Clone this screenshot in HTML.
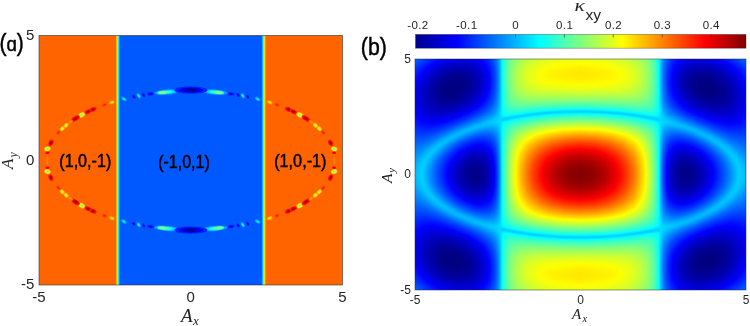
<!DOCTYPE html>
<html><head><meta charset="utf-8"><style>
html,body{margin:0;padding:0;background:#fff;}
body{width:750px;height:326px;overflow:hidden;position:relative;}
svg{position:absolute;left:0;top:0;display:block;}
text{font-family:"Liberation Sans",sans-serif;fill:#262626;}
.ser{font-family:"Liberation Serif",serif;font-style:italic;fill:#222;}
.lab{font-family:"Liberation Sans",sans-serif;fill:#000;}
</style></head><body>
<svg width="750" height="326" viewBox="0 0 750 326">
<defs>
<filter id="bl" x="-50%" y="-50%" width="200%" height="200%"><feGaussianBlur stdDeviation="0.7"/></filter>
<linearGradient id="ga" gradientUnits="userSpaceOnUse" x1="39.0" x2="342.5">
<stop offset="0" stop-color="#ff6400"/>
<stop offset="0.2524" stop-color="#ff6400"/>
<stop offset="0.2567" stop-color="#ffdd00"/>
<stop offset="0.2596" stop-color="#80ff80"/>
<stop offset="0.2626" stop-color="#00e0ff"/>
<stop offset="0.2669" stop-color="#0058ff"/>
<stop offset="0.7331" stop-color="#0058ff"/>
<stop offset="0.7374" stop-color="#00e0ff"/>
<stop offset="0.7404" stop-color="#80ff80"/>
<stop offset="0.7433" stop-color="#ffdd00"/>
<stop offset="0.7476" stop-color="#ff6400"/>
<stop offset="1" stop-color="#ff6400"/>
</linearGradient>
<linearGradient id="gcb" x1="0" x2="1" y1="0" y2="0"><stop offset="0" stop-color="#000090"/><stop offset="0.125" stop-color="#0000ff"/><stop offset="0.375" stop-color="#00ffff"/><stop offset="0.625" stop-color="#ffff00"/><stop offset="0.875" stop-color="#ff0000"/><stop offset="1" stop-color="#800000"/></linearGradient>
<clipPath id="ca"><rect x="39.0" y="35.5" width="303.5" height="249.5"/></clipPath>
<linearGradient id="r0" gradientUnits="userSpaceOnUse" x1="580.5" x2="745.5" spreadMethod="reflect"><stop offset="0" stop-color="#efff10"/><stop offset="0.1697" stop-color="#e4ff1b"/><stop offset="0.2909" stop-color="#c8ff37"/><stop offset="0.3636" stop-color="#a7ff58"/><stop offset="0.4121" stop-color="#7eff81"/><stop offset="0.4424" stop-color="#54ffab"/><stop offset="0.4606" stop-color="#2effd1"/><stop offset="0.4727" stop-color="#08fff7"/><stop offset="0.4788" stop-color="#00ebff"/><stop offset="0.4909" stop-color="#00afff"/><stop offset="0.503" stop-color="#0084ff"/><stop offset="0.5212" stop-color="#0059ff"/><stop offset="0.5515" stop-color="#002dff"/><stop offset="0.5939" stop-color="#0006ff"/><stop offset="0.6182" stop-color="#0000f6"/><stop offset="0.6788" stop-color="#0000e1"/><stop offset="0.7515" stop-color="#0000e1"/><stop offset="0.8303" stop-color="#0000f8"/><stop offset="0.8545" stop-color="#0004ff"/><stop offset="0.9515" stop-color="#003fff"/><stop offset="1" stop-color="#0061ff"/></linearGradient>
<linearGradient id="r1" gradientUnits="userSpaceOnUse" x1="580.5" x2="745.5" spreadMethod="reflect"><stop offset="0" stop-color="#f3ff0c"/><stop offset="0.1697" stop-color="#e7ff18"/><stop offset="0.2848" stop-color="#ceff31"/><stop offset="0.3576" stop-color="#adff52"/><stop offset="0.4061" stop-color="#86ff79"/><stop offset="0.4364" stop-color="#5fffa0"/><stop offset="0.4606" stop-color="#2effd1"/><stop offset="0.4727" stop-color="#08fff7"/><stop offset="0.4788" stop-color="#00ebff"/><stop offset="0.4909" stop-color="#00aeff"/><stop offset="0.503" stop-color="#0083ff"/><stop offset="0.5212" stop-color="#0057ff"/><stop offset="0.5515" stop-color="#002aff"/><stop offset="0.5939" stop-color="#0003ff"/><stop offset="0.6606" stop-color="#0000e1"/><stop offset="0.7273" stop-color="#0000da"/><stop offset="0.8061" stop-color="#0000ea"/><stop offset="0.8606" stop-color="#0002ff"/><stop offset="0.9576" stop-color="#003fff"/><stop offset="1" stop-color="#005dff"/></linearGradient>
<linearGradient id="r2" gradientUnits="userSpaceOnUse" x1="580.5" x2="745.5" spreadMethod="reflect"><stop offset="0" stop-color="#f7ff08"/><stop offset="0.1697" stop-color="#ecff13"/><stop offset="0.2848" stop-color="#d2ff2d"/><stop offset="0.3576" stop-color="#b0ff4f"/><stop offset="0.4061" stop-color="#89ff76"/><stop offset="0.4364" stop-color="#61ff9e"/><stop offset="0.4606" stop-color="#2fffd0"/><stop offset="0.4727" stop-color="#08fff7"/><stop offset="0.4788" stop-color="#00eaff"/><stop offset="0.4909" stop-color="#00aeff"/><stop offset="0.503" stop-color="#0082ff"/><stop offset="0.5212" stop-color="#0055ff"/><stop offset="0.5515" stop-color="#0027ff"/><stop offset="0.5939" stop-color="#0000fe"/><stop offset="0.6485" stop-color="#0000e1"/><stop offset="0.7152" stop-color="#0000d5"/><stop offset="0.7879" stop-color="#0000df"/><stop offset="0.8727" stop-color="#0003ff"/><stop offset="0.9697" stop-color="#0043ff"/><stop offset="1" stop-color="#0058ff"/></linearGradient>
<linearGradient id="r3" gradientUnits="userSpaceOnUse" x1="580.5" x2="745.5" spreadMethod="reflect"><stop offset="0" stop-color="#fcff03"/><stop offset="0.1636" stop-color="#f1ff0e"/><stop offset="0.2788" stop-color="#d8ff27"/><stop offset="0.3576" stop-color="#b4ff4b"/><stop offset="0.4061" stop-color="#8bff74"/><stop offset="0.4364" stop-color="#62ff9d"/><stop offset="0.4606" stop-color="#30ffcf"/><stop offset="0.4727" stop-color="#08fff7"/><stop offset="0.4788" stop-color="#00eaff"/><stop offset="0.4909" stop-color="#00acff"/><stop offset="0.503" stop-color="#0080ff"/><stop offset="0.5212" stop-color="#0053ff"/><stop offset="0.5515" stop-color="#0024ff"/><stop offset="0.5879" stop-color="#0000ff"/><stop offset="0.6424" stop-color="#0000de"/><stop offset="0.7091" stop-color="#0000cf"/><stop offset="0.7818" stop-color="#0000d7"/><stop offset="0.8667" stop-color="#0000f8"/><stop offset="0.8848" stop-color="#0003ff"/><stop offset="1" stop-color="#0053ff"/></linearGradient>
<linearGradient id="r4" gradientUnits="userSpaceOnUse" x1="580.5" x2="745.5" spreadMethod="reflect"><stop offset="0" stop-color="#fffe00"/><stop offset="0.1515" stop-color="#f7ff08"/><stop offset="0.2727" stop-color="#ddff22"/><stop offset="0.3515" stop-color="#baff45"/><stop offset="0.4" stop-color="#94ff6b"/><stop offset="0.4364" stop-color="#64ff9b"/><stop offset="0.4606" stop-color="#30ffcf"/><stop offset="0.4727" stop-color="#08fff7"/><stop offset="0.4788" stop-color="#00eaff"/><stop offset="0.4909" stop-color="#00abff"/><stop offset="0.503" stop-color="#007eff"/><stop offset="0.5212" stop-color="#0050ff"/><stop offset="0.5515" stop-color="#0021ff"/><stop offset="0.5818" stop-color="#0001ff"/><stop offset="0.6364" stop-color="#0000dc"/><stop offset="0.697" stop-color="#0000ca"/><stop offset="0.7697" stop-color="#0000ce"/><stop offset="0.8485" stop-color="#0000e9"/><stop offset="0.8909" stop-color="#0000ff"/><stop offset="1" stop-color="#004eff"/></linearGradient>
<linearGradient id="r5" gradientUnits="userSpaceOnUse" x1="580.5" x2="745.5" spreadMethod="reflect"><stop offset="0" stop-color="#fffa00"/><stop offset="0.1455" stop-color="#fbff04"/><stop offset="0.2667" stop-color="#e3ff1c"/><stop offset="0.3455" stop-color="#c1ff3e"/><stop offset="0.3939" stop-color="#9cff63"/><stop offset="0.4303" stop-color="#6fff90"/><stop offset="0.4545" stop-color="#40ffbf"/><stop offset="0.4667" stop-color="#1fffe0"/><stop offset="0.4727" stop-color="#08fff7"/><stop offset="0.4788" stop-color="#00eaff"/><stop offset="0.4909" stop-color="#00aaff"/><stop offset="0.503" stop-color="#007dff"/><stop offset="0.5212" stop-color="#004eff"/><stop offset="0.5515" stop-color="#001eff"/><stop offset="0.5758" stop-color="#0002ff"/><stop offset="0.6364" stop-color="#0000d7"/><stop offset="0.697" stop-color="#0000c5"/><stop offset="0.7697" stop-color="#0000c7"/><stop offset="0.8485" stop-color="#0000e2"/><stop offset="0.903" stop-color="#0002ff"/><stop offset="1" stop-color="#0048ff"/></linearGradient>
<linearGradient id="r6" gradientUnits="userSpaceOnUse" x1="580.5" x2="745.5" spreadMethod="reflect"><stop offset="0" stop-color="#fff700"/><stop offset="0.1697" stop-color="#fcff03"/><stop offset="0.2848" stop-color="#e0ff1f"/><stop offset="0.3576" stop-color="#bcff43"/><stop offset="0.4061" stop-color="#91ff6e"/><stop offset="0.4364" stop-color="#66ff99"/><stop offset="0.4606" stop-color="#31ffce"/><stop offset="0.4727" stop-color="#08fff7"/><stop offset="0.4788" stop-color="#00eaff"/><stop offset="0.4909" stop-color="#00aaff"/><stop offset="0.503" stop-color="#007bff"/><stop offset="0.5212" stop-color="#004cff"/><stop offset="0.5515" stop-color="#001bff"/><stop offset="0.5758" stop-color="#0000fe"/><stop offset="0.6242" stop-color="#0000d8"/><stop offset="0.6848" stop-color="#0000c1"/><stop offset="0.7515" stop-color="#0000be"/><stop offset="0.8303" stop-color="#0000d3"/><stop offset="0.9091" stop-color="#0000fe"/><stop offset="1" stop-color="#0043ff"/></linearGradient>
<linearGradient id="r7" gradientUnits="userSpaceOnUse" x1="580.5" x2="745.5" spreadMethod="reflect"><stop offset="0" stop-color="#fff400"/><stop offset="0.1879" stop-color="#fcff03"/><stop offset="0.2909" stop-color="#e1ff1e"/><stop offset="0.3576" stop-color="#beff41"/><stop offset="0.4061" stop-color="#93ff6c"/><stop offset="0.4364" stop-color="#67ff98"/><stop offset="0.4606" stop-color="#32ffcd"/><stop offset="0.4727" stop-color="#09fff6"/><stop offset="0.4788" stop-color="#00eaff"/><stop offset="0.4909" stop-color="#00a9ff"/><stop offset="0.503" stop-color="#007aff"/><stop offset="0.5212" stop-color="#004aff"/><stop offset="0.5515" stop-color="#0018ff"/><stop offset="0.5697" stop-color="#0002ff"/><stop offset="0.6242" stop-color="#0000d4"/><stop offset="0.6848" stop-color="#0000bc"/><stop offset="0.7515" stop-color="#0000b8"/><stop offset="0.8242" stop-color="#0000cb"/><stop offset="0.9091" stop-color="#0000f8"/><stop offset="0.9273" stop-color="#0006ff"/><stop offset="1" stop-color="#003eff"/></linearGradient>
<linearGradient id="r8" gradientUnits="userSpaceOnUse" x1="580.5" x2="745.5" spreadMethod="reflect"><stop offset="0" stop-color="#fff100"/><stop offset="0.1636" stop-color="#fffc00"/><stop offset="0.2303" stop-color="#f6ff09"/><stop offset="0.3212" stop-color="#d6ff29"/><stop offset="0.3818" stop-color="#adff52"/><stop offset="0.4182" stop-color="#85ff7a"/><stop offset="0.4485" stop-color="#50ffaf"/><stop offset="0.4667" stop-color="#20ffdf"/><stop offset="0.4727" stop-color="#09fff6"/><stop offset="0.4788" stop-color="#00e9ff"/><stop offset="0.4909" stop-color="#00a8ff"/><stop offset="0.503" stop-color="#0078ff"/><stop offset="0.5212" stop-color="#0048ff"/><stop offset="0.5515" stop-color="#0015ff"/><stop offset="0.5697" stop-color="#0000fe"/><stop offset="0.6182" stop-color="#0000d4"/><stop offset="0.6788" stop-color="#0000b9"/><stop offset="0.7455" stop-color="#0000b2"/><stop offset="0.8182" stop-color="#0000c2"/><stop offset="0.897" stop-color="#0000ea"/><stop offset="0.9273" stop-color="#0000ff"/><stop offset="1" stop-color="#0039ff"/></linearGradient>
<linearGradient id="r9" gradientUnits="userSpaceOnUse" x1="580.5" x2="745.5" spreadMethod="reflect"><stop offset="0" stop-color="#ffee00"/><stop offset="0.1636" stop-color="#fff900"/><stop offset="0.2242" stop-color="#faff05"/><stop offset="0.3152" stop-color="#dbff24"/><stop offset="0.3758" stop-color="#b5ff4a"/><stop offset="0.4182" stop-color="#86ff79"/><stop offset="0.4485" stop-color="#51ffae"/><stop offset="0.4667" stop-color="#20ffdf"/><stop offset="0.4727" stop-color="#09fff6"/><stop offset="0.4788" stop-color="#00e9ff"/><stop offset="0.4909" stop-color="#00a7ff"/><stop offset="0.503" stop-color="#0077ff"/><stop offset="0.5212" stop-color="#0046ff"/><stop offset="0.5515" stop-color="#0012ff"/><stop offset="0.5636" stop-color="#0003ff"/><stop offset="0.6242" stop-color="#0000cc"/><stop offset="0.6848" stop-color="#0000b2"/><stop offset="0.7515" stop-color="#0000ae"/><stop offset="0.8242" stop-color="#0000bf"/><stop offset="0.903" stop-color="#0000e9"/><stop offset="0.9333" stop-color="#0000fe"/><stop offset="1" stop-color="#0034ff"/></linearGradient>
<linearGradient id="r10" gradientUnits="userSpaceOnUse" x1="580.5" x2="745.5" spreadMethod="reflect"><stop offset="0" stop-color="#ffec00"/><stop offset="0.1636" stop-color="#fff700"/><stop offset="0.2303" stop-color="#faff05"/><stop offset="0.3212" stop-color="#daff25"/><stop offset="0.3758" stop-color="#b6ff49"/><stop offset="0.4182" stop-color="#87ff78"/><stop offset="0.4485" stop-color="#51ffae"/><stop offset="0.4667" stop-color="#20ffdf"/><stop offset="0.4727" stop-color="#09fff6"/><stop offset="0.4788" stop-color="#00e9ff"/><stop offset="0.4909" stop-color="#00a6ff"/><stop offset="0.503" stop-color="#0076ff"/><stop offset="0.5212" stop-color="#0044ff"/><stop offset="0.5515" stop-color="#0010ff"/><stop offset="0.5636" stop-color="#0000ff"/><stop offset="0.6121" stop-color="#0000d1"/><stop offset="0.6667" stop-color="#0000b4"/><stop offset="0.7333" stop-color="#0000a8"/><stop offset="0.8061" stop-color="#0000b3"/><stop offset="0.8848" stop-color="#0000d8"/><stop offset="0.9394" stop-color="#0000fe"/><stop offset="1" stop-color="#002fff"/></linearGradient>
<linearGradient id="r11" gradientUnits="userSpaceOnUse" x1="580.5" x2="745.5" spreadMethod="reflect"><stop offset="0" stop-color="#ffeb00"/><stop offset="0.1636" stop-color="#fff500"/><stop offset="0.2303" stop-color="#fcff03"/><stop offset="0.3212" stop-color="#dcff23"/><stop offset="0.3758" stop-color="#b8ff47"/><stop offset="0.4182" stop-color="#88ff77"/><stop offset="0.4424" stop-color="#5fffa0"/><stop offset="0.4606" stop-color="#33ffcc"/><stop offset="0.4727" stop-color="#09fff6"/><stop offset="0.4788" stop-color="#00e9ff"/><stop offset="0.4909" stop-color="#00a6ff"/><stop offset="0.503" stop-color="#0075ff"/><stop offset="0.5212" stop-color="#0042ff"/><stop offset="0.5515" stop-color="#000eff"/><stop offset="0.5636" stop-color="#0000fd"/><stop offset="0.6121" stop-color="#0000ce"/><stop offset="0.6667" stop-color="#0000b0"/><stop offset="0.7333" stop-color="#0000a3"/><stop offset="0.8061" stop-color="#0000ae"/><stop offset="0.8848" stop-color="#0000d2"/><stop offset="0.9455" stop-color="#0000fd"/><stop offset="1" stop-color="#002bff"/></linearGradient>
<linearGradient id="r12" gradientUnits="userSpaceOnUse" x1="580.5" x2="745.5" spreadMethod="reflect"><stop offset="0" stop-color="#ffe900"/><stop offset="0.1636" stop-color="#fff400"/><stop offset="0.2364" stop-color="#fcff03"/><stop offset="0.3212" stop-color="#ddff22"/><stop offset="0.3758" stop-color="#b9ff46"/><stop offset="0.4182" stop-color="#89ff76"/><stop offset="0.4424" stop-color="#5fffa0"/><stop offset="0.4606" stop-color="#34ffcb"/><stop offset="0.4727" stop-color="#09fff6"/><stop offset="0.4788" stop-color="#00e9ff"/><stop offset="0.4909" stop-color="#00a5ff"/><stop offset="0.503" stop-color="#0074ff"/><stop offset="0.5212" stop-color="#0041ff"/><stop offset="0.5515" stop-color="#000cff"/><stop offset="0.5636" stop-color="#0000fa"/><stop offset="0.6121" stop-color="#0000cb"/><stop offset="0.6667" stop-color="#0000ac"/><stop offset="0.7333" stop-color="#00009f"/><stop offset="0.8061" stop-color="#0000a9"/><stop offset="0.8848" stop-color="#0000cd"/><stop offset="0.9515" stop-color="#0000fe"/><stop offset="1" stop-color="#0027ff"/></linearGradient>
<linearGradient id="r13" gradientUnits="userSpaceOnUse" x1="580.5" x2="745.5" spreadMethod="reflect"><stop offset="0" stop-color="#ffe900"/><stop offset="0.1636" stop-color="#fff300"/><stop offset="0.2424" stop-color="#fcff03"/><stop offset="0.3273" stop-color="#dbff24"/><stop offset="0.3818" stop-color="#b4ff4b"/><stop offset="0.4182" stop-color="#8aff75"/><stop offset="0.4424" stop-color="#60ff9f"/><stop offset="0.4606" stop-color="#34ffcb"/><stop offset="0.4727" stop-color="#09fff6"/><stop offset="0.4788" stop-color="#00e9ff"/><stop offset="0.4909" stop-color="#00a5ff"/><stop offset="0.503" stop-color="#0073ff"/><stop offset="0.5212" stop-color="#0040ff"/><stop offset="0.5515" stop-color="#000aff"/><stop offset="0.5576" stop-color="#0001ff"/><stop offset="0.6061" stop-color="#0000cd"/><stop offset="0.6606" stop-color="#0000ab"/><stop offset="0.7212" stop-color="#00009c"/><stop offset="0.7879" stop-color="#0000a0"/><stop offset="0.8606" stop-color="#0000bb"/><stop offset="0.9394" stop-color="#0000ef"/><stop offset="0.9576" stop-color="#0000fe"/><stop offset="1" stop-color="#0023ff"/></linearGradient>
<linearGradient id="r14" gradientUnits="userSpaceOnUse" x1="580.5" x2="745.5" spreadMethod="reflect"><stop offset="0" stop-color="#ffe800"/><stop offset="0.1697" stop-color="#fff300"/><stop offset="0.2424" stop-color="#fdff02"/><stop offset="0.3273" stop-color="#dcff23"/><stop offset="0.3818" stop-color="#b5ff4a"/><stop offset="0.4182" stop-color="#8bff74"/><stop offset="0.4424" stop-color="#60ff9f"/><stop offset="0.4606" stop-color="#34ffcb"/><stop offset="0.4727" stop-color="#09fff6"/><stop offset="0.4788" stop-color="#00e9ff"/><stop offset="0.4909" stop-color="#00a4ff"/><stop offset="0.503" stop-color="#0072ff"/><stop offset="0.5212" stop-color="#003fff"/><stop offset="0.5515" stop-color="#0008ff"/><stop offset="0.5576" stop-color="#0000ff"/><stop offset="0.6" stop-color="#0000d0"/><stop offset="0.6545" stop-color="#0000ab"/><stop offset="0.7152" stop-color="#000099"/><stop offset="0.7818" stop-color="#00009b"/><stop offset="0.8545" stop-color="#0000b4"/><stop offset="0.9333" stop-color="#0000e6"/><stop offset="0.9636" stop-color="#0000ff"/><stop offset="1" stop-color="#001fff"/></linearGradient>
<linearGradient id="r15" gradientUnits="userSpaceOnUse" x1="580.5" x2="745.5" spreadMethod="reflect"><stop offset="0" stop-color="#ffe800"/><stop offset="0.1697" stop-color="#fff300"/><stop offset="0.2485" stop-color="#fbff04"/><stop offset="0.3273" stop-color="#ddff22"/><stop offset="0.3818" stop-color="#b6ff49"/><stop offset="0.4182" stop-color="#8bff74"/><stop offset="0.4424" stop-color="#61ff9e"/><stop offset="0.4606" stop-color="#34ffcb"/><stop offset="0.4727" stop-color="#09fff6"/><stop offset="0.4788" stop-color="#00e9ff"/><stop offset="0.4909" stop-color="#00a4ff"/><stop offset="0.503" stop-color="#0071ff"/><stop offset="0.5212" stop-color="#003eff"/><stop offset="0.5515" stop-color="#0007ff"/><stop offset="0.5576" stop-color="#0000fd"/><stop offset="0.6" stop-color="#0000ce"/><stop offset="0.6545" stop-color="#0000a8"/><stop offset="0.7152" stop-color="#000095"/><stop offset="0.7818" stop-color="#000097"/><stop offset="0.8545" stop-color="#0000af"/><stop offset="0.9333" stop-color="#0000e2"/><stop offset="0.9697" stop-color="#0002ff"/><stop offset="1" stop-color="#001bff"/></linearGradient>
<linearGradient id="r16" gradientUnits="userSpaceOnUse" x1="580.5" x2="745.5" spreadMethod="reflect"><stop offset="0" stop-color="#ffe800"/><stop offset="0.1697" stop-color="#fff300"/><stop offset="0.2485" stop-color="#fcff03"/><stop offset="0.3273" stop-color="#ddff22"/><stop offset="0.3818" stop-color="#b6ff49"/><stop offset="0.4182" stop-color="#8bff74"/><stop offset="0.4424" stop-color="#61ff9e"/><stop offset="0.4606" stop-color="#34ffcb"/><stop offset="0.4727" stop-color="#09fff6"/><stop offset="0.4788" stop-color="#00e9ff"/><stop offset="0.4909" stop-color="#00a3ff"/><stop offset="0.503" stop-color="#0071ff"/><stop offset="0.5212" stop-color="#003dff"/><stop offset="0.5515" stop-color="#0006ff"/><stop offset="0.5636" stop-color="#0000f4"/><stop offset="0.6121" stop-color="#0000c2"/><stop offset="0.6667" stop-color="#0000a0"/><stop offset="0.7273" stop-color="#000091"/><stop offset="0.7939" stop-color="#000096"/><stop offset="0.8667" stop-color="#0000b1"/><stop offset="0.9455" stop-color="#0000e7"/><stop offset="0.9758" stop-color="#0004ff"/><stop offset="1" stop-color="#0017ff"/></linearGradient>
<linearGradient id="r17" gradientUnits="userSpaceOnUse" x1="580.5" x2="745.5" spreadMethod="reflect"><stop offset="0" stop-color="#ffe900"/><stop offset="0.1697" stop-color="#fff300"/><stop offset="0.2485" stop-color="#fbff04"/><stop offset="0.3273" stop-color="#ddff22"/><stop offset="0.3818" stop-color="#b7ff48"/><stop offset="0.4182" stop-color="#8cff73"/><stop offset="0.4424" stop-color="#61ff9e"/><stop offset="0.4606" stop-color="#34ffcb"/><stop offset="0.4727" stop-color="#09fff6"/><stop offset="0.4788" stop-color="#00e9ff"/><stop offset="0.4909" stop-color="#00a3ff"/><stop offset="0.503" stop-color="#0070ff"/><stop offset="0.5212" stop-color="#003cff"/><stop offset="0.5515" stop-color="#0005ff"/><stop offset="0.5636" stop-color="#0000f3"/><stop offset="0.6121" stop-color="#0000c0"/><stop offset="0.6667" stop-color="#00009e"/><stop offset="0.7273" stop-color="#00008e"/><stop offset="0.7939" stop-color="#000092"/><stop offset="0.8667" stop-color="#0000ae"/><stop offset="0.9394" stop-color="#0000df"/><stop offset="0.9758" stop-color="#0000ff"/><stop offset="1" stop-color="#0014ff"/></linearGradient>
<linearGradient id="r18" gradientUnits="userSpaceOnUse" x1="580.5" x2="745.5" spreadMethod="reflect"><stop offset="0" stop-color="#ffea00"/><stop offset="0.1758" stop-color="#fff500"/><stop offset="0.2424" stop-color="#fdff02"/><stop offset="0.3273" stop-color="#ddff22"/><stop offset="0.3818" stop-color="#b7ff48"/><stop offset="0.4182" stop-color="#8cff73"/><stop offset="0.4424" stop-color="#61ff9e"/><stop offset="0.4606" stop-color="#35ffca"/><stop offset="0.4727" stop-color="#09fff6"/><stop offset="0.4788" stop-color="#00e9ff"/><stop offset="0.4909" stop-color="#00a3ff"/><stop offset="0.503" stop-color="#0070ff"/><stop offset="0.5212" stop-color="#003cff"/><stop offset="0.5515" stop-color="#0004ff"/><stop offset="0.5758" stop-color="#0000e3"/><stop offset="0.6242" stop-color="#0000b5"/><stop offset="0.6848" stop-color="#000095"/><stop offset="0.7515" stop-color="#00008a"/><stop offset="0.8182" stop-color="#000095"/><stop offset="0.8909" stop-color="#0000b8"/><stop offset="0.9636" stop-color="#0000f0"/><stop offset="0.9818" stop-color="#0002ff"/><stop offset="1" stop-color="#0010ff"/></linearGradient>
<linearGradient id="r19" gradientUnits="userSpaceOnUse" x1="580.5" x2="745.5" spreadMethod="reflect"><stop offset="0" stop-color="#ffec00"/><stop offset="0.1758" stop-color="#fff600"/><stop offset="0.2424" stop-color="#fcff03"/><stop offset="0.3273" stop-color="#ddff22"/><stop offset="0.3818" stop-color="#b6ff49"/><stop offset="0.4182" stop-color="#8cff73"/><stop offset="0.4424" stop-color="#61ff9e"/><stop offset="0.4606" stop-color="#35ffca"/><stop offset="0.4727" stop-color="#09fff6"/><stop offset="0.4788" stop-color="#00e9ff"/><stop offset="0.4909" stop-color="#00a3ff"/><stop offset="0.503" stop-color="#0070ff"/><stop offset="0.5212" stop-color="#003bff"/><stop offset="0.5515" stop-color="#0003ff"/><stop offset="0.6061" stop-color="#0000c2"/><stop offset="0.6606" stop-color="#00009d"/><stop offset="0.7212" stop-color="#00008a"/><stop offset="0.7879" stop-color="#00008b"/><stop offset="0.8606" stop-color="#0000a4"/><stop offset="0.9333" stop-color="#0000d3"/><stop offset="0.9818" stop-color="#0000fe"/><stop offset="1" stop-color="#000dff"/></linearGradient>
<linearGradient id="r20" gradientUnits="userSpaceOnUse" x1="580.5" x2="745.5" spreadMethod="reflect"><stop offset="0" stop-color="#ffed00"/><stop offset="0.1758" stop-color="#fff700"/><stop offset="0.2424" stop-color="#fbff04"/><stop offset="0.3273" stop-color="#dcff23"/><stop offset="0.3818" stop-color="#b6ff49"/><stop offset="0.4182" stop-color="#8cff73"/><stop offset="0.4424" stop-color="#61ff9e"/><stop offset="0.4606" stop-color="#35ffca"/><stop offset="0.4727" stop-color="#09fff6"/><stop offset="0.4788" stop-color="#00e9ff"/><stop offset="0.4909" stop-color="#00a3ff"/><stop offset="0.503" stop-color="#0070ff"/><stop offset="0.5212" stop-color="#003bff"/><stop offset="0.5515" stop-color="#0003ff"/><stop offset="0.6061" stop-color="#0000c2"/><stop offset="0.6606" stop-color="#00009c"/><stop offset="0.7212" stop-color="#000088"/><stop offset="0.7879" stop-color="#000088"/><stop offset="0.8606" stop-color="#0000a1"/><stop offset="0.9333" stop-color="#0000cf"/><stop offset="0.9879" stop-color="#0001ff"/><stop offset="1" stop-color="#000aff"/></linearGradient>
<linearGradient id="r21" gradientUnits="userSpaceOnUse" x1="580.5" x2="745.5" spreadMethod="reflect"><stop offset="0" stop-color="#fff000"/><stop offset="0.1818" stop-color="#fffa00"/><stop offset="0.2424" stop-color="#f9ff06"/><stop offset="0.3273" stop-color="#dbff24"/><stop offset="0.3818" stop-color="#b6ff49"/><stop offset="0.4182" stop-color="#8bff74"/><stop offset="0.4424" stop-color="#61ff9e"/><stop offset="0.4606" stop-color="#34ffcb"/><stop offset="0.4727" stop-color="#09fff6"/><stop offset="0.4788" stop-color="#00e9ff"/><stop offset="0.4909" stop-color="#00a3ff"/><stop offset="0.503" stop-color="#0070ff"/><stop offset="0.5212" stop-color="#003bff"/><stop offset="0.5515" stop-color="#0003ff"/><stop offset="0.6061" stop-color="#0000c1"/><stop offset="0.6606" stop-color="#00009b"/><stop offset="0.7212" stop-color="#000086"/><stop offset="0.7879" stop-color="#000086"/><stop offset="0.8606" stop-color="#00009e"/><stop offset="0.9333" stop-color="#0000cc"/><stop offset="0.9879" stop-color="#0000fd"/><stop offset="1" stop-color="#0007ff"/></linearGradient>
<linearGradient id="r22" gradientUnits="userSpaceOnUse" x1="580.5" x2="745.5" spreadMethod="reflect"><stop offset="0" stop-color="#fff300"/><stop offset="0.1818" stop-color="#fffc00"/><stop offset="0.2606" stop-color="#f3ff0c"/><stop offset="0.3394" stop-color="#d4ff2b"/><stop offset="0.3879" stop-color="#afff50"/><stop offset="0.4242" stop-color="#82ff7d"/><stop offset="0.4485" stop-color="#54ffab"/><stop offset="0.4667" stop-color="#21ffde"/><stop offset="0.4727" stop-color="#09fff6"/><stop offset="0.4788" stop-color="#00e9ff"/><stop offset="0.4909" stop-color="#00a3ff"/><stop offset="0.503" stop-color="#0070ff"/><stop offset="0.5212" stop-color="#003bff"/><stop offset="0.5515" stop-color="#0003ff"/><stop offset="0.6061" stop-color="#0000c1"/><stop offset="0.6606" stop-color="#00009a"/><stop offset="0.7212" stop-color="#000085"/><stop offset="0.7879" stop-color="#000084"/><stop offset="0.8606" stop-color="#00009b"/><stop offset="0.9333" stop-color="#0000ca"/><stop offset="0.9939" stop-color="#0001ff"/><stop offset="1" stop-color="#0005ff"/></linearGradient>
<linearGradient id="r23" gradientUnits="userSpaceOnUse" x1="580.5" x2="745.5" spreadMethod="reflect"><stop offset="0" stop-color="#fff600"/><stop offset="0.2061" stop-color="#fcff03"/><stop offset="0.303" stop-color="#e3ff1c"/><stop offset="0.3636" stop-color="#c3ff3c"/><stop offset="0.4061" stop-color="#9bff64"/><stop offset="0.4364" stop-color="#6dff92"/><stop offset="0.4545" stop-color="#45ffba"/><stop offset="0.4667" stop-color="#21ffde"/><stop offset="0.4727" stop-color="#09fff6"/><stop offset="0.4788" stop-color="#00e9ff"/><stop offset="0.4909" stop-color="#00a3ff"/><stop offset="0.503" stop-color="#0070ff"/><stop offset="0.5212" stop-color="#003bff"/><stop offset="0.5515" stop-color="#0003ff"/><stop offset="0.6061" stop-color="#0000c1"/><stop offset="0.6606" stop-color="#000099"/><stop offset="0.7212" stop-color="#000084"/><stop offset="0.7879" stop-color="#000082"/><stop offset="0.8545" stop-color="#000096"/><stop offset="0.9273" stop-color="#0000c2"/><stop offset="0.9939" stop-color="#0000fd"/><stop offset="1" stop-color="#0002ff"/></linearGradient>
<linearGradient id="r24" gradientUnits="userSpaceOnUse" x1="580.5" x2="745.5" spreadMethod="reflect"><stop offset="0" stop-color="#fff900"/><stop offset="0.1818" stop-color="#fcff03"/><stop offset="0.2909" stop-color="#e6ff19"/><stop offset="0.3576" stop-color="#c6ff39"/><stop offset="0.4" stop-color="#a1ff5e"/><stop offset="0.4303" stop-color="#77ff88"/><stop offset="0.4545" stop-color="#45ffba"/><stop offset="0.4667" stop-color="#21ffde"/><stop offset="0.4727" stop-color="#09fff6"/><stop offset="0.4788" stop-color="#00e9ff"/><stop offset="0.4909" stop-color="#00a3ff"/><stop offset="0.503" stop-color="#0071ff"/><stop offset="0.5212" stop-color="#003cff"/><stop offset="0.5515" stop-color="#0003ff"/><stop offset="0.6061" stop-color="#0000c1"/><stop offset="0.6606" stop-color="#000099"/><stop offset="0.7212" stop-color="#000083"/><stop offset="0.7939" stop-color="#000082"/><stop offset="0.8606" stop-color="#000097"/><stop offset="0.9333" stop-color="#0000c5"/><stop offset="1" stop-color="#0000ff"/></linearGradient>
<linearGradient id="r25" gradientUnits="userSpaceOnUse" x1="580.5" x2="745.5" spreadMethod="reflect"><stop offset="0" stop-color="#fffd00"/><stop offset="0.1758" stop-color="#f9ff06"/><stop offset="0.2848" stop-color="#e5ff1a"/><stop offset="0.3515" stop-color="#c8ff37"/><stop offset="0.4" stop-color="#a0ff5f"/><stop offset="0.4303" stop-color="#76ff89"/><stop offset="0.4545" stop-color="#44ffbb"/><stop offset="0.4667" stop-color="#21ffde"/><stop offset="0.4727" stop-color="#09fff6"/><stop offset="0.4788" stop-color="#00e9ff"/><stop offset="0.4909" stop-color="#00a4ff"/><stop offset="0.503" stop-color="#0071ff"/><stop offset="0.5212" stop-color="#003dff"/><stop offset="0.5515" stop-color="#0004ff"/><stop offset="0.5758" stop-color="#0000e2"/><stop offset="0.6242" stop-color="#0000b1"/><stop offset="0.6848" stop-color="#00008d"/><stop offset="0.7455" stop-color="#000080"/><stop offset="0.8121" stop-color="#000084"/><stop offset="0.8788" stop-color="#00009e"/><stop offset="0.9515" stop-color="#0000d2"/><stop offset="1" stop-color="#0000fd"/></linearGradient>
<linearGradient id="r26" gradientUnits="userSpaceOnUse" x1="580.5" x2="745.5" spreadMethod="reflect"><stop offset="0" stop-color="#fcff03"/><stop offset="0.2" stop-color="#f3ff0c"/><stop offset="0.303" stop-color="#dcff23"/><stop offset="0.3636" stop-color="#beff41"/><stop offset="0.4061" stop-color="#98ff67"/><stop offset="0.4364" stop-color="#6bff94"/><stop offset="0.4545" stop-color="#44ffbb"/><stop offset="0.4667" stop-color="#21ffde"/><stop offset="0.4727" stop-color="#09fff6"/><stop offset="0.4788" stop-color="#00e9ff"/><stop offset="0.4909" stop-color="#00a4ff"/><stop offset="0.503" stop-color="#0072ff"/><stop offset="0.5212" stop-color="#003dff"/><stop offset="0.5515" stop-color="#0005ff"/><stop offset="0.5636" stop-color="#0000f2"/><stop offset="0.6121" stop-color="#0000bc"/><stop offset="0.6667" stop-color="#000096"/><stop offset="0.7273" stop-color="#000081"/><stop offset="0.8121" stop-color="#000083"/><stop offset="0.8788" stop-color="#00009c"/><stop offset="0.9455" stop-color="#0000ca"/><stop offset="1" stop-color="#0000fb"/></linearGradient>
<linearGradient id="r27" gradientUnits="userSpaceOnUse" x1="580.5" x2="745.5" spreadMethod="reflect"><stop offset="0" stop-color="#f7ff08"/><stop offset="0.2061" stop-color="#eeff11"/><stop offset="0.303" stop-color="#d9ff26"/><stop offset="0.3636" stop-color="#bcff43"/><stop offset="0.4061" stop-color="#97ff68"/><stop offset="0.4364" stop-color="#6aff95"/><stop offset="0.4545" stop-color="#44ffbb"/><stop offset="0.4667" stop-color="#21ffde"/><stop offset="0.4727" stop-color="#09fff6"/><stop offset="0.4788" stop-color="#00e9ff"/><stop offset="0.4909" stop-color="#00a4ff"/><stop offset="0.503" stop-color="#0072ff"/><stop offset="0.5212" stop-color="#003eff"/><stop offset="0.5515" stop-color="#0006ff"/><stop offset="0.5636" stop-color="#0000f3"/><stop offset="0.6121" stop-color="#0000bd"/><stop offset="0.6667" stop-color="#000096"/><stop offset="0.7273" stop-color="#000081"/><stop offset="0.8121" stop-color="#000082"/><stop offset="0.8788" stop-color="#00009b"/><stop offset="0.9455" stop-color="#0000c9"/><stop offset="1" stop-color="#0000f9"/></linearGradient>
<linearGradient id="r28" gradientUnits="userSpaceOnUse" x1="580.5" x2="745.5" spreadMethod="reflect"><stop offset="0" stop-color="#f2ff0d"/><stop offset="0.2121" stop-color="#e9ff16"/><stop offset="0.3091" stop-color="#d4ff2b"/><stop offset="0.3697" stop-color="#b6ff49"/><stop offset="0.4121" stop-color="#8eff71"/><stop offset="0.4424" stop-color="#5effa1"/><stop offset="0.4606" stop-color="#33ffcc"/><stop offset="0.4727" stop-color="#09fff6"/><stop offset="0.4788" stop-color="#00e9ff"/><stop offset="0.4909" stop-color="#00a5ff"/><stop offset="0.503" stop-color="#0073ff"/><stop offset="0.5212" stop-color="#003fff"/><stop offset="0.5515" stop-color="#0007ff"/><stop offset="0.5576" stop-color="#0000fd"/><stop offset="0.6061" stop-color="#0000c4"/><stop offset="0.6606" stop-color="#00009b"/><stop offset="0.7212" stop-color="#000082"/><stop offset="0.8121" stop-color="#000081"/><stop offset="0.8788" stop-color="#00009a"/><stop offset="0.9455" stop-color="#0000c7"/><stop offset="1" stop-color="#0000f7"/></linearGradient>
<linearGradient id="r29" gradientUnits="userSpaceOnUse" x1="580.5" x2="745.5" spreadMethod="reflect"><stop offset="0" stop-color="#ecff13"/><stop offset="0.2182" stop-color="#e3ff1c"/><stop offset="0.3152" stop-color="#cfff30"/><stop offset="0.3758" stop-color="#afff50"/><stop offset="0.4121" stop-color="#8cff73"/><stop offset="0.4424" stop-color="#5dffa2"/><stop offset="0.4606" stop-color="#33ffcc"/><stop offset="0.4727" stop-color="#09fff6"/><stop offset="0.4788" stop-color="#00e9ff"/><stop offset="0.4909" stop-color="#00a6ff"/><stop offset="0.503" stop-color="#0074ff"/><stop offset="0.5212" stop-color="#0041ff"/><stop offset="0.5515" stop-color="#0008ff"/><stop offset="0.5576" stop-color="#0000fe"/><stop offset="0.6061" stop-color="#0000c5"/><stop offset="0.6606" stop-color="#00009c"/><stop offset="0.7212" stop-color="#000083"/><stop offset="0.8121" stop-color="#000081"/><stop offset="0.8788" stop-color="#000099"/><stop offset="0.9455" stop-color="#0000c6"/><stop offset="1" stop-color="#0000f5"/></linearGradient>
<linearGradient id="r30" gradientUnits="userSpaceOnUse" x1="580.5" x2="745.5" spreadMethod="reflect"><stop offset="0" stop-color="#e6ff19"/><stop offset="0.2242" stop-color="#deff21"/><stop offset="0.3212" stop-color="#c9ff36"/><stop offset="0.3758" stop-color="#adff52"/><stop offset="0.4121" stop-color="#8bff74"/><stop offset="0.4424" stop-color="#5dffa2"/><stop offset="0.4606" stop-color="#32ffcd"/><stop offset="0.4727" stop-color="#09fff6"/><stop offset="0.4788" stop-color="#00e9ff"/><stop offset="0.4909" stop-color="#00a6ff"/><stop offset="0.503" stop-color="#0075ff"/><stop offset="0.5212" stop-color="#0042ff"/><stop offset="0.5515" stop-color="#000aff"/><stop offset="0.5576" stop-color="#0001ff"/><stop offset="0.6121" stop-color="#0000c1"/><stop offset="0.6727" stop-color="#000096"/><stop offset="0.7394" stop-color="#000080"/><stop offset="0.8242" stop-color="#000083"/><stop offset="0.8909" stop-color="#00009e"/><stop offset="0.9576" stop-color="#0000cf"/><stop offset="1" stop-color="#0000f4"/></linearGradient>
<linearGradient id="r31" gradientUnits="userSpaceOnUse" x1="580.5" x2="745.5" spreadMethod="reflect"><stop offset="0" stop-color="#dfff20"/><stop offset="0.2303" stop-color="#d8ff27"/><stop offset="0.3212" stop-color="#c5ff3a"/><stop offset="0.3758" stop-color="#aaff55"/><stop offset="0.4121" stop-color="#89ff76"/><stop offset="0.4424" stop-color="#5cffa3"/><stop offset="0.4606" stop-color="#32ffcd"/><stop offset="0.4727" stop-color="#09fff6"/><stop offset="0.4788" stop-color="#00e9ff"/><stop offset="0.4909" stop-color="#00a7ff"/><stop offset="0.503" stop-color="#0076ff"/><stop offset="0.5212" stop-color="#0044ff"/><stop offset="0.5515" stop-color="#000cff"/><stop offset="0.5636" stop-color="#0000fa"/><stop offset="0.6121" stop-color="#0000c3"/><stop offset="0.6727" stop-color="#000098"/><stop offset="0.7394" stop-color="#000081"/><stop offset="0.8182" stop-color="#000082"/><stop offset="0.8848" stop-color="#00009b"/><stop offset="0.9515" stop-color="#0000c8"/><stop offset="1" stop-color="#0000f3"/></linearGradient>
<linearGradient id="r32" gradientUnits="userSpaceOnUse" x1="580.5" x2="745.5" spreadMethod="reflect"><stop offset="0" stop-color="#d8ff27"/><stop offset="0.2364" stop-color="#d1ff2e"/><stop offset="0.3273" stop-color="#bfff40"/><stop offset="0.3818" stop-color="#a3ff5c"/><stop offset="0.4182" stop-color="#80ff7f"/><stop offset="0.4424" stop-color="#5bffa4"/><stop offset="0.4606" stop-color="#31ffce"/><stop offset="0.4727" stop-color="#08fff7"/><stop offset="0.4788" stop-color="#00e9ff"/><stop offset="0.4909" stop-color="#00a8ff"/><stop offset="0.503" stop-color="#0078ff"/><stop offset="0.5212" stop-color="#0045ff"/><stop offset="0.5515" stop-color="#000eff"/><stop offset="0.5636" stop-color="#0000fc"/><stop offset="0.6121" stop-color="#0000c6"/><stop offset="0.6727" stop-color="#00009a"/><stop offset="0.7394" stop-color="#000082"/><stop offset="0.8182" stop-color="#000082"/><stop offset="0.8848" stop-color="#00009a"/><stop offset="0.9515" stop-color="#0000c7"/><stop offset="1" stop-color="#0000f2"/></linearGradient>
<linearGradient id="r33" gradientUnits="userSpaceOnUse" x1="580.5" x2="745.5" spreadMethod="reflect"><stop offset="0" stop-color="#d1ff2e"/><stop offset="0.2424" stop-color="#cbff34"/><stop offset="0.3333" stop-color="#b8ff47"/><stop offset="0.3879" stop-color="#9bff64"/><stop offset="0.4242" stop-color="#76ff89"/><stop offset="0.4485" stop-color="#4effb1"/><stop offset="0.4667" stop-color="#1fffe0"/><stop offset="0.4727" stop-color="#08fff7"/><stop offset="0.4788" stop-color="#00eaff"/><stop offset="0.4909" stop-color="#00a9ff"/><stop offset="0.503" stop-color="#0079ff"/><stop offset="0.5212" stop-color="#0047ff"/><stop offset="0.5515" stop-color="#0011ff"/><stop offset="0.5636" stop-color="#0000fe"/><stop offset="0.6121" stop-color="#0000c8"/><stop offset="0.6727" stop-color="#00009c"/><stop offset="0.7394" stop-color="#000083"/><stop offset="0.8061" stop-color="#000081"/><stop offset="0.8727" stop-color="#000094"/><stop offset="0.9394" stop-color="#0000bd"/><stop offset="1" stop-color="#0000f1"/></linearGradient>
<linearGradient id="r34" gradientUnits="userSpaceOnUse" x1="580.5" x2="745.5" spreadMethod="reflect"><stop offset="0" stop-color="#c9ff36"/><stop offset="0.2545" stop-color="#c3ff3c"/><stop offset="0.3394" stop-color="#b2ff4d"/><stop offset="0.3939" stop-color="#93ff6c"/><stop offset="0.4303" stop-color="#6cff93"/><stop offset="0.4545" stop-color="#3fffc0"/><stop offset="0.4667" stop-color="#1fffe0"/><stop offset="0.4727" stop-color="#08fff7"/><stop offset="0.4788" stop-color="#00eaff"/><stop offset="0.4909" stop-color="#00aaff"/><stop offset="0.503" stop-color="#007aff"/><stop offset="0.5212" stop-color="#0049ff"/><stop offset="0.5515" stop-color="#0013ff"/><stop offset="0.5636" stop-color="#0002ff"/><stop offset="0.6242" stop-color="#0000c0"/><stop offset="0.6848" stop-color="#000098"/><stop offset="0.7515" stop-color="#000083"/><stop offset="0.8182" stop-color="#000084"/><stop offset="0.8848" stop-color="#00009a"/><stop offset="0.9515" stop-color="#0000c6"/><stop offset="1" stop-color="#0000f0"/></linearGradient>
<linearGradient id="r35" gradientUnits="userSpaceOnUse" x1="580.5" x2="745.5" spreadMethod="reflect"><stop offset="0" stop-color="#c0ff3f"/><stop offset="0.2606" stop-color="#bcff43"/><stop offset="0.3455" stop-color="#abff54"/><stop offset="0.3939" stop-color="#90ff6f"/><stop offset="0.4303" stop-color="#6aff95"/><stop offset="0.4545" stop-color="#3fffc0"/><stop offset="0.4667" stop-color="#1effe1"/><stop offset="0.4727" stop-color="#08fff7"/><stop offset="0.4788" stop-color="#00eaff"/><stop offset="0.4909" stop-color="#00abff"/><stop offset="0.503" stop-color="#007cff"/><stop offset="0.5212" stop-color="#004cff"/><stop offset="0.5515" stop-color="#0016ff"/><stop offset="0.5697" stop-color="#0000fc"/><stop offset="0.6242" stop-color="#0000c3"/><stop offset="0.6848" stop-color="#00009b"/><stop offset="0.7515" stop-color="#000085"/><stop offset="0.8182" stop-color="#000085"/><stop offset="0.8848" stop-color="#00009a"/><stop offset="0.9515" stop-color="#0000c6"/><stop offset="1" stop-color="#0000ef"/></linearGradient>
<linearGradient id="r36" gradientUnits="userSpaceOnUse" x1="580.5" x2="745.5" spreadMethod="reflect"><stop offset="0" stop-color="#b7ff48"/><stop offset="0.2727" stop-color="#b4ff4b"/><stop offset="0.3515" stop-color="#a4ff5b"/><stop offset="0.4" stop-color="#88ff77"/><stop offset="0.4303" stop-color="#68ff97"/><stop offset="0.4545" stop-color="#3effc1"/><stop offset="0.4667" stop-color="#1effe1"/><stop offset="0.4727" stop-color="#08fff7"/><stop offset="0.4788" stop-color="#00eaff"/><stop offset="0.4909" stop-color="#00acff"/><stop offset="0.503" stop-color="#007eff"/><stop offset="0.5212" stop-color="#004eff"/><stop offset="0.5515" stop-color="#0019ff"/><stop offset="0.5697" stop-color="#0000ff"/><stop offset="0.6242" stop-color="#0000c6"/><stop offset="0.6848" stop-color="#00009e"/><stop offset="0.7515" stop-color="#000087"/><stop offset="0.8182" stop-color="#000086"/><stop offset="0.8848" stop-color="#00009b"/><stop offset="0.9515" stop-color="#0000c6"/><stop offset="1" stop-color="#0000ef"/></linearGradient>
<linearGradient id="r37" gradientUnits="userSpaceOnUse" x1="580.5" x2="745.5" spreadMethod="reflect"><stop offset="0" stop-color="#aeff51"/><stop offset="0.2788" stop-color="#adff52"/><stop offset="0.3576" stop-color="#9cff63"/><stop offset="0.4061" stop-color="#80ff7f"/><stop offset="0.4364" stop-color="#5dffa2"/><stop offset="0.4545" stop-color="#3dffc2"/><stop offset="0.4667" stop-color="#1dffe2"/><stop offset="0.4727" stop-color="#08fff7"/><stop offset="0.4788" stop-color="#00eaff"/><stop offset="0.4909" stop-color="#00adff"/><stop offset="0.503" stop-color="#0080ff"/><stop offset="0.5212" stop-color="#0051ff"/><stop offset="0.5515" stop-color="#001cff"/><stop offset="0.5697" stop-color="#0003ff"/><stop offset="0.6121" stop-color="#0000d5"/><stop offset="0.6727" stop-color="#0000a8"/><stop offset="0.7394" stop-color="#00008c"/><stop offset="0.8061" stop-color="#000087"/><stop offset="0.8727" stop-color="#000097"/><stop offset="0.9394" stop-color="#0000bc"/><stop offset="1" stop-color="#0000ef"/></linearGradient>
<linearGradient id="r38" gradientUnits="userSpaceOnUse" x1="580.5" x2="745.5" spreadMethod="reflect"><stop offset="0" stop-color="#a4ff5b"/><stop offset="0.2848" stop-color="#a5ff5a"/><stop offset="0.3636" stop-color="#95ff6a"/><stop offset="0.4061" stop-color="#7cff83"/><stop offset="0.4364" stop-color="#5bffa4"/><stop offset="0.4545" stop-color="#3bffc4"/><stop offset="0.4667" stop-color="#1dffe2"/><stop offset="0.4727" stop-color="#07fff8"/><stop offset="0.4788" stop-color="#00eaff"/><stop offset="0.4909" stop-color="#00aeff"/><stop offset="0.503" stop-color="#0082ff"/><stop offset="0.5212" stop-color="#0053ff"/><stop offset="0.5515" stop-color="#0020ff"/><stop offset="0.5758" stop-color="#0000ff"/><stop offset="0.6303" stop-color="#0000c9"/><stop offset="0.697" stop-color="#00009f"/><stop offset="0.7636" stop-color="#00008b"/><stop offset="0.8303" stop-color="#00008c"/><stop offset="0.897" stop-color="#0000a3"/><stop offset="0.9636" stop-color="#0000d0"/><stop offset="1" stop-color="#0000ee"/></linearGradient>
<linearGradient id="r39" gradientUnits="userSpaceOnUse" x1="580.5" x2="745.5" spreadMethod="reflect"><stop offset="0" stop-color="#9aff65"/><stop offset="0.297" stop-color="#9dff62"/><stop offset="0.3697" stop-color="#8dff72"/><stop offset="0.4121" stop-color="#74ff8b"/><stop offset="0.4424" stop-color="#50ffaf"/><stop offset="0.4606" stop-color="#2cffd3"/><stop offset="0.4727" stop-color="#07fff8"/><stop offset="0.4788" stop-color="#00ebff"/><stop offset="0.4909" stop-color="#00afff"/><stop offset="0.503" stop-color="#0084ff"/><stop offset="0.5212" stop-color="#0056ff"/><stop offset="0.5576" stop-color="#001bff"/><stop offset="0.5818" stop-color="#0000fc"/><stop offset="0.6424" stop-color="#0000c3"/><stop offset="0.7091" stop-color="#00009d"/><stop offset="0.7758" stop-color="#00008c"/><stop offset="0.8424" stop-color="#000090"/><stop offset="0.9091" stop-color="#0000aa"/><stop offset="0.9758" stop-color="#0000db"/><stop offset="1" stop-color="#0000ee"/></linearGradient>
<linearGradient id="r40" gradientUnits="userSpaceOnUse" x1="580.5" x2="745.5" spreadMethod="reflect"><stop offset="0" stop-color="#8fff70"/><stop offset="0.303" stop-color="#95ff6a"/><stop offset="0.3758" stop-color="#85ff7a"/><stop offset="0.4182" stop-color="#6bff94"/><stop offset="0.4424" stop-color="#4effb1"/><stop offset="0.4606" stop-color="#2bffd4"/><stop offset="0.4727" stop-color="#07fff8"/><stop offset="0.4788" stop-color="#00ebff"/><stop offset="0.4909" stop-color="#00b1ff"/><stop offset="0.503" stop-color="#0086ff"/><stop offset="0.5212" stop-color="#0059ff"/><stop offset="0.5576" stop-color="#001fff"/><stop offset="0.5818" stop-color="#0001ff"/><stop offset="0.6485" stop-color="#0000c3"/><stop offset="0.7152" stop-color="#00009e"/><stop offset="0.7818" stop-color="#00008e"/><stop offset="0.8485" stop-color="#000094"/><stop offset="0.9152" stop-color="#0000af"/><stop offset="0.9818" stop-color="#0000e1"/><stop offset="1" stop-color="#0000ee"/></linearGradient>
<linearGradient id="r41" gradientUnits="userSpaceOnUse" x1="580.5" x2="745.5" spreadMethod="reflect"><stop offset="0" stop-color="#84ff7b"/><stop offset="0.3152" stop-color="#8cff73"/><stop offset="0.3818" stop-color="#7eff81"/><stop offset="0.4242" stop-color="#62ff9d"/><stop offset="0.4485" stop-color="#42ffbd"/><stop offset="0.4667" stop-color="#1bffe4"/><stop offset="0.4727" stop-color="#06fff9"/><stop offset="0.4788" stop-color="#00ebff"/><stop offset="0.4909" stop-color="#00b2ff"/><stop offset="0.5091" stop-color="#0078ff"/><stop offset="0.5333" stop-color="#0047ff"/><stop offset="0.5758" stop-color="#000cff"/><stop offset="0.5879" stop-color="#0000fe"/><stop offset="0.6485" stop-color="#0000c8"/><stop offset="0.7152" stop-color="#0000a2"/><stop offset="0.7818" stop-color="#000092"/><stop offset="0.8485" stop-color="#000096"/><stop offset="0.9152" stop-color="#0000b0"/><stop offset="0.9818" stop-color="#0000e1"/><stop offset="1" stop-color="#0000ef"/></linearGradient>
<linearGradient id="r42" gradientUnits="userSpaceOnUse" x1="580.5" x2="745.5" spreadMethod="reflect"><stop offset="0" stop-color="#78ff87"/><stop offset="0.3212" stop-color="#84ff7b"/><stop offset="0.3879" stop-color="#76ff89"/><stop offset="0.4242" stop-color="#5effa1"/><stop offset="0.4485" stop-color="#40ffbf"/><stop offset="0.4667" stop-color="#1affe5"/><stop offset="0.4727" stop-color="#06fff9"/><stop offset="0.4788" stop-color="#00ebff"/><stop offset="0.4909" stop-color="#00b4ff"/><stop offset="0.5091" stop-color="#007bff"/><stop offset="0.5333" stop-color="#004bff"/><stop offset="0.5758" stop-color="#0011ff"/><stop offset="0.5939" stop-color="#0000fc"/><stop offset="0.6606" stop-color="#0000c4"/><stop offset="0.7273" stop-color="#0000a2"/><stop offset="0.7939" stop-color="#000094"/><stop offset="0.8606" stop-color="#00009b"/><stop offset="0.9273" stop-color="#0000b8"/><stop offset="1" stop-color="#0000ef"/></linearGradient>
<linearGradient id="r43" gradientUnits="userSpaceOnUse" x1="580.5" x2="745.5" spreadMethod="reflect"><stop offset="0" stop-color="#6cff93"/><stop offset="0.3333" stop-color="#7bff84"/><stop offset="0.3939" stop-color="#6eff91"/><stop offset="0.4303" stop-color="#55ffaa"/><stop offset="0.4545" stop-color="#34ffcb"/><stop offset="0.4667" stop-color="#19ffe6"/><stop offset="0.4727" stop-color="#06fff9"/><stop offset="0.4788" stop-color="#00ebff"/><stop offset="0.4909" stop-color="#00b5ff"/><stop offset="0.5091" stop-color="#007eff"/><stop offset="0.5333" stop-color="#004fff"/><stop offset="0.5818" stop-color="#000fff"/><stop offset="0.6" stop-color="#0000fb"/><stop offset="0.6667" stop-color="#0000c6"/><stop offset="0.7394" stop-color="#0000a2"/><stop offset="0.8061" stop-color="#000097"/><stop offset="0.8727" stop-color="#0000a1"/><stop offset="0.9394" stop-color="#0000c1"/><stop offset="1" stop-color="#0000f0"/></linearGradient>
<linearGradient id="r44" gradientUnits="userSpaceOnUse" x1="580.5" x2="745.5" spreadMethod="reflect"><stop offset="0" stop-color="#60ff9f"/><stop offset="0.2303" stop-color="#6eff91"/><stop offset="0.3515" stop-color="#71ff8e"/><stop offset="0.4061" stop-color="#62ff9d"/><stop offset="0.4364" stop-color="#4bffb4"/><stop offset="0.4545" stop-color="#32ffcd"/><stop offset="0.4667" stop-color="#18ffe7"/><stop offset="0.4727" stop-color="#05fffa"/><stop offset="0.4788" stop-color="#00ecff"/><stop offset="0.4909" stop-color="#00b7ff"/><stop offset="0.5091" stop-color="#0081ff"/><stop offset="0.5333" stop-color="#0053ff"/><stop offset="0.5818" stop-color="#0015ff"/><stop offset="0.6" stop-color="#0002ff"/><stop offset="0.6788" stop-color="#0000c3"/><stop offset="0.7515" stop-color="#0000a3"/><stop offset="0.8182" stop-color="#00009b"/><stop offset="0.8848" stop-color="#0000a8"/><stop offset="0.9455" stop-color="#0000c7"/><stop offset="1" stop-color="#0000f0"/></linearGradient>
<linearGradient id="r45" gradientUnits="userSpaceOnUse" x1="580.5" x2="745.5" spreadMethod="reflect"><stop offset="0" stop-color="#53ffac"/><stop offset="0.2061" stop-color="#60ff9f"/><stop offset="0.3515" stop-color="#69ff96"/><stop offset="0.4061" stop-color="#5dffa2"/><stop offset="0.4364" stop-color="#48ffb7"/><stop offset="0.4545" stop-color="#30ffcf"/><stop offset="0.4667" stop-color="#17ffe8"/><stop offset="0.4727" stop-color="#05fffa"/><stop offset="0.4788" stop-color="#00ecff"/><stop offset="0.4909" stop-color="#00b9ff"/><stop offset="0.5091" stop-color="#0085ff"/><stop offset="0.5333" stop-color="#0058ff"/><stop offset="0.5818" stop-color="#001aff"/><stop offset="0.6061" stop-color="#0002ff"/><stop offset="0.6848" stop-color="#0000c5"/><stop offset="0.7576" stop-color="#0000a6"/><stop offset="0.8242" stop-color="#00009f"/><stop offset="0.8909" stop-color="#0000ac"/><stop offset="0.9515" stop-color="#0000cd"/><stop offset="1" stop-color="#0000f1"/></linearGradient>
<linearGradient id="r46" gradientUnits="userSpaceOnUse" x1="580.5" x2="745.5" spreadMethod="reflect"><stop offset="0" stop-color="#45ffba"/><stop offset="0.1879" stop-color="#52ffad"/><stop offset="0.3515" stop-color="#61ff9e"/><stop offset="0.4061" stop-color="#57ffa8"/><stop offset="0.4364" stop-color="#44ffbb"/><stop offset="0.4545" stop-color="#2effd1"/><stop offset="0.4667" stop-color="#16ffe9"/><stop offset="0.4727" stop-color="#04fffb"/><stop offset="0.4788" stop-color="#00ecff"/><stop offset="0.4909" stop-color="#00bbff"/><stop offset="0.5091" stop-color="#0088ff"/><stop offset="0.5394" stop-color="#0054ff"/><stop offset="0.5939" stop-color="#0014ff"/><stop offset="0.6182" stop-color="#0000fc"/><stop offset="0.6909" stop-color="#0000c8"/><stop offset="0.7636" stop-color="#0000aa"/><stop offset="0.8303" stop-color="#0000a3"/><stop offset="0.897" stop-color="#0000b1"/><stop offset="0.9576" stop-color="#0000d3"/><stop offset="1" stop-color="#0000f2"/></linearGradient>
<linearGradient id="r47" gradientUnits="userSpaceOnUse" x1="580.5" x2="745.5" spreadMethod="reflect"><stop offset="0" stop-color="#37ffc8"/><stop offset="0.1818" stop-color="#44ffbb"/><stop offset="0.3576" stop-color="#58ffa7"/><stop offset="0.4121" stop-color="#4fffb0"/><stop offset="0.4424" stop-color="#3bffc4"/><stop offset="0.4606" stop-color="#22ffdd"/><stop offset="0.4727" stop-color="#04fffb"/><stop offset="0.4788" stop-color="#00ecff"/><stop offset="0.4909" stop-color="#00bdff"/><stop offset="0.5091" stop-color="#008cff"/><stop offset="0.5394" stop-color="#0059ff"/><stop offset="0.5939" stop-color="#001aff"/><stop offset="0.6242" stop-color="#0000fd"/><stop offset="0.697" stop-color="#0000ca"/><stop offset="0.7697" stop-color="#0000ad"/><stop offset="0.8364" stop-color="#0000a7"/><stop offset="0.903" stop-color="#0000b6"/><stop offset="0.9636" stop-color="#0000d9"/><stop offset="1" stop-color="#0000f3"/></linearGradient>
<linearGradient id="r48" gradientUnits="userSpaceOnUse" x1="580.5" x2="745.5" spreadMethod="reflect"><stop offset="0" stop-color="#28ffd7"/><stop offset="0.1697" stop-color="#35ffca"/><stop offset="0.3636" stop-color="#4fffb0"/><stop offset="0.4182" stop-color="#46ffb9"/><stop offset="0.4485" stop-color="#31ffce"/><stop offset="0.4667" stop-color="#13ffec"/><stop offset="0.4727" stop-color="#03fffc"/><stop offset="0.497" stop-color="#00adff"/><stop offset="0.5152" stop-color="#0084ff"/><stop offset="0.5515" stop-color="#004fff"/><stop offset="0.6182" stop-color="#000aff"/><stop offset="0.6303" stop-color="#0000ff"/><stop offset="0.703" stop-color="#0000cd"/><stop offset="0.7758" stop-color="#0000b1"/><stop offset="0.8424" stop-color="#0000ab"/><stop offset="0.9091" stop-color="#0000bb"/><stop offset="0.9697" stop-color="#0000df"/><stop offset="1" stop-color="#0000f5"/></linearGradient>
<linearGradient id="r49" gradientUnits="userSpaceOnUse" x1="580.5" x2="745.5" spreadMethod="reflect"><stop offset="0" stop-color="#16ffe9"/><stop offset="0.1455" stop-color="#22ffdd"/><stop offset="0.3697" stop-color="#46ffb9"/><stop offset="0.4182" stop-color="#40ffbf"/><stop offset="0.4485" stop-color="#2dffd2"/><stop offset="0.4667" stop-color="#12ffed"/><stop offset="0.4727" stop-color="#02fffd"/><stop offset="0.497" stop-color="#00b0ff"/><stop offset="0.5152" stop-color="#0088ff"/><stop offset="0.5576" stop-color="#004eff"/><stop offset="0.6303" stop-color="#0007ff"/><stop offset="0.6485" stop-color="#0000f8"/><stop offset="0.7273" stop-color="#0000c8"/><stop offset="0.8" stop-color="#0000b2"/><stop offset="0.8667" stop-color="#0000b2"/><stop offset="0.9333" stop-color="#0000c9"/><stop offset="1" stop-color="#0000f6"/></linearGradient>
<linearGradient id="r50" gradientUnits="userSpaceOnUse" x1="580.5" x2="745.5" spreadMethod="reflect"><stop offset="0" stop-color="#00fcff"/><stop offset="0.09091" stop-color="#05fffa"/><stop offset="0.3697" stop-color="#3cffc3"/><stop offset="0.4242" stop-color="#38ffc7"/><stop offset="0.4485" stop-color="#2affd5"/><stop offset="0.4667" stop-color="#10ffef"/><stop offset="0.4727" stop-color="#01fffe"/><stop offset="0.497" stop-color="#00b3ff"/><stop offset="0.5212" stop-color="#0084ff"/><stop offset="0.5697" stop-color="#0047ff"/><stop offset="0.6424" stop-color="#0005ff"/><stop offset="0.6545" stop-color="#0000fa"/><stop offset="0.7333" stop-color="#0000cb"/><stop offset="0.8061" stop-color="#0000b6"/><stop offset="0.8727" stop-color="#0000b7"/><stop offset="0.9333" stop-color="#0000cc"/><stop offset="1" stop-color="#0000f8"/></linearGradient>
<linearGradient id="r51" gradientUnits="userSpaceOnUse" x1="580.5" x2="745.5" spreadMethod="reflect"><stop offset="0" stop-color="#00e0ff"/><stop offset="0.1091" stop-color="#00ebff"/><stop offset="0.1939" stop-color="#03fffc"/><stop offset="0.3455" stop-color="#2effd1"/><stop offset="0.4121" stop-color="#34ffcb"/><stop offset="0.4424" stop-color="#2affd5"/><stop offset="0.4606" stop-color="#18ffe7"/><stop offset="0.4727" stop-color="#00ffff"/><stop offset="0.497" stop-color="#00b6ff"/><stop offset="0.5212" stop-color="#0089ff"/><stop offset="0.5758" stop-color="#0048ff"/><stop offset="0.6545" stop-color="#0003ff"/><stop offset="0.7515" stop-color="#0000ca"/><stop offset="0.8242" stop-color="#0000b9"/><stop offset="0.8909" stop-color="#0000bf"/><stop offset="0.9515" stop-color="#0000d9"/><stop offset="1" stop-color="#0000f9"/></linearGradient>
<linearGradient id="r52" gradientUnits="userSpaceOnUse" x1="580.5" x2="745.5" spreadMethod="reflect"><stop offset="0" stop-color="#00d1ff"/><stop offset="0.1333" stop-color="#00d7ff"/><stop offset="0.2182" stop-color="#00f0ff"/><stop offset="0.2606" stop-color="#03fffc"/><stop offset="0.3636" stop-color="#26ffd9"/><stop offset="0.4242" stop-color="#2affd5"/><stop offset="0.4545" stop-color="#1cffe3"/><stop offset="0.4727" stop-color="#00feff"/><stop offset="0.497" stop-color="#00b9ff"/><stop offset="0.5212" stop-color="#008fff"/><stop offset="0.5818" stop-color="#004aff"/><stop offset="0.6667" stop-color="#0002ff"/><stop offset="0.7576" stop-color="#0000cf"/><stop offset="0.8303" stop-color="#0000be"/><stop offset="0.897" stop-color="#0000c4"/><stop offset="0.9576" stop-color="#0000df"/><stop offset="1" stop-color="#0000fb"/></linearGradient>
<linearGradient id="r53" gradientUnits="userSpaceOnUse" x1="580.5" x2="745.5" spreadMethod="reflect"><stop offset="0" stop-color="#00dcff"/><stop offset="0.1879" stop-color="#00d1ff"/><stop offset="0.2485" stop-color="#00e2ff"/><stop offset="0.3091" stop-color="#01fffe"/><stop offset="0.3818" stop-color="#1effe1"/><stop offset="0.4303" stop-color="#22ffdd"/><stop offset="0.4545" stop-color="#18ffe7"/><stop offset="0.4727" stop-color="#00fdff"/><stop offset="0.497" stop-color="#00bdff"/><stop offset="0.5212" stop-color="#0095ff"/><stop offset="0.5879" stop-color="#004cff"/><stop offset="0.6788" stop-color="#0002ff"/><stop offset="0.7697" stop-color="#0000d1"/><stop offset="0.8424" stop-color="#0000c3"/><stop offset="0.9091" stop-color="#0000cc"/><stop offset="0.9697" stop-color="#0000e9"/><stop offset="1" stop-color="#0000fd"/></linearGradient>
<linearGradient id="r54" gradientUnits="userSpaceOnUse" x1="580.5" x2="745.5" spreadMethod="reflect"><stop offset="0" stop-color="#00f8ff"/><stop offset="0.103" stop-color="#00edff"/><stop offset="0.2303" stop-color="#00d0ff"/><stop offset="0.2788" stop-color="#00d7ff"/><stop offset="0.3576" stop-color="#03fffc"/><stop offset="0.4121" stop-color="#18ffe7"/><stop offset="0.4485" stop-color="#16ffe9"/><stop offset="0.4667" stop-color="#07fff8"/><stop offset="0.4727" stop-color="#00fbff"/><stop offset="0.497" stop-color="#00c0ff"/><stop offset="0.5273" stop-color="#0094ff"/><stop offset="0.6061" stop-color="#0044ff"/><stop offset="0.6909" stop-color="#0002ff"/><stop offset="0.7818" stop-color="#0000d4"/><stop offset="0.8545" stop-color="#0000c8"/><stop offset="0.9212" stop-color="#0000d3"/><stop offset="0.9818" stop-color="#0000f4"/><stop offset="1" stop-color="#0000ff"/></linearGradient>
<linearGradient id="r55" gradientUnits="userSpaceOnUse" x1="580.5" x2="745.5" spreadMethod="reflect"><stop offset="0" stop-color="#14ffeb"/><stop offset="0.1091" stop-color="#0afff5"/><stop offset="0.1576" stop-color="#00fcff"/><stop offset="0.2727" stop-color="#00d1ff"/><stop offset="0.3152" stop-color="#00d3ff"/><stop offset="0.3758" stop-color="#00f4ff"/><stop offset="0.4" stop-color="#04fffb"/><stop offset="0.4424" stop-color="#10ffef"/><stop offset="0.4606" stop-color="#09fff6"/><stop offset="0.4667" stop-color="#03fffc"/><stop offset="0.4727" stop-color="#00f9ff"/><stop offset="0.497" stop-color="#00c4ff"/><stop offset="0.5333" stop-color="#0094ff"/><stop offset="0.6303" stop-color="#0038ff"/><stop offset="0.7091" stop-color="#0000fe"/><stop offset="0.7879" stop-color="#0000d9"/><stop offset="0.8545" stop-color="#0000cd"/><stop offset="0.9212" stop-color="#0000d7"/><stop offset="0.9818" stop-color="#0000f7"/><stop offset="1" stop-color="#0002ff"/></linearGradient>
<linearGradient id="r56" gradientUnits="userSpaceOnUse" x1="580.5" x2="745.5" spreadMethod="reflect"><stop offset="0" stop-color="#29ffd6"/><stop offset="0.1212" stop-color="#1fffe0"/><stop offset="0.2121" stop-color="#04fffb"/><stop offset="0.2364" stop-color="#00f8ff"/><stop offset="0.3152" stop-color="#00d2ff"/><stop offset="0.3515" stop-color="#00d0ff"/><stop offset="0.4" stop-color="#00ebff"/><stop offset="0.4364" stop-color="#01fffe"/><stop offset="0.4606" stop-color="#02fffd"/><stop offset="0.4727" stop-color="#00f5ff"/><stop offset="0.497" stop-color="#00c8ff"/><stop offset="0.5455" stop-color="#008fff"/><stop offset="0.6545" stop-color="#002eff"/><stop offset="0.7212" stop-color="#0000ff"/><stop offset="0.8" stop-color="#0000dc"/><stop offset="0.8667" stop-color="#0000d2"/><stop offset="0.9273" stop-color="#0000dd"/><stop offset="0.9939" stop-color="#0001ff"/><stop offset="1" stop-color="#0004ff"/></linearGradient>
<linearGradient id="r57" gradientUnits="userSpaceOnUse" x1="580.5" x2="745.5" spreadMethod="reflect"><stop offset="0" stop-color="#3bffc4"/><stop offset="0.1333" stop-color="#2fffd0"/><stop offset="0.2364" stop-color="#13ffec"/><stop offset="0.2788" stop-color="#00feff"/><stop offset="0.3576" stop-color="#00d1ff"/><stop offset="0.3879" stop-color="#00cfff"/><stop offset="0.4545" stop-color="#00f4ff"/><stop offset="0.4727" stop-color="#00eeff"/><stop offset="0.5152" stop-color="#00b7ff"/><stop offset="0.6364" stop-color="#0047ff"/><stop offset="0.7273" stop-color="#0005ff"/><stop offset="0.7515" stop-color="#0000f7"/><stop offset="0.8242" stop-color="#0000dc"/><stop offset="0.8909" stop-color="#0000d9"/><stop offset="0.9515" stop-color="#0000eb"/><stop offset="0.9939" stop-color="#0004ff"/><stop offset="1" stop-color="#0007ff"/></linearGradient>
<linearGradient id="r58" gradientUnits="userSpaceOnUse" x1="580.5" x2="745.5" spreadMethod="reflect"><stop offset="0" stop-color="#4bffb4"/><stop offset="0.1333" stop-color="#40ffbf"/><stop offset="0.2545" stop-color="#21ffde"/><stop offset="0.3212" stop-color="#00ffff"/><stop offset="0.3939" stop-color="#00d0ff"/><stop offset="0.4242" stop-color="#00cfff"/><stop offset="0.4667" stop-color="#00e3ff"/><stop offset="0.4848" stop-color="#00dcff"/><stop offset="0.6485" stop-color="#0047ff"/><stop offset="0.7394" stop-color="#0007ff"/><stop offset="0.7576" stop-color="#0000fc"/><stop offset="0.8303" stop-color="#0000e2"/><stop offset="0.897" stop-color="#0000df"/><stop offset="0.9576" stop-color="#0000f1"/><stop offset="0.9879" stop-color="#0003ff"/><stop offset="1" stop-color="#0009ff"/></linearGradient>
<linearGradient id="r59" gradientUnits="userSpaceOnUse" x1="580.5" x2="745.5" spreadMethod="reflect"><stop offset="0" stop-color="#5cffa3"/><stop offset="0.1333" stop-color="#50ffaf"/><stop offset="0.2727" stop-color="#2bffd4"/><stop offset="0.3455" stop-color="#09fff6"/><stop offset="0.3636" stop-color="#00fbff"/><stop offset="0.4242" stop-color="#00cfff"/><stop offset="0.4545" stop-color="#00ceff"/><stop offset="0.4848" stop-color="#00daff"/><stop offset="0.5576" stop-color="#00a1ff"/><stop offset="0.6909" stop-color="#0030ff"/><stop offset="0.7697" stop-color="#0000fe"/><stop offset="0.8424" stop-color="#0000e6"/><stop offset="0.9091" stop-color="#0000e5"/><stop offset="0.9697" stop-color="#0000fb"/><stop offset="1" stop-color="#000cff"/></linearGradient>
<linearGradient id="r60" gradientUnits="userSpaceOnUse" x1="580.5" x2="745.5" spreadMethod="reflect"><stop offset="0" stop-color="#6cff93"/><stop offset="0.1273" stop-color="#61ff9e"/><stop offset="0.2667" stop-color="#3cffc3"/><stop offset="0.3636" stop-color="#13ffec"/><stop offset="0.3939" stop-color="#00fdff"/><stop offset="0.4545" stop-color="#00ceff"/><stop offset="0.4727" stop-color="#00ceff"/><stop offset="0.4848" stop-color="#00daff"/><stop offset="0.5091" stop-color="#00cfff"/><stop offset="0.5939" stop-color="#008dff"/><stop offset="0.7091" stop-color="#002dff"/><stop offset="0.7818" stop-color="#0002ff"/><stop offset="0.8606" stop-color="#0000e9"/><stop offset="0.9212" stop-color="#0000ec"/><stop offset="0.9758" stop-color="#0002ff"/><stop offset="1" stop-color="#000eff"/></linearGradient>
<linearGradient id="r61" gradientUnits="userSpaceOnUse" x1="580.5" x2="745.5" spreadMethod="reflect"><stop offset="0" stop-color="#7dff82"/><stop offset="0.1273" stop-color="#71ff8e"/><stop offset="0.2667" stop-color="#4bffb4"/><stop offset="0.3879" stop-color="#16ffe9"/><stop offset="0.4242" stop-color="#00fcff"/><stop offset="0.4667" stop-color="#00d5ff"/><stop offset="0.4788" stop-color="#00d7ff"/><stop offset="0.4909" stop-color="#00dbff"/><stop offset="0.5636" stop-color="#00b2ff"/><stop offset="0.7152" stop-color="#0033ff"/><stop offset="0.7939" stop-color="#0005ff"/><stop offset="0.8242" stop-color="#0000f8"/><stop offset="0.8909" stop-color="#0000ee"/><stop offset="0.9515" stop-color="#0000f9"/><stop offset="0.9758" stop-color="#0005ff"/><stop offset="1" stop-color="#0011ff"/></linearGradient>
<linearGradient id="r62" gradientUnits="userSpaceOnUse" x1="580.5" x2="745.5" spreadMethod="reflect"><stop offset="0" stop-color="#8dff72"/><stop offset="0.1212" stop-color="#82ff7d"/><stop offset="0.2545" stop-color="#5dffa2"/><stop offset="0.3939" stop-color="#21ffde"/><stop offset="0.4424" stop-color="#01fffe"/><stop offset="0.4788" stop-color="#00dfff"/><stop offset="0.5636" stop-color="#00bbff"/><stop offset="0.6424" stop-color="#007bff"/><stop offset="0.7394" stop-color="#002dff"/><stop offset="0.8182" stop-color="#0003ff"/><stop offset="0.897" stop-color="#0000f3"/><stop offset="0.9636" stop-color="#0003ff"/><stop offset="1" stop-color="#0014ff"/></linearGradient>
<linearGradient id="r63" gradientUnits="userSpaceOnUse" x1="580.5" x2="745.5" spreadMethod="reflect"><stop offset="0" stop-color="#9dff62"/><stop offset="0.1212" stop-color="#92ff6d"/><stop offset="0.2485" stop-color="#6eff91"/><stop offset="0.3939" stop-color="#2dffd2"/><stop offset="0.4545" stop-color="#05fffa"/><stop offset="0.4667" stop-color="#00f6ff"/><stop offset="0.4909" stop-color="#00dbff"/><stop offset="0.5333" stop-color="#00cbff"/><stop offset="0.5818" stop-color="#00b9ff"/><stop offset="0.6545" stop-color="#007dff"/><stop offset="0.7455" stop-color="#0033ff"/><stop offset="0.8182" stop-color="#000bff"/><stop offset="0.8606" stop-color="#0000fd"/><stop offset="0.9212" stop-color="#0000fa"/><stop offset="0.9576" stop-color="#0004ff"/><stop offset="1" stop-color="#0017ff"/></linearGradient>
<linearGradient id="r64" gradientUnits="userSpaceOnUse" x1="580.5" x2="745.5" spreadMethod="reflect"><stop offset="0" stop-color="#adff52"/><stop offset="0.1212" stop-color="#a1ff5e"/><stop offset="0.2485" stop-color="#7cff83"/><stop offset="0.3818" stop-color="#3effc1"/><stop offset="0.4545" stop-color="#0efff1"/><stop offset="0.4667" stop-color="#00ffff"/><stop offset="0.4909" stop-color="#00d9ff"/><stop offset="0.5152" stop-color="#00caff"/><stop offset="0.5879" stop-color="#00bdff"/><stop offset="0.6364" stop-color="#009bff"/><stop offset="0.7455" stop-color="#003dff"/><stop offset="0.8182" stop-color="#0013ff"/><stop offset="0.8848" stop-color="#0001ff"/><stop offset="0.9455" stop-color="#0005ff"/><stop offset="1" stop-color="#001aff"/></linearGradient>
<linearGradient id="r65" gradientUnits="userSpaceOnUse" x1="580.5" x2="745.5" spreadMethod="reflect"><stop offset="0" stop-color="#bdff42"/><stop offset="0.1152" stop-color="#b2ff4d"/><stop offset="0.2364" stop-color="#8fff70"/><stop offset="0.3636" stop-color="#53ffac"/><stop offset="0.4424" stop-color="#20ffdf"/><stop offset="0.4667" stop-color="#06fff9"/><stop offset="0.4727" stop-color="#00faff"/><stop offset="0.4909" stop-color="#00d6ff"/><stop offset="0.5152" stop-color="#00c4ff"/><stop offset="0.6" stop-color="#00bdff"/><stop offset="0.6424" stop-color="#00a3ff"/><stop offset="0.7515" stop-color="#0044ff"/><stop offset="0.8242" stop-color="#0019ff"/><stop offset="0.8909" stop-color="#0006ff"/><stop offset="0.9515" stop-color="#000bff"/><stop offset="1" stop-color="#001dff"/></linearGradient>
<linearGradient id="r66" gradientUnits="userSpaceOnUse" x1="580.5" x2="745.5" spreadMethod="reflect"><stop offset="0" stop-color="#cdff32"/><stop offset="0.1152" stop-color="#c1ff3e"/><stop offset="0.2364" stop-color="#9dff62"/><stop offset="0.3576" stop-color="#62ff9d"/><stop offset="0.4364" stop-color="#2cffd3"/><stop offset="0.4667" stop-color="#09fff6"/><stop offset="0.4727" stop-color="#00fcff"/><stop offset="0.4909" stop-color="#00d3ff"/><stop offset="0.5091" stop-color="#00bfff"/><stop offset="0.5394" stop-color="#00b8ff"/><stop offset="0.6061" stop-color="#00beff"/><stop offset="0.6424" stop-color="#00afff"/><stop offset="0.7697" stop-color="#0042ff"/><stop offset="0.8424" stop-color="#0019ff"/><stop offset="0.9091" stop-color="#000bff"/><stop offset="0.9697" stop-color="#0015ff"/><stop offset="1" stop-color="#0020ff"/></linearGradient>
<linearGradient id="r67" gradientUnits="userSpaceOnUse" x1="580.5" x2="745.5" spreadMethod="reflect"><stop offset="0" stop-color="#ddff22"/><stop offset="0.1091" stop-color="#d2ff2d"/><stop offset="0.2242" stop-color="#b0ff4f"/><stop offset="0.3455" stop-color="#74ff8b"/><stop offset="0.4303" stop-color="#38ffc7"/><stop offset="0.4606" stop-color="#16ffe9"/><stop offset="0.4727" stop-color="#00feff"/><stop offset="0.4909" stop-color="#00d0ff"/><stop offset="0.5091" stop-color="#00b9ff"/><stop offset="0.5394" stop-color="#00aeff"/><stop offset="0.6242" stop-color="#00bcff"/><stop offset="0.6606" stop-color="#00adff"/><stop offset="0.7758" stop-color="#0048ff"/><stop offset="0.8424" stop-color="#0021ff"/><stop offset="0.903" stop-color="#0011ff"/><stop offset="0.9636" stop-color="#0017ff"/><stop offset="1" stop-color="#0024ff"/></linearGradient>
<linearGradient id="r68" gradientUnits="userSpaceOnUse" x1="580.5" x2="745.5" spreadMethod="reflect"><stop offset="0" stop-color="#ecff13"/><stop offset="0.1091" stop-color="#e1ff1e"/><stop offset="0.2242" stop-color="#bdff42"/><stop offset="0.3394" stop-color="#83ff7c"/><stop offset="0.4182" stop-color="#4affb5"/><stop offset="0.4545" stop-color="#23ffdc"/><stop offset="0.4727" stop-color="#01fffe"/><stop offset="0.4909" stop-color="#00cdff"/><stop offset="0.5091" stop-color="#00b2ff"/><stop offset="0.5333" stop-color="#00a5ff"/><stop offset="0.5758" stop-color="#00a9ff"/><stop offset="0.6364" stop-color="#00bbff"/><stop offset="0.6667" stop-color="#00b3ff"/><stop offset="0.7212" stop-color="#0083ff"/><stop offset="0.7939" stop-color="#0045ff"/><stop offset="0.8606" stop-color="#0022ff"/><stop offset="0.9212" stop-color="#0016ff"/><stop offset="0.9758" stop-color="#001fff"/><stop offset="1" stop-color="#0027ff"/></linearGradient>
<linearGradient id="r69" gradientUnits="userSpaceOnUse" x1="580.5" x2="745.5" spreadMethod="reflect"><stop offset="0" stop-color="#fcff03"/><stop offset="0.1091" stop-color="#f0ff0f"/><stop offset="0.2182" stop-color="#cdff32"/><stop offset="0.3273" stop-color="#95ff6a"/><stop offset="0.4121" stop-color="#57ffa8"/><stop offset="0.4485" stop-color="#2fffd0"/><stop offset="0.4667" stop-color="#11ffee"/><stop offset="0.4727" stop-color="#02fffd"/><stop offset="0.4909" stop-color="#00caff"/><stop offset="0.5091" stop-color="#00acff"/><stop offset="0.5333" stop-color="#009cff"/><stop offset="0.5697" stop-color="#009bff"/><stop offset="0.6485" stop-color="#00b9ff"/><stop offset="0.6788" stop-color="#00b4ff"/><stop offset="0.7212" stop-color="#0091ff"/><stop offset="0.7939" stop-color="#0050ff"/><stop offset="0.8606" stop-color="#002aff"/><stop offset="0.9212" stop-color="#001cff"/><stop offset="0.9758" stop-color="#0023ff"/><stop offset="1" stop-color="#002bff"/></linearGradient>
<linearGradient id="r70" gradientUnits="userSpaceOnUse" x1="580.5" x2="745.5" spreadMethod="reflect"><stop offset="0" stop-color="#fff300"/><stop offset="0.1212" stop-color="#fcff03"/><stop offset="0.2303" stop-color="#d5ff2a"/><stop offset="0.3394" stop-color="#98ff67"/><stop offset="0.4121" stop-color="#5effa1"/><stop offset="0.4485" stop-color="#34ffcb"/><stop offset="0.4667" stop-color="#13ffec"/><stop offset="0.4727" stop-color="#03fffc"/><stop offset="0.4909" stop-color="#00c7ff"/><stop offset="0.5091" stop-color="#00a6ff"/><stop offset="0.5333" stop-color="#0093ff"/><stop offset="0.5697" stop-color="#008fff"/><stop offset="0.6182" stop-color="#00a3ff"/><stop offset="0.6667" stop-color="#00b9ff"/><stop offset="0.697" stop-color="#00b2ff"/><stop offset="0.7515" stop-color="#0081ff"/><stop offset="0.8182" stop-color="#0049ff"/><stop offset="0.8848" stop-color="#0029ff"/><stop offset="0.9455" stop-color="#0021ff"/><stop offset="1" stop-color="#002eff"/></linearGradient>
<linearGradient id="r71" gradientUnits="userSpaceOnUse" x1="580.5" x2="745.5" spreadMethod="reflect"><stop offset="0" stop-color="#ffe400"/><stop offset="0.103" stop-color="#ffef00"/><stop offset="0.1697" stop-color="#fcff03"/><stop offset="0.2788" stop-color="#c9ff36"/><stop offset="0.3697" stop-color="#8bff74"/><stop offset="0.4303" stop-color="#50ffaf"/><stop offset="0.4606" stop-color="#22ffdd"/><stop offset="0.4727" stop-color="#04fffb"/><stop offset="0.4909" stop-color="#00c4ff"/><stop offset="0.5091" stop-color="#00a0ff"/><stop offset="0.5333" stop-color="#008bff"/><stop offset="0.5697" stop-color="#0084ff"/><stop offset="0.6121" stop-color="#0092ff"/><stop offset="0.6788" stop-color="#00b8ff"/><stop offset="0.7091" stop-color="#00b3ff"/><stop offset="0.7515" stop-color="#008fff"/><stop offset="0.8182" stop-color="#0053ff"/><stop offset="0.8788" stop-color="#0032ff"/><stop offset="0.9394" stop-color="#0026ff"/><stop offset="1" stop-color="#0032ff"/></linearGradient>
<linearGradient id="r72" gradientUnits="userSpaceOnUse" x1="580.5" x2="745.5" spreadMethod="reflect"><stop offset="0" stop-color="#ffd500"/><stop offset="0.103" stop-color="#ffe100"/><stop offset="0.2" stop-color="#fdff02"/><stop offset="0.303" stop-color="#c5ff3a"/><stop offset="0.3879" stop-color="#84ff7b"/><stop offset="0.4364" stop-color="#4dffb2"/><stop offset="0.4606" stop-color="#24ffdb"/><stop offset="0.4727" stop-color="#05fffa"/><stop offset="0.4788" stop-color="#00eeff"/><stop offset="0.4909" stop-color="#00c1ff"/><stop offset="0.5091" stop-color="#009aff"/><stop offset="0.5333" stop-color="#0083ff"/><stop offset="0.5697" stop-color="#0079ff"/><stop offset="0.6121" stop-color="#0085ff"/><stop offset="0.6909" stop-color="#00b6ff"/><stop offset="0.7152" stop-color="#00b7ff"/><stop offset="0.7455" stop-color="#00a2ff"/><stop offset="0.8182" stop-color="#005eff"/><stop offset="0.8788" stop-color="#003aff"/><stop offset="0.9394" stop-color="#002cff"/><stop offset="1" stop-color="#0035ff"/></linearGradient>
<linearGradient id="r73" gradientUnits="userSpaceOnUse" x1="580.5" x2="745.5" spreadMethod="reflect"><stop offset="0" stop-color="#ffc700"/><stop offset="0.103" stop-color="#ffd300"/><stop offset="0.2061" stop-color="#fff700"/><stop offset="0.2303" stop-color="#fcff03"/><stop offset="0.3273" stop-color="#bfff40"/><stop offset="0.4" stop-color="#7fff80"/><stop offset="0.4424" stop-color="#49ffb6"/><stop offset="0.4606" stop-color="#27ffd8"/><stop offset="0.4727" stop-color="#05fffa"/><stop offset="0.4788" stop-color="#00edff"/><stop offset="0.4909" stop-color="#00bfff"/><stop offset="0.503" stop-color="#00a0ff"/><stop offset="0.5212" stop-color="#0085ff"/><stop offset="0.5515" stop-color="#0072ff"/><stop offset="0.5939" stop-color="#0072ff"/><stop offset="0.6424" stop-color="#008aff"/><stop offset="0.703" stop-color="#00b5ff"/><stop offset="0.7273" stop-color="#00b7ff"/><stop offset="0.7576" stop-color="#00a3ff"/><stop offset="0.8303" stop-color="#005fff"/><stop offset="0.8909" stop-color="#003cff"/><stop offset="0.9455" stop-color="#0031ff"/><stop offset="1" stop-color="#0039ff"/></linearGradient>
<linearGradient id="r74" gradientUnits="userSpaceOnUse" x1="580.5" x2="745.5" spreadMethod="reflect"><stop offset="0" stop-color="#ffb900"/><stop offset="0.09697" stop-color="#ffc400"/><stop offset="0.1939" stop-color="#ffe400"/><stop offset="0.2485" stop-color="#feff01"/><stop offset="0.3394" stop-color="#bfff40"/><stop offset="0.4061" stop-color="#7eff81"/><stop offset="0.4424" stop-color="#4cffb3"/><stop offset="0.4606" stop-color="#29ffd6"/><stop offset="0.4727" stop-color="#06fff9"/><stop offset="0.4788" stop-color="#00edff"/><stop offset="0.4909" stop-color="#00bcff"/><stop offset="0.503" stop-color="#009bff"/><stop offset="0.5212" stop-color="#007fff"/><stop offset="0.5515" stop-color="#006aff"/><stop offset="0.5939" stop-color="#0067ff"/><stop offset="0.6424" stop-color="#007cff"/><stop offset="0.7152" stop-color="#00b4ff"/><stop offset="0.7394" stop-color="#00b8ff"/><stop offset="0.7697" stop-color="#00a4ff"/><stop offset="0.8364" stop-color="#0064ff"/><stop offset="0.897" stop-color="#0041ff"/><stop offset="0.9515" stop-color="#0036ff"/><stop offset="1" stop-color="#003dff"/></linearGradient>
<linearGradient id="r75" gradientUnits="userSpaceOnUse" x1="580.5" x2="745.5" spreadMethod="reflect"><stop offset="0" stop-color="#ffaa00"/><stop offset="0.09697" stop-color="#ffb600"/><stop offset="0.1939" stop-color="#ffd800"/><stop offset="0.2667" stop-color="#feff01"/><stop offset="0.3515" stop-color="#bdff42"/><stop offset="0.4121" stop-color="#7dff82"/><stop offset="0.4485" stop-color="#44ffbb"/><stop offset="0.4667" stop-color="#1affe5"/><stop offset="0.4727" stop-color="#07fff8"/><stop offset="0.4788" stop-color="#00edff"/><stop offset="0.4909" stop-color="#00b9ff"/><stop offset="0.503" stop-color="#0097ff"/><stop offset="0.5212" stop-color="#0078ff"/><stop offset="0.5515" stop-color="#0061ff"/><stop offset="0.5939" stop-color="#005cff"/><stop offset="0.6424" stop-color="#006fff"/><stop offset="0.7273" stop-color="#00b4ff"/><stop offset="0.7515" stop-color="#00b8ff"/><stop offset="0.7818" stop-color="#00a5ff"/><stop offset="0.8485" stop-color="#0065ff"/><stop offset="0.903" stop-color="#0046ff"/><stop offset="0.9576" stop-color="#003bff"/><stop offset="1" stop-color="#0041ff"/></linearGradient>
<linearGradient id="r76" gradientUnits="userSpaceOnUse" x1="580.5" x2="745.5" spreadMethod="reflect"><stop offset="0" stop-color="#ff9d00"/><stop offset="0.09697" stop-color="#ffa800"/><stop offset="0.1939" stop-color="#ffcb00"/><stop offset="0.2848" stop-color="#fcff03"/><stop offset="0.3636" stop-color="#baff45"/><stop offset="0.4182" stop-color="#7aff85"/><stop offset="0.4485" stop-color="#47ffb8"/><stop offset="0.4667" stop-color="#1cffe3"/><stop offset="0.4727" stop-color="#07fff8"/><stop offset="0.4788" stop-color="#00ecff"/><stop offset="0.4909" stop-color="#00b7ff"/><stop offset="0.503" stop-color="#0093ff"/><stop offset="0.5212" stop-color="#0072ff"/><stop offset="0.5515" stop-color="#0059ff"/><stop offset="0.5879" stop-color="#0051ff"/><stop offset="0.6364" stop-color="#005fff"/><stop offset="0.6848" stop-color="#0082ff"/><stop offset="0.7394" stop-color="#00b4ff"/><stop offset="0.7636" stop-color="#00b9ff"/><stop offset="0.7879" stop-color="#00aaff"/><stop offset="0.8545" stop-color="#006aff"/><stop offset="0.9091" stop-color="#004bff"/><stop offset="0.9636" stop-color="#0040ff"/><stop offset="1" stop-color="#0044ff"/></linearGradient>
<linearGradient id="r77" gradientUnits="userSpaceOnUse" x1="580.5" x2="745.5" spreadMethod="reflect"><stop offset="0" stop-color="#ff8f00"/><stop offset="0.09091" stop-color="#ff9a00"/><stop offset="0.1879" stop-color="#ffbc00"/><stop offset="0.2788" stop-color="#fff300"/><stop offset="0.297" stop-color="#fdff02"/><stop offset="0.3697" stop-color="#bbff44"/><stop offset="0.4182" stop-color="#7eff81"/><stop offset="0.4485" stop-color="#4affb5"/><stop offset="0.4667" stop-color="#1dffe2"/><stop offset="0.4727" stop-color="#08fff7"/><stop offset="0.4788" stop-color="#00ecff"/><stop offset="0.4909" stop-color="#00b4ff"/><stop offset="0.503" stop-color="#008fff"/><stop offset="0.5212" stop-color="#006cff"/><stop offset="0.5515" stop-color="#0051ff"/><stop offset="0.5879" stop-color="#0048ff"/><stop offset="0.6364" stop-color="#0053ff"/><stop offset="0.6848" stop-color="#0074ff"/><stop offset="0.7515" stop-color="#00b4ff"/><stop offset="0.7758" stop-color="#00b9ff"/><stop offset="0.8" stop-color="#00aaff"/><stop offset="0.8667" stop-color="#006aff"/><stop offset="0.9212" stop-color="#004dff"/><stop offset="0.9758" stop-color="#0046ff"/><stop offset="1" stop-color="#0048ff"/></linearGradient>
<linearGradient id="r78" gradientUnits="userSpaceOnUse" x1="580.5" x2="745.5" spreadMethod="reflect"><stop offset="0" stop-color="#ff8200"/><stop offset="0.09091" stop-color="#ff8d00"/><stop offset="0.1818" stop-color="#ffae00"/><stop offset="0.2727" stop-color="#ffe500"/><stop offset="0.3091" stop-color="#fdff02"/><stop offset="0.3758" stop-color="#bbff44"/><stop offset="0.4242" stop-color="#79ff86"/><stop offset="0.4545" stop-color="#3effc1"/><stop offset="0.4667" stop-color="#1effe1"/><stop offset="0.4727" stop-color="#08fff7"/><stop offset="0.4788" stop-color="#00ebff"/><stop offset="0.4909" stop-color="#00b2ff"/><stop offset="0.503" stop-color="#008bff"/><stop offset="0.5212" stop-color="#0067ff"/><stop offset="0.5455" stop-color="#004eff"/><stop offset="0.5818" stop-color="#003fff"/><stop offset="0.6242" stop-color="#0044ff"/><stop offset="0.6727" stop-color="#005eff"/><stop offset="0.7273" stop-color="#0091ff"/><stop offset="0.7636" stop-color="#00b5ff"/><stop offset="0.7879" stop-color="#00baff"/><stop offset="0.8182" stop-color="#00a3ff"/><stop offset="0.8727" stop-color="#006fff"/><stop offset="0.9273" stop-color="#0051ff"/><stop offset="0.9818" stop-color="#004aff"/><stop offset="1" stop-color="#004cff"/></linearGradient>
<linearGradient id="r79" gradientUnits="userSpaceOnUse" x1="580.5" x2="745.5" spreadMethod="reflect"><stop offset="0" stop-color="#ff7500"/><stop offset="0.09091" stop-color="#ff8000"/><stop offset="0.1818" stop-color="#ffa200"/><stop offset="0.2727" stop-color="#ffdb00"/><stop offset="0.3152" stop-color="#fffe00"/><stop offset="0.3758" stop-color="#c2ff3d"/><stop offset="0.4242" stop-color="#7dff82"/><stop offset="0.4545" stop-color="#40ffbf"/><stop offset="0.4667" stop-color="#1fffe0"/><stop offset="0.4727" stop-color="#08fff7"/><stop offset="0.4788" stop-color="#00ebff"/><stop offset="0.4909" stop-color="#00b0ff"/><stop offset="0.503" stop-color="#0087ff"/><stop offset="0.5212" stop-color="#0061ff"/><stop offset="0.5455" stop-color="#0047ff"/><stop offset="0.5818" stop-color="#0036ff"/><stop offset="0.6242" stop-color="#0039ff"/><stop offset="0.6727" stop-color="#0052ff"/><stop offset="0.7273" stop-color="#0084ff"/><stop offset="0.7758" stop-color="#00b6ff"/><stop offset="0.7939" stop-color="#00bbff"/><stop offset="0.8182" stop-color="#00aeff"/><stop offset="0.8788" stop-color="#0074ff"/><stop offset="0.9333" stop-color="#0056ff"/><stop offset="0.9879" stop-color="#004fff"/><stop offset="1" stop-color="#0050ff"/></linearGradient>
<linearGradient id="r80" gradientUnits="userSpaceOnUse" x1="580.5" x2="745.5" spreadMethod="reflect"><stop offset="0" stop-color="#ff6800"/><stop offset="0.09091" stop-color="#ff7400"/><stop offset="0.1818" stop-color="#ff9700"/><stop offset="0.2667" stop-color="#ffcc00"/><stop offset="0.3273" stop-color="#fdff02"/><stop offset="0.3879" stop-color="#b8ff47"/><stop offset="0.4303" stop-color="#76ff89"/><stop offset="0.4545" stop-color="#42ffbd"/><stop offset="0.4667" stop-color="#1fffe0"/><stop offset="0.4727" stop-color="#09fff6"/><stop offset="0.4788" stop-color="#00ebff"/><stop offset="0.4909" stop-color="#00adff"/><stop offset="0.503" stop-color="#0083ff"/><stop offset="0.5212" stop-color="#005cff"/><stop offset="0.5455" stop-color="#0040ff"/><stop offset="0.5818" stop-color="#002eff"/><stop offset="0.6242" stop-color="#0030ff"/><stop offset="0.6727" stop-color="#0047ff"/><stop offset="0.7273" stop-color="#0076ff"/><stop offset="0.7818" stop-color="#00b3ff"/><stop offset="0.8061" stop-color="#00bcff"/><stop offset="0.8303" stop-color="#00adff"/><stop offset="0.8909" stop-color="#0073ff"/><stop offset="0.9394" stop-color="#005aff"/><stop offset="0.9939" stop-color="#0054ff"/><stop offset="1" stop-color="#0054ff"/></linearGradient>
<linearGradient id="r81" gradientUnits="userSpaceOnUse" x1="580.5" x2="745.5" spreadMethod="reflect"><stop offset="0" stop-color="#ff5c00"/><stop offset="0.09091" stop-color="#ff6800"/><stop offset="0.1818" stop-color="#ff8b00"/><stop offset="0.2667" stop-color="#ffc300"/><stop offset="0.3333" stop-color="#ffff00"/><stop offset="0.3939" stop-color="#b5ff4a"/><stop offset="0.4303" stop-color="#79ff86"/><stop offset="0.4545" stop-color="#44ffbb"/><stop offset="0.4667" stop-color="#20ffdf"/><stop offset="0.4727" stop-color="#09fff6"/><stop offset="0.4788" stop-color="#00eaff"/><stop offset="0.4909" stop-color="#00abff"/><stop offset="0.503" stop-color="#007fff"/><stop offset="0.5212" stop-color="#0057ff"/><stop offset="0.5455" stop-color="#0039ff"/><stop offset="0.5818" stop-color="#0026ff"/><stop offset="0.6242" stop-color="#0026ff"/><stop offset="0.6727" stop-color="#003cff"/><stop offset="0.7273" stop-color="#006aff"/><stop offset="0.7939" stop-color="#00b5ff"/><stop offset="0.8121" stop-color="#00bdff"/><stop offset="0.8364" stop-color="#00b1ff"/><stop offset="0.897" stop-color="#0077ff"/><stop offset="0.9455" stop-color="#005eff"/><stop offset="1" stop-color="#0058ff"/></linearGradient>
<linearGradient id="r82" gradientUnits="userSpaceOnUse" x1="580.5" x2="745.5" spreadMethod="reflect"><stop offset="0" stop-color="#ff5000"/><stop offset="0.08485" stop-color="#ff5a00"/><stop offset="0.1697" stop-color="#ff7a00"/><stop offset="0.2545" stop-color="#ffb000"/><stop offset="0.3333" stop-color="#fff800"/><stop offset="0.3394" stop-color="#fffe00"/><stop offset="0.3939" stop-color="#baff45"/><stop offset="0.4303" stop-color="#7cff83"/><stop offset="0.4545" stop-color="#45ffba"/><stop offset="0.4667" stop-color="#21ffde"/><stop offset="0.4727" stop-color="#09fff6"/><stop offset="0.4788" stop-color="#00eaff"/><stop offset="0.4909" stop-color="#00a9ff"/><stop offset="0.503" stop-color="#007cff"/><stop offset="0.5212" stop-color="#0051ff"/><stop offset="0.5455" stop-color="#0033ff"/><stop offset="0.5818" stop-color="#001eff"/><stop offset="0.6242" stop-color="#001dff"/><stop offset="0.6727" stop-color="#0031ff"/><stop offset="0.7273" stop-color="#005eff"/><stop offset="0.8061" stop-color="#00b7ff"/><stop offset="0.8242" stop-color="#00beff"/><stop offset="0.8485" stop-color="#00b0ff"/><stop offset="0.903" stop-color="#007bff"/><stop offset="0.9515" stop-color="#0062ff"/><stop offset="1" stop-color="#005cff"/></linearGradient>
<linearGradient id="r83" gradientUnits="userSpaceOnUse" x1="580.5" x2="745.5" spreadMethod="reflect"><stop offset="0" stop-color="#ff4400"/><stop offset="0.08485" stop-color="#ff4f00"/><stop offset="0.1697" stop-color="#ff7000"/><stop offset="0.2545" stop-color="#ffa700"/><stop offset="0.3273" stop-color="#ffea00"/><stop offset="0.3455" stop-color="#ffff00"/><stop offset="0.3939" stop-color="#bfff40"/><stop offset="0.4303" stop-color="#7fff80"/><stop offset="0.4545" stop-color="#47ffb8"/><stop offset="0.4667" stop-color="#22ffdd"/><stop offset="0.4727" stop-color="#0afff5"/><stop offset="0.4788" stop-color="#00e9ff"/><stop offset="0.4909" stop-color="#00a7ff"/><stop offset="0.503" stop-color="#0078ff"/><stop offset="0.5212" stop-color="#004dff"/><stop offset="0.5455" stop-color="#002cff"/><stop offset="0.5818" stop-color="#0016ff"/><stop offset="0.6242" stop-color="#0014ff"/><stop offset="0.6727" stop-color="#0027ff"/><stop offset="0.7273" stop-color="#0053ff"/><stop offset="0.7879" stop-color="#0099ff"/><stop offset="0.8182" stop-color="#00baff"/><stop offset="0.8364" stop-color="#00beff"/><stop offset="0.8606" stop-color="#00adff"/><stop offset="0.9091" stop-color="#007eff"/><stop offset="0.9576" stop-color="#0065ff"/><stop offset="1" stop-color="#0060ff"/></linearGradient>
<linearGradient id="r84" gradientUnits="userSpaceOnUse" x1="580.5" x2="745.5" spreadMethod="reflect"><stop offset="0" stop-color="#ff3800"/><stop offset="0.08485" stop-color="#ff4400"/><stop offset="0.1697" stop-color="#ff6500"/><stop offset="0.2545" stop-color="#ff9e00"/><stop offset="0.3273" stop-color="#ffe300"/><stop offset="0.3515" stop-color="#ffff00"/><stop offset="0.4" stop-color="#baff45"/><stop offset="0.4364" stop-color="#75ff8a"/><stop offset="0.4606" stop-color="#36ffc9"/><stop offset="0.4727" stop-color="#0afff5"/><stop offset="0.4788" stop-color="#00e9ff"/><stop offset="0.4909" stop-color="#00a5ff"/><stop offset="0.503" stop-color="#0075ff"/><stop offset="0.5152" stop-color="#0054ff"/><stop offset="0.5333" stop-color="#0035ff"/><stop offset="0.5636" stop-color="#0018ff"/><stop offset="0.6" stop-color="#000bff"/><stop offset="0.6485" stop-color="#0012ff"/><stop offset="0.703" stop-color="#0033ff"/><stop offset="0.7636" stop-color="#006fff"/><stop offset="0.8242" stop-color="#00b8ff"/><stop offset="0.8424" stop-color="#00bfff"/><stop offset="0.8667" stop-color="#00b0ff"/><stop offset="0.9152" stop-color="#0081ff"/><stop offset="0.9636" stop-color="#0069ff"/><stop offset="1" stop-color="#0064ff"/></linearGradient>
<linearGradient id="r85" gradientUnits="userSpaceOnUse" x1="580.5" x2="745.5" spreadMethod="reflect"><stop offset="0" stop-color="#ff2d00"/><stop offset="0.08485" stop-color="#ff3900"/><stop offset="0.1697" stop-color="#ff5b00"/><stop offset="0.2485" stop-color="#ff9000"/><stop offset="0.3212" stop-color="#ffd500"/><stop offset="0.3576" stop-color="#fdff02"/><stop offset="0.4061" stop-color="#b3ff4c"/><stop offset="0.4424" stop-color="#69ff96"/><stop offset="0.4606" stop-color="#37ffc8"/><stop offset="0.4727" stop-color="#0afff5"/><stop offset="0.4788" stop-color="#00e9ff"/><stop offset="0.4909" stop-color="#00a3ff"/><stop offset="0.503" stop-color="#0072ff"/><stop offset="0.5152" stop-color="#0050ff"/><stop offset="0.5333" stop-color="#002fff"/><stop offset="0.5636" stop-color="#0011ff"/><stop offset="0.6" stop-color="#0003ff"/><stop offset="0.6424" stop-color="#0007ff"/><stop offset="0.697" stop-color="#0024ff"/><stop offset="0.7576" stop-color="#005dff"/><stop offset="0.8303" stop-color="#00b7ff"/><stop offset="0.8485" stop-color="#00c0ff"/><stop offset="0.8667" stop-color="#00b9ff"/><stop offset="0.9273" stop-color="#0080ff"/><stop offset="0.9758" stop-color="#006bff"/><stop offset="1" stop-color="#0068ff"/></linearGradient>
<linearGradient id="r86" gradientUnits="userSpaceOnUse" x1="580.5" x2="745.5" spreadMethod="reflect"><stop offset="0" stop-color="#ff2200"/><stop offset="0.08485" stop-color="#ff2e00"/><stop offset="0.1697" stop-color="#ff5100"/><stop offset="0.2485" stop-color="#ff8800"/><stop offset="0.3212" stop-color="#ffcf00"/><stop offset="0.3576" stop-color="#fffc00"/><stop offset="0.3818" stop-color="#dfff20"/><stop offset="0.4242" stop-color="#94ff6b"/><stop offset="0.4545" stop-color="#4affb5"/><stop offset="0.4667" stop-color="#24ffdb"/><stop offset="0.4727" stop-color="#0afff5"/><stop offset="0.4788" stop-color="#00e8ff"/><stop offset="0.4909" stop-color="#00a1ff"/><stop offset="0.503" stop-color="#006fff"/><stop offset="0.5152" stop-color="#004cff"/><stop offset="0.5333" stop-color="#002aff"/><stop offset="0.5636" stop-color="#000bff"/><stop offset="0.5879" stop-color="#0000fe"/><stop offset="0.6303" stop-color="#0000fb"/><stop offset="0.6606" stop-color="#0006ff"/><stop offset="0.7152" stop-color="#0029ff"/><stop offset="0.7758" stop-color="#0067ff"/><stop offset="0.8424" stop-color="#00bbff"/><stop offset="0.8606" stop-color="#00c1ff"/><stop offset="0.8848" stop-color="#00b0ff"/><stop offset="0.9333" stop-color="#0083ff"/><stop offset="0.9818" stop-color="#006eff"/><stop offset="1" stop-color="#006cff"/></linearGradient>
<linearGradient id="r87" gradientUnits="userSpaceOnUse" x1="580.5" x2="745.5" spreadMethod="reflect"><stop offset="0" stop-color="#ff1800"/><stop offset="0.08485" stop-color="#ff2400"/><stop offset="0.1636" stop-color="#ff4400"/><stop offset="0.2424" stop-color="#ff7a00"/><stop offset="0.3152" stop-color="#ffc100"/><stop offset="0.3636" stop-color="#ffff00"/><stop offset="0.4061" stop-color="#baff45"/><stop offset="0.4364" stop-color="#7bff84"/><stop offset="0.4606" stop-color="#39ffc6"/><stop offset="0.4727" stop-color="#0bfff4"/><stop offset="0.4788" stop-color="#00e8ff"/><stop offset="0.4909" stop-color="#009fff"/><stop offset="0.503" stop-color="#006cff"/><stop offset="0.5152" stop-color="#0048ff"/><stop offset="0.5333" stop-color="#0025ff"/><stop offset="0.5636" stop-color="#0005ff"/><stop offset="0.5879" stop-color="#0000f7"/><stop offset="0.6303" stop-color="#0000f3"/><stop offset="0.6727" stop-color="#0003ff"/><stop offset="0.7273" stop-color="#002bff"/><stop offset="0.7879" stop-color="#006cff"/><stop offset="0.8485" stop-color="#00baff"/><stop offset="0.8667" stop-color="#00c2ff"/><stop offset="0.8909" stop-color="#00b2ff"/><stop offset="0.9394" stop-color="#0085ff"/><stop offset="0.9818" stop-color="#0073ff"/><stop offset="1" stop-color="#0070ff"/></linearGradient>
<linearGradient id="r88" gradientUnits="userSpaceOnUse" x1="580.5" x2="745.5" spreadMethod="reflect"><stop offset="0" stop-color="#ff0e00"/><stop offset="0.07879" stop-color="#ff1800"/><stop offset="0.1576" stop-color="#ff3800"/><stop offset="0.2364" stop-color="#ff6d00"/><stop offset="0.3091" stop-color="#ffb400"/><stop offset="0.3636" stop-color="#fffa00"/><stop offset="0.3758" stop-color="#f2ff0d"/><stop offset="0.4182" stop-color="#a6ff59"/><stop offset="0.4485" stop-color="#5effa1"/><stop offset="0.4667" stop-color="#25ffda"/><stop offset="0.4727" stop-color="#0bfff4"/><stop offset="0.4788" stop-color="#00e8ff"/><stop offset="0.4909" stop-color="#009dff"/><stop offset="0.503" stop-color="#0069ff"/><stop offset="0.5152" stop-color="#0044ff"/><stop offset="0.5333" stop-color="#0021ff"/><stop offset="0.5576" stop-color="#0004ff"/><stop offset="0.5879" stop-color="#0000f0"/><stop offset="0.6303" stop-color="#0000ec"/><stop offset="0.6848" stop-color="#0002ff"/><stop offset="0.7455" stop-color="#0033ff"/><stop offset="0.8121" stop-color="#0081ff"/><stop offset="0.8545" stop-color="#00b9ff"/><stop offset="0.8727" stop-color="#00c3ff"/><stop offset="0.8909" stop-color="#00baff"/><stop offset="0.9394" stop-color="#008cff"/><stop offset="0.9818" stop-color="#0077ff"/><stop offset="1" stop-color="#0074ff"/></linearGradient>
<linearGradient id="r89" gradientUnits="userSpaceOnUse" x1="580.5" x2="745.5" spreadMethod="reflect"><stop offset="0" stop-color="#ff0400"/><stop offset="0.07879" stop-color="#ff0f00"/><stop offset="0.1576" stop-color="#ff2f00"/><stop offset="0.2364" stop-color="#ff6500"/><stop offset="0.3091" stop-color="#ffae00"/><stop offset="0.3697" stop-color="#ffff00"/><stop offset="0.4121" stop-color="#b5ff4a"/><stop offset="0.4424" stop-color="#70ff8f"/><stop offset="0.4606" stop-color="#3bffc4"/><stop offset="0.4727" stop-color="#0bfff4"/><stop offset="0.4788" stop-color="#00e7ff"/><stop offset="0.4909" stop-color="#009cff"/><stop offset="0.503" stop-color="#0066ff"/><stop offset="0.5152" stop-color="#0040ff"/><stop offset="0.5333" stop-color="#001cff"/><stop offset="0.5576" stop-color="#0000fd"/><stop offset="0.5939" stop-color="#0000e8"/><stop offset="0.6364" stop-color="#0000e5"/><stop offset="0.6848" stop-color="#0000f9"/><stop offset="0.703" stop-color="#0006ff"/><stop offset="0.7636" stop-color="#003dff"/><stop offset="0.8303" stop-color="#0090ff"/><stop offset="0.8667" stop-color="#00beff"/><stop offset="0.8848" stop-color="#00c3ff"/><stop offset="0.9091" stop-color="#00b0ff"/><stop offset="0.9515" stop-color="#008aff"/><stop offset="0.9939" stop-color="#0079ff"/><stop offset="1" stop-color="#0078ff"/></linearGradient>
<linearGradient id="r90" gradientUnits="userSpaceOnUse" x1="580.5" x2="745.5" spreadMethod="reflect"><stop offset="0" stop-color="#f90000"/><stop offset="0.07273" stop-color="#ff0400"/><stop offset="0.1515" stop-color="#ff2300"/><stop offset="0.2303" stop-color="#ff5900"/><stop offset="0.303" stop-color="#ffa000"/><stop offset="0.3636" stop-color="#fff100"/><stop offset="0.3758" stop-color="#faff05"/><stop offset="0.4182" stop-color="#abff54"/><stop offset="0.4485" stop-color="#60ff9f"/><stop offset="0.4667" stop-color="#26ffd9"/><stop offset="0.4727" stop-color="#0bfff4"/><stop offset="0.4788" stop-color="#00e7ff"/><stop offset="0.4909" stop-color="#009aff"/><stop offset="0.503" stop-color="#0063ff"/><stop offset="0.5152" stop-color="#003dff"/><stop offset="0.5333" stop-color="#0018ff"/><stop offset="0.5515" stop-color="#0000fe"/><stop offset="0.5818" stop-color="#0000e6"/><stop offset="0.6242" stop-color="#0000dd"/><stop offset="0.6727" stop-color="#0000ea"/><stop offset="0.7091" stop-color="#0002ff"/><stop offset="0.7697" stop-color="#003bff"/><stop offset="0.8364" stop-color="#008fff"/><stop offset="0.8727" stop-color="#00bfff"/><stop offset="0.8909" stop-color="#00c4ff"/><stop offset="0.9152" stop-color="#00b1ff"/><stop offset="0.9576" stop-color="#008cff"/><stop offset="1" stop-color="#007cff"/></linearGradient>
<linearGradient id="r91" gradientUnits="userSpaceOnUse" x1="580.5" x2="745.5" spreadMethod="reflect"><stop offset="0" stop-color="#f00000"/><stop offset="0.07879" stop-color="#fb0000"/><stop offset="0.1152" stop-color="#ff0900"/><stop offset="0.1939" stop-color="#ff3500"/><stop offset="0.2667" stop-color="#ff7300"/><stop offset="0.3333" stop-color="#ffc100"/><stop offset="0.3758" stop-color="#feff01"/><stop offset="0.4182" stop-color="#adff52"/><stop offset="0.4485" stop-color="#62ff9d"/><stop offset="0.4667" stop-color="#26ffd9"/><stop offset="0.4727" stop-color="#0bfff4"/><stop offset="0.4788" stop-color="#00e7ff"/><stop offset="0.4909" stop-color="#0098ff"/><stop offset="0.503" stop-color="#0061ff"/><stop offset="0.5152" stop-color="#0039ff"/><stop offset="0.5333" stop-color="#0013ff"/><stop offset="0.5455" stop-color="#0001ff"/><stop offset="0.5818" stop-color="#0000e1"/><stop offset="0.6242" stop-color="#0000d6"/><stop offset="0.6727" stop-color="#0000e3"/><stop offset="0.7152" stop-color="#0000fe"/><stop offset="0.7758" stop-color="#0039ff"/><stop offset="0.8424" stop-color="#008eff"/><stop offset="0.8788" stop-color="#00bfff"/><stop offset="0.897" stop-color="#00c5ff"/><stop offset="0.9212" stop-color="#00b2ff"/><stop offset="0.9636" stop-color="#008dff"/><stop offset="1" stop-color="#0080ff"/></linearGradient>
<linearGradient id="r92" gradientUnits="userSpaceOnUse" x1="580.5" x2="745.5" spreadMethod="reflect"><stop offset="0" stop-color="#e70000"/><stop offset="0.07879" stop-color="#f30000"/><stop offset="0.1212" stop-color="#ff0300"/><stop offset="0.2" stop-color="#ff3200"/><stop offset="0.2727" stop-color="#ff7300"/><stop offset="0.3394" stop-color="#ffc400"/><stop offset="0.3758" stop-color="#fffc00"/><stop offset="0.4061" stop-color="#c9ff36"/><stop offset="0.4364" stop-color="#84ff7b"/><stop offset="0.4606" stop-color="#3dffc2"/><stop offset="0.4727" stop-color="#0bfff4"/><stop offset="0.4788" stop-color="#00e6ff"/><stop offset="0.4909" stop-color="#0097ff"/><stop offset="0.503" stop-color="#005eff"/><stop offset="0.5152" stop-color="#0036ff"/><stop offset="0.5333" stop-color="#000fff"/><stop offset="0.5455" stop-color="#0000fc"/><stop offset="0.5758" stop-color="#0000df"/><stop offset="0.6121" stop-color="#0000d1"/><stop offset="0.6545" stop-color="#0000d5"/><stop offset="0.7091" stop-color="#0000f2"/><stop offset="0.7273" stop-color="#0002ff"/><stop offset="0.7939" stop-color="#0046ff"/><stop offset="0.8606" stop-color="#00a0ff"/><stop offset="0.8848" stop-color="#00bfff"/><stop offset="0.903" stop-color="#00c6ff"/><stop offset="0.9273" stop-color="#00b3ff"/><stop offset="0.9697" stop-color="#008fff"/><stop offset="1" stop-color="#0083ff"/></linearGradient>
<linearGradient id="r93" gradientUnits="userSpaceOnUse" x1="580.5" x2="745.5" spreadMethod="reflect"><stop offset="0" stop-color="#df0000"/><stop offset="0.07879" stop-color="#eb0000"/><stop offset="0.1333" stop-color="#ff0100"/><stop offset="0.2121" stop-color="#ff3400"/><stop offset="0.2848" stop-color="#ff7a00"/><stop offset="0.3455" stop-color="#ffc800"/><stop offset="0.3758" stop-color="#fff900"/><stop offset="0.3818" stop-color="#fbff04"/><stop offset="0.4182" stop-color="#b2ff4d"/><stop offset="0.4485" stop-color="#64ff9b"/><stop offset="0.4667" stop-color="#27ffd8"/><stop offset="0.4727" stop-color="#0bfff4"/><stop offset="0.4788" stop-color="#00e6ff"/><stop offset="0.4909" stop-color="#0095ff"/><stop offset="0.503" stop-color="#005cff"/><stop offset="0.5152" stop-color="#0033ff"/><stop offset="0.5333" stop-color="#000bff"/><stop offset="0.5394" stop-color="#0001ff"/><stop offset="0.5697" stop-color="#0000de"/><stop offset="0.6061" stop-color="#0000cc"/><stop offset="0.6485" stop-color="#0000cd"/><stop offset="0.697" stop-color="#0000e3"/><stop offset="0.7333" stop-color="#0000ff"/><stop offset="0.8" stop-color="#0046ff"/><stop offset="0.8727" stop-color="#00a9ff"/><stop offset="0.897" stop-color="#00c5ff"/><stop offset="0.9152" stop-color="#00c4ff"/><stop offset="0.9697" stop-color="#0093ff"/><stop offset="1" stop-color="#0087ff"/></linearGradient>
<linearGradient id="r94" gradientUnits="userSpaceOnUse" x1="580.5" x2="745.5" spreadMethod="reflect"><stop offset="0" stop-color="#d70000"/><stop offset="0.07879" stop-color="#e30000"/><stop offset="0.1455" stop-color="#ff0000"/><stop offset="0.2182" stop-color="#ff3300"/><stop offset="0.2848" stop-color="#ff7500"/><stop offset="0.3455" stop-color="#ffc400"/><stop offset="0.3818" stop-color="#feff01"/><stop offset="0.4182" stop-color="#b4ff4b"/><stop offset="0.4485" stop-color="#65ff9a"/><stop offset="0.4667" stop-color="#27ffd8"/><stop offset="0.4727" stop-color="#0cfff3"/><stop offset="0.4788" stop-color="#00e6ff"/><stop offset="0.4909" stop-color="#0094ff"/><stop offset="0.503" stop-color="#0059ff"/><stop offset="0.5152" stop-color="#0030ff"/><stop offset="0.5333" stop-color="#0007ff"/><stop offset="0.5394" stop-color="#0000fc"/><stop offset="0.5697" stop-color="#0000d9"/><stop offset="0.6061" stop-color="#0000c7"/><stop offset="0.6485" stop-color="#0000c7"/><stop offset="0.697" stop-color="#0000dc"/><stop offset="0.7394" stop-color="#0000fd"/><stop offset="0.7939" stop-color="#0038ff"/><stop offset="0.8667" stop-color="#0098ff"/><stop offset="0.897" stop-color="#00c1ff"/><stop offset="0.9152" stop-color="#00c7ff"/><stop offset="0.9455" stop-color="#00adff"/><stop offset="0.9818" stop-color="#0091ff"/><stop offset="1" stop-color="#008bff"/></linearGradient>
<linearGradient id="r95" gradientUnits="userSpaceOnUse" x1="580.5" x2="745.5" spreadMethod="reflect"><stop offset="0" stop-color="#cf0000"/><stop offset="0.07879" stop-color="#db0000"/><stop offset="0.1515" stop-color="#fb0000"/><stop offset="0.1758" stop-color="#ff0c00"/><stop offset="0.2485" stop-color="#ff4800"/><stop offset="0.3152" stop-color="#ff9500"/><stop offset="0.3697" stop-color="#ffe800"/><stop offset="0.3818" stop-color="#fffd00"/><stop offset="0.4121" stop-color="#c3ff3c"/><stop offset="0.4424" stop-color="#77ff88"/><stop offset="0.4606" stop-color="#3effc1"/><stop offset="0.4727" stop-color="#0cfff3"/><stop offset="0.4788" stop-color="#00e5ff"/><stop offset="0.4909" stop-color="#0093ff"/><stop offset="0.503" stop-color="#0057ff"/><stop offset="0.5152" stop-color="#002dff"/><stop offset="0.5333" stop-color="#0004ff"/><stop offset="0.5576" stop-color="#0000e0"/><stop offset="0.5939" stop-color="#0000c6"/><stop offset="0.6364" stop-color="#0000bf"/><stop offset="0.6848" stop-color="#0000cf"/><stop offset="0.7394" stop-color="#0000f7"/><stop offset="0.7515" stop-color="#0003ff"/><stop offset="0.8242" stop-color="#0056ff"/><stop offset="0.903" stop-color="#00c3ff"/><stop offset="0.9212" stop-color="#00c8ff"/><stop offset="0.9818" stop-color="#0095ff"/><stop offset="1" stop-color="#008eff"/></linearGradient>
<linearGradient id="r96" gradientUnits="userSpaceOnUse" x1="580.5" x2="745.5" spreadMethod="reflect"><stop offset="0" stop-color="#c80000"/><stop offset="0.07273" stop-color="#d20000"/><stop offset="0.1455" stop-color="#f10000"/><stop offset="0.1697" stop-color="#ff0100"/><stop offset="0.2424" stop-color="#ff3d00"/><stop offset="0.3091" stop-color="#ff8900"/><stop offset="0.3636" stop-color="#ffda00"/><stop offset="0.3818" stop-color="#fffa00"/><stop offset="0.3939" stop-color="#ecff13"/><stop offset="0.4303" stop-color="#9aff65"/><stop offset="0.4545" stop-color="#53ffac"/><stop offset="0.4667" stop-color="#28ffd7"/><stop offset="0.4727" stop-color="#0cfff3"/><stop offset="0.4788" stop-color="#00e5ff"/><stop offset="0.4909" stop-color="#0091ff"/><stop offset="0.503" stop-color="#0055ff"/><stop offset="0.5152" stop-color="#002aff"/><stop offset="0.5333" stop-color="#0000ff"/><stop offset="0.5636" stop-color="#0000d6"/><stop offset="0.6" stop-color="#0000be"/><stop offset="0.6424" stop-color="#0000ba"/><stop offset="0.6909" stop-color="#0000cd"/><stop offset="0.7576" stop-color="#0003ff"/><stop offset="0.8303" stop-color="#0057ff"/><stop offset="0.9091" stop-color="#00c4ff"/><stop offset="0.9273" stop-color="#00c8ff"/><stop offset="0.9818" stop-color="#009aff"/><stop offset="1" stop-color="#0092ff"/></linearGradient>
<linearGradient id="r97" gradientUnits="userSpaceOnUse" x1="580.5" x2="745.5" spreadMethod="reflect"><stop offset="0" stop-color="#c10000"/><stop offset="0.07273" stop-color="#cb0000"/><stop offset="0.1455" stop-color="#eb0000"/><stop offset="0.1818" stop-color="#ff0300"/><stop offset="0.2545" stop-color="#ff4400"/><stop offset="0.3212" stop-color="#ff9500"/><stop offset="0.3758" stop-color="#ffec00"/><stop offset="0.3879" stop-color="#fbff04"/><stop offset="0.4242" stop-color="#aaff55"/><stop offset="0.4545" stop-color="#54ffab"/><stop offset="0.4667" stop-color="#28ffd7"/><stop offset="0.4727" stop-color="#0cfff3"/><stop offset="0.4788" stop-color="#00e5ff"/><stop offset="0.4909" stop-color="#0090ff"/><stop offset="0.503" stop-color="#0053ff"/><stop offset="0.5152" stop-color="#0028ff"/><stop offset="0.5273" stop-color="#0009ff"/><stop offset="0.5333" stop-color="#0000fc"/><stop offset="0.5576" stop-color="#0000d8"/><stop offset="0.5879" stop-color="#0000bf"/><stop offset="0.6303" stop-color="#0000b4"/><stop offset="0.6788" stop-color="#0000c1"/><stop offset="0.7333" stop-color="#0000e6"/><stop offset="0.7636" stop-color="#0003ff"/><stop offset="0.8364" stop-color="#0059ff"/><stop offset="0.9091" stop-color="#00c0ff"/><stop offset="0.9273" stop-color="#00caff"/><stop offset="0.9515" stop-color="#00b8ff"/><stop offset="0.9879" stop-color="#009aff"/><stop offset="1" stop-color="#0095ff"/></linearGradient>
<linearGradient id="r98" gradientUnits="userSpaceOnUse" x1="580.5" x2="745.5" spreadMethod="reflect"><stop offset="0" stop-color="#ba0000"/><stop offset="0.07273" stop-color="#c50000"/><stop offset="0.1455" stop-color="#e50000"/><stop offset="0.1879" stop-color="#ff0200"/><stop offset="0.2606" stop-color="#ff4500"/><stop offset="0.3212" stop-color="#ff9100"/><stop offset="0.3758" stop-color="#ffea00"/><stop offset="0.3879" stop-color="#fdff02"/><stop offset="0.4242" stop-color="#acff53"/><stop offset="0.4545" stop-color="#55ffaa"/><stop offset="0.4667" stop-color="#28ffd7"/><stop offset="0.4727" stop-color="#0cfff3"/><stop offset="0.4788" stop-color="#00e5ff"/><stop offset="0.4909" stop-color="#008fff"/><stop offset="0.503" stop-color="#0051ff"/><stop offset="0.5152" stop-color="#0025ff"/><stop offset="0.5273" stop-color="#0006ff"/><stop offset="0.5333" stop-color="#0000f9"/><stop offset="0.5576" stop-color="#0000d5"/><stop offset="0.5879" stop-color="#0000bb"/><stop offset="0.6303" stop-color="#0000af"/><stop offset="0.6788" stop-color="#0000bb"/><stop offset="0.7333" stop-color="#0000e0"/><stop offset="0.7636" stop-color="#0000fd"/><stop offset="0.8182" stop-color="#003cff"/><stop offset="0.8909" stop-color="#00a0ff"/><stop offset="0.9152" stop-color="#00c2ff"/><stop offset="0.9333" stop-color="#00caff"/><stop offset="0.9636" stop-color="#00b1ff"/><stop offset="0.9939" stop-color="#009bff"/><stop offset="1" stop-color="#0099ff"/></linearGradient>
<linearGradient id="r99" gradientUnits="userSpaceOnUse" x1="580.5" x2="745.5" spreadMethod="reflect"><stop offset="0" stop-color="#b40000"/><stop offset="0.07273" stop-color="#bf0000"/><stop offset="0.1455" stop-color="#df0000"/><stop offset="0.1939" stop-color="#ff0100"/><stop offset="0.2606" stop-color="#ff4100"/><stop offset="0.3212" stop-color="#ff8d00"/><stop offset="0.3758" stop-color="#ffe700"/><stop offset="0.3879" stop-color="#ffff00"/><stop offset="0.4242" stop-color="#adff52"/><stop offset="0.4545" stop-color="#55ffaa"/><stop offset="0.4667" stop-color="#29ffd6"/><stop offset="0.4727" stop-color="#0cfff3"/><stop offset="0.4788" stop-color="#00e4ff"/><stop offset="0.4909" stop-color="#008eff"/><stop offset="0.503" stop-color="#004fff"/><stop offset="0.5152" stop-color="#0023ff"/><stop offset="0.5273" stop-color="#0004ff"/><stop offset="0.5576" stop-color="#0000d1"/><stop offset="0.5879" stop-color="#0000b7"/><stop offset="0.6242" stop-color="#0000ab"/><stop offset="0.6727" stop-color="#0000b4"/><stop offset="0.7273" stop-color="#0000d6"/><stop offset="0.7697" stop-color="#0000fe"/><stop offset="0.8364" stop-color="#004eff"/><stop offset="0.9212" stop-color="#00c5ff"/><stop offset="0.9394" stop-color="#00caff"/><stop offset="0.9939" stop-color="#009eff"/><stop offset="1" stop-color="#009cff"/></linearGradient>
<linearGradient id="r100" gradientUnits="userSpaceOnUse" x1="580.5" x2="745.5" spreadMethod="reflect"><stop offset="0" stop-color="#ae0000"/><stop offset="0.07273" stop-color="#b90000"/><stop offset="0.1455" stop-color="#d90000"/><stop offset="0.2" stop-color="#ff0100"/><stop offset="0.2667" stop-color="#ff4300"/><stop offset="0.3273" stop-color="#ff9300"/><stop offset="0.3758" stop-color="#ffe500"/><stop offset="0.3879" stop-color="#fffd00"/><stop offset="0.4182" stop-color="#beff41"/><stop offset="0.4485" stop-color="#69ff96"/><stop offset="0.4667" stop-color="#29ffd6"/><stop offset="0.4727" stop-color="#0cfff3"/><stop offset="0.4788" stop-color="#00e4ff"/><stop offset="0.4909" stop-color="#008dff"/><stop offset="0.503" stop-color="#004eff"/><stop offset="0.5152" stop-color="#0021ff"/><stop offset="0.5273" stop-color="#0001ff"/><stop offset="0.5515" stop-color="#0000d6"/><stop offset="0.5818" stop-color="#0000b7"/><stop offset="0.6182" stop-color="#0000a8"/><stop offset="0.6606" stop-color="#0000ab"/><stop offset="0.7152" stop-color="#0000c8"/><stop offset="0.7758" stop-color="#0000ff"/><stop offset="0.8545" stop-color="#0061ff"/><stop offset="0.9273" stop-color="#00c7ff"/><stop offset="0.9455" stop-color="#00caff"/><stop offset="0.9939" stop-color="#00a2ff"/><stop offset="1" stop-color="#009fff"/></linearGradient>
<linearGradient id="r101" gradientUnits="userSpaceOnUse" x1="580.5" x2="745.5" spreadMethod="reflect"><stop offset="0" stop-color="#a90000"/><stop offset="0.07273" stop-color="#b30000"/><stop offset="0.1455" stop-color="#d40000"/><stop offset="0.2061" stop-color="#ff0200"/><stop offset="0.2727" stop-color="#ff4600"/><stop offset="0.3333" stop-color="#ff9900"/><stop offset="0.3818" stop-color="#ffee00"/><stop offset="0.3879" stop-color="#fffb00"/><stop offset="0.4" stop-color="#eaff15"/><stop offset="0.4364" stop-color="#8fff70"/><stop offset="0.4606" stop-color="#41ffbe"/><stop offset="0.4727" stop-color="#0cfff3"/><stop offset="0.4788" stop-color="#00e4ff"/><stop offset="0.4909" stop-color="#008cff"/><stop offset="0.503" stop-color="#004cff"/><stop offset="0.5152" stop-color="#001fff"/><stop offset="0.5273" stop-color="#0000fe"/><stop offset="0.5515" stop-color="#0000d3"/><stop offset="0.5818" stop-color="#0000b4"/><stop offset="0.6182" stop-color="#0000a4"/><stop offset="0.6606" stop-color="#0000a7"/><stop offset="0.7152" stop-color="#0000c3"/><stop offset="0.7818" stop-color="#0002ff"/><stop offset="0.8606" stop-color="#0064ff"/><stop offset="0.9273" stop-color="#00c4ff"/><stop offset="0.9455" stop-color="#00ccff"/><stop offset="0.9939" stop-color="#00a5ff"/><stop offset="1" stop-color="#00a2ff"/></linearGradient>
<linearGradient id="r102" gradientUnits="userSpaceOnUse" x1="580.5" x2="745.5" spreadMethod="reflect"><stop offset="0" stop-color="#a30000"/><stop offset="0.07273" stop-color="#ae0000"/><stop offset="0.1455" stop-color="#d00000"/><stop offset="0.2121" stop-color="#ff0300"/><stop offset="0.2788" stop-color="#ff4a00"/><stop offset="0.3394" stop-color="#ffa000"/><stop offset="0.3879" stop-color="#fff900"/><stop offset="0.3939" stop-color="#f8ff07"/><stop offset="0.4303" stop-color="#a0ff5f"/><stop offset="0.4545" stop-color="#57ffa8"/><stop offset="0.4667" stop-color="#29ffd6"/><stop offset="0.4727" stop-color="#0cfff3"/><stop offset="0.4788" stop-color="#00e4ff"/><stop offset="0.4909" stop-color="#008bff"/><stop offset="0.503" stop-color="#004bff"/><stop offset="0.5152" stop-color="#001dff"/><stop offset="0.5212" stop-color="#000bff"/><stop offset="0.5273" stop-color="#0000fb"/><stop offset="0.5515" stop-color="#0000d0"/><stop offset="0.5818" stop-color="#0000b1"/><stop offset="0.6182" stop-color="#0000a0"/><stop offset="0.6606" stop-color="#0000a3"/><stop offset="0.7152" stop-color="#0000bf"/><stop offset="0.7758" stop-color="#0000f6"/><stop offset="0.7879" stop-color="#0004ff"/><stop offset="0.8727" stop-color="#0070ff"/><stop offset="0.9333" stop-color="#00c7ff"/><stop offset="0.9515" stop-color="#00cbff"/><stop offset="0.9939" stop-color="#00a8ff"/><stop offset="1" stop-color="#00a5ff"/></linearGradient>
<linearGradient id="r103" gradientUnits="userSpaceOnUse" x1="580.5" x2="745.5" spreadMethod="reflect"><stop offset="0" stop-color="#9f0000"/><stop offset="0.07273" stop-color="#aa0000"/><stop offset="0.1455" stop-color="#cb0000"/><stop offset="0.2121" stop-color="#fe0000"/><stop offset="0.2727" stop-color="#ff3f00"/><stop offset="0.3333" stop-color="#ff9400"/><stop offset="0.3818" stop-color="#ffeb00"/><stop offset="0.3939" stop-color="#faff05"/><stop offset="0.4303" stop-color="#a1ff5e"/><stop offset="0.4545" stop-color="#57ffa8"/><stop offset="0.4667" stop-color="#2affd5"/><stop offset="0.4727" stop-color="#0cfff3"/><stop offset="0.4788" stop-color="#00e4ff"/><stop offset="0.4909" stop-color="#008aff"/><stop offset="0.503" stop-color="#0049ff"/><stop offset="0.5152" stop-color="#001bff"/><stop offset="0.5212" stop-color="#0009ff"/><stop offset="0.5273" stop-color="#0000f9"/><stop offset="0.5515" stop-color="#0000cd"/><stop offset="0.5818" stop-color="#0000ae"/><stop offset="0.6182" stop-color="#00009d"/><stop offset="0.6606" stop-color="#00009f"/><stop offset="0.7091" stop-color="#0000b7"/><stop offset="0.7697" stop-color="#0000ec"/><stop offset="0.7879" stop-color="#0000ff"/><stop offset="0.8727" stop-color="#006cff"/><stop offset="0.9333" stop-color="#00c5ff"/><stop offset="0.9515" stop-color="#00cdff"/><stop offset="1" stop-color="#00a8ff"/></linearGradient>
<linearGradient id="r104" gradientUnits="userSpaceOnUse" x1="580.5" x2="745.5" spreadMethod="reflect"><stop offset="0" stop-color="#9a0000"/><stop offset="0.07273" stop-color="#a50000"/><stop offset="0.1455" stop-color="#c70000"/><stop offset="0.2182" stop-color="#ff0100"/><stop offset="0.2848" stop-color="#ff4c00"/><stop offset="0.3394" stop-color="#ff9b00"/><stop offset="0.3879" stop-color="#fff600"/><stop offset="0.3939" stop-color="#fbff04"/><stop offset="0.4303" stop-color="#a2ff5d"/><stop offset="0.4545" stop-color="#57ffa8"/><stop offset="0.4667" stop-color="#2affd5"/><stop offset="0.4727" stop-color="#0cfff3"/><stop offset="0.4788" stop-color="#00e3ff"/><stop offset="0.4909" stop-color="#0089ff"/><stop offset="0.503" stop-color="#0048ff"/><stop offset="0.5152" stop-color="#0019ff"/><stop offset="0.5212" stop-color="#0008ff"/><stop offset="0.5273" stop-color="#0000f7"/><stop offset="0.5515" stop-color="#0000cb"/><stop offset="0.5818" stop-color="#0000ab"/><stop offset="0.6182" stop-color="#00009a"/><stop offset="0.6606" stop-color="#00009c"/><stop offset="0.7091" stop-color="#0000b3"/><stop offset="0.7697" stop-color="#0000e8"/><stop offset="0.7939" stop-color="#0004ff"/><stop offset="0.8788" stop-color="#0071ff"/><stop offset="0.9394" stop-color="#00c8ff"/><stop offset="0.9515" stop-color="#00ceff"/><stop offset="0.9758" stop-color="#00bcff"/><stop offset="1" stop-color="#00aaff"/></linearGradient>
<linearGradient id="r105" gradientUnits="userSpaceOnUse" x1="580.5" x2="745.5" spreadMethod="reflect"><stop offset="0" stop-color="#960000"/><stop offset="0.07273" stop-color="#a20000"/><stop offset="0.1455" stop-color="#c40000"/><stop offset="0.2121" stop-color="#f70000"/><stop offset="0.2242" stop-color="#ff0400"/><stop offset="0.2909" stop-color="#ff5100"/><stop offset="0.3455" stop-color="#ffa300"/><stop offset="0.3939" stop-color="#fdff02"/><stop offset="0.4303" stop-color="#a3ff5c"/><stop offset="0.4545" stop-color="#58ffa7"/><stop offset="0.4667" stop-color="#2affd5"/><stop offset="0.4727" stop-color="#0cfff3"/><stop offset="0.4788" stop-color="#00e3ff"/><stop offset="0.4909" stop-color="#0089ff"/><stop offset="0.503" stop-color="#0047ff"/><stop offset="0.5152" stop-color="#0018ff"/><stop offset="0.5212" stop-color="#0006ff"/><stop offset="0.5273" stop-color="#0000f6"/><stop offset="0.5515" stop-color="#0000c9"/><stop offset="0.5818" stop-color="#0000a8"/><stop offset="0.6182" stop-color="#000097"/><stop offset="0.6606" stop-color="#000099"/><stop offset="0.7091" stop-color="#0000b0"/><stop offset="0.7697" stop-color="#0000e5"/><stop offset="0.7939" stop-color="#0000ff"/><stop offset="0.8788" stop-color="#006dff"/><stop offset="0.9394" stop-color="#00c6ff"/><stop offset="0.9515" stop-color="#00ceff"/><stop offset="0.9697" stop-color="#00c5ff"/><stop offset="1" stop-color="#00adff"/></linearGradient>
<linearGradient id="r106" gradientUnits="userSpaceOnUse" x1="580.5" x2="745.5" spreadMethod="reflect"><stop offset="0" stop-color="#930000"/><stop offset="0.07273" stop-color="#9e0000"/><stop offset="0.1455" stop-color="#c00000"/><stop offset="0.2121" stop-color="#f40000"/><stop offset="0.2242" stop-color="#ff0100"/><stop offset="0.2909" stop-color="#ff4f00"/><stop offset="0.3455" stop-color="#ffa200"/><stop offset="0.3939" stop-color="#feff01"/><stop offset="0.4303" stop-color="#a3ff5c"/><stop offset="0.4545" stop-color="#58ffa7"/><stop offset="0.4667" stop-color="#2affd5"/><stop offset="0.4727" stop-color="#0cfff3"/><stop offset="0.4788" stop-color="#00e3ff"/><stop offset="0.4909" stop-color="#0088ff"/><stop offset="0.503" stop-color="#0046ff"/><stop offset="0.5152" stop-color="#0017ff"/><stop offset="0.5212" stop-color="#0005ff"/><stop offset="0.5333" stop-color="#0000e7"/><stop offset="0.5576" stop-color="#0000bf"/><stop offset="0.5879" stop-color="#0000a2"/><stop offset="0.6242" stop-color="#000094"/><stop offset="0.6667" stop-color="#000098"/><stop offset="0.7212" stop-color="#0000b6"/><stop offset="0.7818" stop-color="#0000ef"/><stop offset="0.8" stop-color="#0004ff"/><stop offset="0.8909" stop-color="#007bff"/><stop offset="0.9455" stop-color="#00caff"/><stop offset="0.9576" stop-color="#00cfff"/><stop offset="1" stop-color="#00afff"/></linearGradient>
<linearGradient id="r107" gradientUnits="userSpaceOnUse" x1="580.5" x2="745.5" spreadMethod="reflect"><stop offset="0" stop-color="#8f0000"/><stop offset="0.07273" stop-color="#9b0000"/><stop offset="0.1455" stop-color="#bd0000"/><stop offset="0.2121" stop-color="#f20000"/><stop offset="0.2242" stop-color="#fd0000"/><stop offset="0.2788" stop-color="#ff3c00"/><stop offset="0.3333" stop-color="#ff8c00"/><stop offset="0.3818" stop-color="#ffe500"/><stop offset="0.3939" stop-color="#ffff00"/><stop offset="0.4303" stop-color="#a4ff5b"/><stop offset="0.4545" stop-color="#58ffa7"/><stop offset="0.4667" stop-color="#2affd5"/><stop offset="0.4727" stop-color="#0cfff3"/><stop offset="0.4788" stop-color="#00e3ff"/><stop offset="0.4909" stop-color="#0087ff"/><stop offset="0.503" stop-color="#0045ff"/><stop offset="0.5152" stop-color="#0015ff"/><stop offset="0.5212" stop-color="#0003ff"/><stop offset="0.5455" stop-color="#0000cf"/><stop offset="0.5758" stop-color="#0000a9"/><stop offset="0.6121" stop-color="#000094"/><stop offset="0.6545" stop-color="#000092"/><stop offset="0.703" stop-color="#0000a7"/><stop offset="0.7636" stop-color="#0000d9"/><stop offset="0.8" stop-color="#0002ff"/><stop offset="0.8909" stop-color="#0078ff"/><stop offset="0.9455" stop-color="#00c8ff"/><stop offset="0.9576" stop-color="#00cfff"/><stop offset="0.9758" stop-color="#00c4ff"/><stop offset="1" stop-color="#00b1ff"/></linearGradient>
<linearGradient id="r108" gradientUnits="userSpaceOnUse" x1="580.5" x2="745.5" spreadMethod="reflect"><stop offset="0" stop-color="#8c0000"/><stop offset="0.07273" stop-color="#980000"/><stop offset="0.1455" stop-color="#bb0000"/><stop offset="0.2121" stop-color="#ef0000"/><stop offset="0.2303" stop-color="#ff0200"/><stop offset="0.2909" stop-color="#ff4b00"/><stop offset="0.3455" stop-color="#ff9f00"/><stop offset="0.3939" stop-color="#fffe00"/><stop offset="0.4242" stop-color="#b5ff4a"/><stop offset="0.4545" stop-color="#59ffa6"/><stop offset="0.4667" stop-color="#2affd5"/><stop offset="0.4727" stop-color="#0cfff3"/><stop offset="0.4788" stop-color="#00e3ff"/><stop offset="0.4909" stop-color="#0087ff"/><stop offset="0.503" stop-color="#0044ff"/><stop offset="0.5152" stop-color="#0014ff"/><stop offset="0.5212" stop-color="#0002ff"/><stop offset="0.5455" stop-color="#0000cd"/><stop offset="0.5758" stop-color="#0000a7"/><stop offset="0.6121" stop-color="#000092"/><stop offset="0.6545" stop-color="#000090"/><stop offset="0.703" stop-color="#0000a4"/><stop offset="0.7636" stop-color="#0000d7"/><stop offset="0.8" stop-color="#0000fe"/><stop offset="0.8848" stop-color="#006dff"/><stop offset="0.9455" stop-color="#00c6ff"/><stop offset="0.9576" stop-color="#00cfff"/><stop offset="0.9758" stop-color="#00c6ff"/><stop offset="1" stop-color="#00b3ff"/></linearGradient>
<linearGradient id="r109" gradientUnits="userSpaceOnUse" x1="580.5" x2="745.5" spreadMethod="reflect"><stop offset="0" stop-color="#8a0000"/><stop offset="0.07273" stop-color="#960000"/><stop offset="0.1455" stop-color="#b80000"/><stop offset="0.2121" stop-color="#ed0000"/><stop offset="0.2303" stop-color="#ff0000"/><stop offset="0.2909" stop-color="#ff4900"/><stop offset="0.3455" stop-color="#ff9d00"/><stop offset="0.3939" stop-color="#fffd00"/><stop offset="0.4242" stop-color="#b6ff49"/><stop offset="0.4545" stop-color="#59ffa6"/><stop offset="0.4667" stop-color="#2affd5"/><stop offset="0.4727" stop-color="#0cfff3"/><stop offset="0.4788" stop-color="#00e3ff"/><stop offset="0.4909" stop-color="#0087ff"/><stop offset="0.503" stop-color="#0043ff"/><stop offset="0.5152" stop-color="#0013ff"/><stop offset="0.5212" stop-color="#0001ff"/><stop offset="0.5455" stop-color="#0000cc"/><stop offset="0.5758" stop-color="#0000a6"/><stop offset="0.6121" stop-color="#000090"/><stop offset="0.6545" stop-color="#00008e"/><stop offset="0.703" stop-color="#0000a2"/><stop offset="0.7636" stop-color="#0000d4"/><stop offset="0.8" stop-color="#0000fc"/><stop offset="0.8485" stop-color="#003aff"/><stop offset="0.9515" stop-color="#00cbff"/><stop offset="0.9636" stop-color="#00d0ff"/><stop offset="1" stop-color="#00b4ff"/></linearGradient>
<linearGradient id="r110" gradientUnits="userSpaceOnUse" x1="580.5" x2="745.5" spreadMethod="reflect"><stop offset="0" stop-color="#880000"/><stop offset="0.07273" stop-color="#930000"/><stop offset="0.1455" stop-color="#b60000"/><stop offset="0.2121" stop-color="#ec0000"/><stop offset="0.2303" stop-color="#fe0000"/><stop offset="0.2848" stop-color="#ff3f00"/><stop offset="0.3394" stop-color="#ff9200"/><stop offset="0.3879" stop-color="#ffef00"/><stop offset="0.3939" stop-color="#fffd00"/><stop offset="0.4182" stop-color="#c6ff39"/><stop offset="0.4485" stop-color="#6eff91"/><stop offset="0.4667" stop-color="#2affd5"/><stop offset="0.4727" stop-color="#0cfff3"/><stop offset="0.4788" stop-color="#00e3ff"/><stop offset="0.4909" stop-color="#0086ff"/><stop offset="0.503" stop-color="#0043ff"/><stop offset="0.5152" stop-color="#0013ff"/><stop offset="0.5212" stop-color="#0000ff"/><stop offset="0.5394" stop-color="#0000d6"/><stop offset="0.5636" stop-color="#0000b1"/><stop offset="0.5939" stop-color="#000097"/><stop offset="0.6303" stop-color="#00008b"/><stop offset="0.6727" stop-color="#000092"/><stop offset="0.7273" stop-color="#0000b2"/><stop offset="0.7939" stop-color="#0000f3"/><stop offset="0.8061" stop-color="#0002ff"/><stop offset="0.903" stop-color="#0083ff"/><stop offset="0.9515" stop-color="#00caff"/><stop offset="0.9636" stop-color="#00d0ff"/><stop offset="1" stop-color="#00b6ff"/></linearGradient>
<linearGradient id="r111" gradientUnits="userSpaceOnUse" x1="580.5" x2="745.5" spreadMethod="reflect"><stop offset="0" stop-color="#860000"/><stop offset="0.07273" stop-color="#920000"/><stop offset="0.1455" stop-color="#b50000"/><stop offset="0.2121" stop-color="#ea0000"/><stop offset="0.2364" stop-color="#ff0400"/><stop offset="0.297" stop-color="#ff4f00"/><stop offset="0.3515" stop-color="#ffa600"/><stop offset="0.3939" stop-color="#fffc00"/><stop offset="0.4182" stop-color="#c7ff38"/><stop offset="0.4485" stop-color="#6eff91"/><stop offset="0.4667" stop-color="#2bffd4"/><stop offset="0.4727" stop-color="#0cfff3"/><stop offset="0.4788" stop-color="#00e3ff"/><stop offset="0.4909" stop-color="#0086ff"/><stop offset="0.503" stop-color="#0042ff"/><stop offset="0.5152" stop-color="#0012ff"/><stop offset="0.5212" stop-color="#0000fe"/><stop offset="0.5394" stop-color="#0000d5"/><stop offset="0.5636" stop-color="#0000b0"/><stop offset="0.5939" stop-color="#000096"/><stop offset="0.6303" stop-color="#00008a"/><stop offset="0.6727" stop-color="#000090"/><stop offset="0.7273" stop-color="#0000b1"/><stop offset="0.7939" stop-color="#0000f2"/><stop offset="0.8061" stop-color="#0001ff"/><stop offset="0.903" stop-color="#0082ff"/><stop offset="0.9515" stop-color="#00c9ff"/><stop offset="0.9636" stop-color="#00d0ff"/><stop offset="0.9879" stop-color="#00c0ff"/><stop offset="1" stop-color="#00b7ff"/></linearGradient>
<linearGradient id="r112" gradientUnits="userSpaceOnUse" x1="580.5" x2="745.5" spreadMethod="reflect"><stop offset="0" stop-color="#850000"/><stop offset="0.07273" stop-color="#900000"/><stop offset="0.1455" stop-color="#b40000"/><stop offset="0.2121" stop-color="#e90000"/><stop offset="0.2364" stop-color="#ff0300"/><stop offset="0.297" stop-color="#ff4e00"/><stop offset="0.3515" stop-color="#ffa600"/><stop offset="0.3939" stop-color="#fffc00"/><stop offset="0.4121" stop-color="#d7ff28"/><stop offset="0.4424" stop-color="#81ff7e"/><stop offset="0.4606" stop-color="#43ffbc"/><stop offset="0.4727" stop-color="#0cfff3"/><stop offset="0.4788" stop-color="#00e3ff"/><stop offset="0.4909" stop-color="#0086ff"/><stop offset="0.503" stop-color="#0042ff"/><stop offset="0.5152" stop-color="#0011ff"/><stop offset="0.5212" stop-color="#0000fe"/><stop offset="0.5394" stop-color="#0000d4"/><stop offset="0.5636" stop-color="#0000af"/><stop offset="0.5939" stop-color="#000095"/><stop offset="0.6303" stop-color="#000089"/><stop offset="0.6727" stop-color="#00008f"/><stop offset="0.7273" stop-color="#0000af"/><stop offset="0.7939" stop-color="#0000f1"/><stop offset="0.8061" stop-color="#0000ff"/><stop offset="0.903" stop-color="#0081ff"/><stop offset="0.9515" stop-color="#00c9ff"/><stop offset="0.9636" stop-color="#00d0ff"/><stop offset="0.9818" stop-color="#00c6ff"/><stop offset="1" stop-color="#00b8ff"/></linearGradient>
<linearGradient id="r113" gradientUnits="userSpaceOnUse" x1="580.5" x2="745.5" spreadMethod="reflect"><stop offset="0" stop-color="#840000"/><stop offset="0.07273" stop-color="#900000"/><stop offset="0.1455" stop-color="#b30000"/><stop offset="0.2121" stop-color="#e80000"/><stop offset="0.2364" stop-color="#ff0200"/><stop offset="0.297" stop-color="#ff4e00"/><stop offset="0.3515" stop-color="#ffa500"/><stop offset="0.3939" stop-color="#fffb00"/><stop offset="0.4121" stop-color="#d7ff28"/><stop offset="0.4424" stop-color="#82ff7d"/><stop offset="0.4606" stop-color="#43ffbc"/><stop offset="0.4727" stop-color="#0cfff3"/><stop offset="0.4788" stop-color="#00e3ff"/><stop offset="0.4909" stop-color="#0085ff"/><stop offset="0.503" stop-color="#0042ff"/><stop offset="0.5152" stop-color="#0011ff"/><stop offset="0.5212" stop-color="#0000fe"/><stop offset="0.5394" stop-color="#0000d4"/><stop offset="0.5636" stop-color="#0000af"/><stop offset="0.5939" stop-color="#000094"/><stop offset="0.6303" stop-color="#000088"/><stop offset="0.6727" stop-color="#00008f"/><stop offset="0.7273" stop-color="#0000af"/><stop offset="0.7939" stop-color="#0000f0"/><stop offset="0.8061" stop-color="#0000fe"/><stop offset="0.8909" stop-color="#006fff"/><stop offset="0.9515" stop-color="#00c8ff"/><stop offset="0.9636" stop-color="#00d0ff"/><stop offset="0.9818" stop-color="#00c7ff"/><stop offset="1" stop-color="#00b8ff"/></linearGradient>
<linearGradient id="r114" gradientUnits="userSpaceOnUse" x1="580.5" x2="745.5" spreadMethod="reflect"><stop offset="0" stop-color="#830000"/><stop offset="0.07273" stop-color="#8f0000"/><stop offset="0.1455" stop-color="#b20000"/><stop offset="0.2121" stop-color="#e80000"/><stop offset="0.2364" stop-color="#ff0200"/><stop offset="0.297" stop-color="#ff4d00"/><stop offset="0.3515" stop-color="#ffa500"/><stop offset="0.3939" stop-color="#fffb00"/><stop offset="0.4061" stop-color="#e6ff19"/><stop offset="0.4364" stop-color="#94ff6b"/><stop offset="0.4606" stop-color="#43ffbc"/><stop offset="0.4727" stop-color="#0cfff3"/><stop offset="0.4788" stop-color="#00e3ff"/><stop offset="0.4909" stop-color="#0085ff"/><stop offset="0.503" stop-color="#0041ff"/><stop offset="0.5152" stop-color="#0011ff"/><stop offset="0.5212" stop-color="#0000fd"/><stop offset="0.5394" stop-color="#0000d3"/><stop offset="0.5636" stop-color="#0000af"/><stop offset="0.5939" stop-color="#000094"/><stop offset="0.6303" stop-color="#000088"/><stop offset="0.6727" stop-color="#00008e"/><stop offset="0.7273" stop-color="#0000ae"/><stop offset="0.7939" stop-color="#0000f0"/><stop offset="0.8061" stop-color="#0000fe"/><stop offset="0.8848" stop-color="#0066ff"/><stop offset="0.9515" stop-color="#00c8ff"/><stop offset="0.9636" stop-color="#00d0ff"/><stop offset="0.9818" stop-color="#00c7ff"/><stop offset="1" stop-color="#00b9ff"/></linearGradient>
<linearGradient id="r115" gradientUnits="userSpaceOnUse" x1="580.5" x2="745.5" spreadMethod="reflect"><stop offset="0" stop-color="#830000"/><stop offset="0.07273" stop-color="#8f0000"/><stop offset="0.1455" stop-color="#b20000"/><stop offset="0.2121" stop-color="#e80000"/><stop offset="0.2364" stop-color="#ff0100"/><stop offset="0.297" stop-color="#ff4d00"/><stop offset="0.3515" stop-color="#ffa500"/><stop offset="0.3939" stop-color="#fffb00"/><stop offset="0.4061" stop-color="#e6ff19"/><stop offset="0.4364" stop-color="#94ff6b"/><stop offset="0.4606" stop-color="#43ffbc"/><stop offset="0.4727" stop-color="#0cfff3"/><stop offset="0.4788" stop-color="#00e3ff"/><stop offset="0.4909" stop-color="#0085ff"/><stop offset="0.503" stop-color="#0041ff"/><stop offset="0.5152" stop-color="#0011ff"/><stop offset="0.5212" stop-color="#0000fd"/><stop offset="0.5394" stop-color="#0000d3"/><stop offset="0.5636" stop-color="#0000ae"/><stop offset="0.5939" stop-color="#000094"/><stop offset="0.6303" stop-color="#000088"/><stop offset="0.6727" stop-color="#00008e"/><stop offset="0.7273" stop-color="#0000ae"/><stop offset="0.7939" stop-color="#0000ef"/><stop offset="0.8061" stop-color="#0000fe"/><stop offset="0.8848" stop-color="#0065ff"/><stop offset="0.9515" stop-color="#00c7ff"/><stop offset="0.9636" stop-color="#00d0ff"/><stop offset="0.9818" stop-color="#00c7ff"/><stop offset="1" stop-color="#00b9ff"/></linearGradient>
</defs>
<!-- panel a -->
<rect x="39.0" y="35.5" width="303.5" height="249.5" fill="url(#ga)"/>
<g clip-path="url(#ca)" filter="url(#bl)">
<g transform="rotate(-17.3 111.9 102.3)"><ellipse cx="111.9" cy="102.3" rx="3.19" ry="1.89" fill="#ff9200"/><ellipse cx="111.9" cy="102.3" rx="2.37" ry="1.40" fill="#ffb200"/><ellipse cx="111.9" cy="102.3" rx="1.65" ry="0.98" fill="#ffdb00"/><ellipse cx="111.9" cy="102.3" rx="0.93" ry="0.55" fill="#faff05"/></g>
<g transform="rotate(-19.6 104.5 104.8)"><ellipse cx="104.5" cy="104.8" rx="2.65" ry="1.65" fill="#ff4b00"/><ellipse cx="104.5" cy="104.8" rx="1.98" ry="1.23" fill="#ff3d00"/><ellipse cx="104.5" cy="104.8" rx="1.38" ry="0.86" fill="#ff2b00"/><ellipse cx="104.5" cy="104.8" rx="0.78" ry="0.48" fill="#ff1900"/></g>
<g transform="rotate(-23.7 93.0 109.4)"><ellipse cx="93.0" cy="109.4" rx="3.83" ry="2.24" fill="#ff2400"/><ellipse cx="93.0" cy="109.4" rx="2.85" ry="1.67" fill="#fa0000"/><ellipse cx="93.0" cy="109.4" rx="1.99" ry="1.16" fill="#c70000"/><ellipse cx="93.0" cy="109.4" rx="1.12" ry="0.66" fill="#940000"/></g>
<g transform="rotate(-25.8 88.0 111.7)"><ellipse cx="88.0" cy="111.7" rx="3.83" ry="2.24" fill="#ff2400"/><ellipse cx="88.0" cy="111.7" rx="2.85" ry="1.67" fill="#fa0000"/><ellipse cx="88.0" cy="111.7" rx="1.99" ry="1.16" fill="#c70000"/><ellipse cx="88.0" cy="111.7" rx="1.12" ry="0.66" fill="#940000"/></g>
<g transform="rotate(-28.9 81.5 115.0)"><ellipse cx="81.5" cy="115.0" rx="3.83" ry="2.48" fill="#ffbd00"/><ellipse cx="81.5" cy="115.0" rx="2.85" ry="1.84" fill="#fffa00"/><ellipse cx="81.5" cy="115.0" rx="1.99" ry="1.29" fill="#b8ff47"/><ellipse cx="81.5" cy="115.0" rx="1.12" ry="0.73" fill="#6bff94"/></g>
<g transform="rotate(-32.3 75.5 118.6)"><ellipse cx="75.5" cy="118.6" rx="5.01" ry="2.36" fill="#ff2400"/><ellipse cx="75.5" cy="118.6" rx="3.73" ry="1.76" fill="#fa0000"/><ellipse cx="75.5" cy="118.6" rx="2.60" ry="1.22" fill="#c70000"/><ellipse cx="75.5" cy="118.6" rx="1.47" ry="0.69" fill="#940000"/></g>
<g transform="rotate(-35.7 70.5 121.9)"><ellipse cx="70.5" cy="121.9" rx="2.65" ry="1.65" fill="#ff7300"/><ellipse cx="70.5" cy="121.9" rx="1.98" ry="1.23" fill="#ff8000"/><ellipse cx="70.5" cy="121.9" rx="1.38" ry="0.86" fill="#ff8f00"/><ellipse cx="70.5" cy="121.9" rx="0.78" ry="0.48" fill="#ff9e00"/></g>
<g transform="rotate(-39.2 66.1 125.3)"><ellipse cx="66.1" cy="125.3" rx="2.95" ry="2.12" fill="#ffa400"/><ellipse cx="66.1" cy="125.3" rx="2.19" ry="1.58" fill="#ffd100"/><ellipse cx="66.1" cy="125.3" rx="1.53" ry="1.10" fill="#f5ff0a"/><ellipse cx="66.1" cy="125.3" rx="0.86" ry="0.62" fill="#bdff42"/></g>
<g transform="rotate(-43.0 62.2 128.7)"><ellipse cx="62.2" cy="128.7" rx="2.95" ry="2.12" fill="#ffa400"/><ellipse cx="62.2" cy="128.7" rx="2.19" ry="1.58" fill="#ffd100"/><ellipse cx="62.2" cy="128.7" rx="1.53" ry="1.10" fill="#f5ff0a"/><ellipse cx="62.2" cy="128.7" rx="0.86" ry="0.62" fill="#bdff42"/></g>
<g transform="rotate(-47.5 58.4 132.5)"><ellipse cx="58.4" cy="132.5" rx="2.65" ry="1.65" fill="#ff4800"/><ellipse cx="58.4" cy="132.5" rx="1.98" ry="1.23" fill="#ff3800"/><ellipse cx="58.4" cy="132.5" rx="1.38" ry="0.86" fill="#ff2400"/><ellipse cx="58.4" cy="132.5" rx="0.78" ry="0.48" fill="#ff0f00"/></g>
<g transform="rotate(-61.5 50.9 142.9)"><ellipse cx="50.9" cy="142.9" rx="3.54" ry="2.36" fill="#ff2400"/><ellipse cx="50.9" cy="142.9" rx="2.63" ry="1.76" fill="#fa0000"/><ellipse cx="50.9" cy="142.9" rx="1.84" ry="1.22" fill="#c70000"/><ellipse cx="50.9" cy="142.9" rx="1.04" ry="0.69" fill="#940000"/></g>
<g transform="rotate(-15.0 47.4 148.9)"><ellipse cx="47.4" cy="148.9" rx="3.30" ry="2.36" fill="#ffc300"/><ellipse cx="47.4" cy="148.9" rx="2.46" ry="1.76" fill="#faff05"/><ellipse cx="47.4" cy="148.9" rx="1.71" ry="1.22" fill="#a8ff57"/><ellipse cx="47.4" cy="148.9" rx="0.97" ry="0.69" fill="#57ffa8"/></g>
<g transform="rotate(0.0 47.4 152.8)"><ellipse cx="47.4" cy="152.8" rx="2.24" ry="1.42" fill="#ff2a00"/><ellipse cx="47.4" cy="152.8" rx="1.67" ry="1.05" fill="#ff0500"/><ellipse cx="47.4" cy="152.8" rx="1.16" ry="0.73" fill="#d60000"/><ellipse cx="47.4" cy="152.8" rx="0.66" ry="0.41" fill="#a80000"/></g>
<g transform="rotate(90.0 47.2 160.2)"><ellipse cx="47.2" cy="160.2" rx="5.90" ry="1.30" fill="#ff6d00"/><ellipse cx="47.2" cy="160.2" rx="4.39" ry="0.97" fill="#ff7500"/><ellipse cx="47.2" cy="160.2" rx="3.06" ry="0.67" fill="#ff8000"/><ellipse cx="47.2" cy="160.2" rx="1.73" ry="0.38" fill="#ff8a00"/></g>
<g transform="rotate(35.0 123.9 99.0)"><ellipse cx="123.9" cy="99.0" rx="3.24" ry="1.77" fill="#0092ff"/><ellipse cx="123.9" cy="99.0" rx="2.41" ry="1.32" fill="#00b2ff"/><ellipse cx="123.9" cy="99.0" rx="1.68" ry="0.92" fill="#00dbff"/><ellipse cx="123.9" cy="99.0" rx="0.95" ry="0.52" fill="#05fffa"/></g>
<g transform="rotate(50.0 133.8 96.7)"><ellipse cx="133.8" cy="96.7" rx="2.36" ry="1.53" fill="#003cff"/><ellipse cx="133.8" cy="96.7" rx="1.76" ry="1.14" fill="#0024ff"/><ellipse cx="133.8" cy="96.7" rx="1.22" ry="0.80" fill="#0005ff"/><ellipse cx="133.8" cy="96.7" rx="0.69" ry="0.45" fill="#0000e6"/></g>
<g transform="rotate(55.0 138.7 95.8)"><ellipse cx="138.7" cy="95.8" rx="2.95" ry="1.65" fill="#0098ff"/><ellipse cx="138.7" cy="95.8" rx="2.19" ry="1.23" fill="#00bdff"/><ellipse cx="138.7" cy="95.8" rx="1.53" ry="0.86" fill="#00ebff"/><ellipse cx="138.7" cy="95.8" rx="0.86" ry="0.48" fill="#1affe5"/></g>
<g transform="rotate(50.0 143.4 95.0)"><ellipse cx="143.4" cy="95.0" rx="2.48" ry="1.53" fill="#003cff"/><ellipse cx="143.4" cy="95.0" rx="1.84" ry="1.14" fill="#0024ff"/><ellipse cx="143.4" cy="95.0" rx="1.29" ry="0.80" fill="#0005ff"/><ellipse cx="143.4" cy="95.0" rx="0.73" ry="0.45" fill="#0000e6"/></g>
<g transform="rotate(-7.9 150.5 93.9)"><ellipse cx="150.5" cy="93.9" rx="3.83" ry="1.89" fill="#0039ff"/><ellipse cx="150.5" cy="93.9" rx="2.85" ry="1.40" fill="#001fff"/><ellipse cx="150.5" cy="93.9" rx="1.99" ry="0.98" fill="#0000fc"/><ellipse cx="150.5" cy="93.9" rx="1.12" ry="0.55" fill="#0000db"/></g>
<g transform="rotate(-4.7 166.5 92.1)"><ellipse cx="166.5" cy="92.1" rx="12.39" ry="2.71" fill="#00a4ff"/><ellipse cx="166.5" cy="92.1" rx="9.22" ry="2.02" fill="#00d1ff"/><ellipse cx="166.5" cy="92.1" rx="6.43" ry="1.41" fill="#0afff5"/><ellipse cx="166.5" cy="92.1" rx="3.63" ry="0.79" fill="#42ffbd"/></g>
<g transform="rotate(17.3 111.9 218.2)"><ellipse cx="111.9" cy="218.2" rx="3.19" ry="1.89" fill="#ff9200"/><ellipse cx="111.9" cy="218.2" rx="2.37" ry="1.40" fill="#ffb200"/><ellipse cx="111.9" cy="218.2" rx="1.65" ry="0.98" fill="#ffdb00"/><ellipse cx="111.9" cy="218.2" rx="0.93" ry="0.55" fill="#faff05"/></g>
<g transform="rotate(19.6 104.5 215.7)"><ellipse cx="104.5" cy="215.7" rx="2.65" ry="1.65" fill="#ff4b00"/><ellipse cx="104.5" cy="215.7" rx="1.98" ry="1.23" fill="#ff3d00"/><ellipse cx="104.5" cy="215.7" rx="1.38" ry="0.86" fill="#ff2b00"/><ellipse cx="104.5" cy="215.7" rx="0.78" ry="0.48" fill="#ff1900"/></g>
<g transform="rotate(23.7 93.0 211.1)"><ellipse cx="93.0" cy="211.1" rx="3.83" ry="2.24" fill="#ff2400"/><ellipse cx="93.0" cy="211.1" rx="2.85" ry="1.67" fill="#fa0000"/><ellipse cx="93.0" cy="211.1" rx="1.99" ry="1.16" fill="#c70000"/><ellipse cx="93.0" cy="211.1" rx="1.12" ry="0.66" fill="#940000"/></g>
<g transform="rotate(25.8 88.0 208.8)"><ellipse cx="88.0" cy="208.8" rx="3.83" ry="2.24" fill="#ff2400"/><ellipse cx="88.0" cy="208.8" rx="2.85" ry="1.67" fill="#fa0000"/><ellipse cx="88.0" cy="208.8" rx="1.99" ry="1.16" fill="#c70000"/><ellipse cx="88.0" cy="208.8" rx="1.12" ry="0.66" fill="#940000"/></g>
<g transform="rotate(28.9 81.5 205.5)"><ellipse cx="81.5" cy="205.5" rx="3.83" ry="2.48" fill="#ffbd00"/><ellipse cx="81.5" cy="205.5" rx="2.85" ry="1.84" fill="#fffa00"/><ellipse cx="81.5" cy="205.5" rx="1.99" ry="1.29" fill="#b8ff47"/><ellipse cx="81.5" cy="205.5" rx="1.12" ry="0.73" fill="#6bff94"/></g>
<g transform="rotate(32.3 75.5 201.9)"><ellipse cx="75.5" cy="201.9" rx="5.01" ry="2.36" fill="#ff2400"/><ellipse cx="75.5" cy="201.9" rx="3.73" ry="1.76" fill="#fa0000"/><ellipse cx="75.5" cy="201.9" rx="2.60" ry="1.22" fill="#c70000"/><ellipse cx="75.5" cy="201.9" rx="1.47" ry="0.69" fill="#940000"/></g>
<g transform="rotate(35.7 70.5 198.6)"><ellipse cx="70.5" cy="198.6" rx="2.65" ry="1.65" fill="#ff7300"/><ellipse cx="70.5" cy="198.6" rx="1.98" ry="1.23" fill="#ff8000"/><ellipse cx="70.5" cy="198.6" rx="1.38" ry="0.86" fill="#ff8f00"/><ellipse cx="70.5" cy="198.6" rx="0.78" ry="0.48" fill="#ff9e00"/></g>
<g transform="rotate(39.2 66.1 195.2)"><ellipse cx="66.1" cy="195.2" rx="2.95" ry="2.12" fill="#ffa400"/><ellipse cx="66.1" cy="195.2" rx="2.19" ry="1.58" fill="#ffd100"/><ellipse cx="66.1" cy="195.2" rx="1.53" ry="1.10" fill="#f5ff0a"/><ellipse cx="66.1" cy="195.2" rx="0.86" ry="0.62" fill="#bdff42"/></g>
<g transform="rotate(43.0 62.2 191.8)"><ellipse cx="62.2" cy="191.8" rx="2.95" ry="2.12" fill="#ffa400"/><ellipse cx="62.2" cy="191.8" rx="2.19" ry="1.58" fill="#ffd100"/><ellipse cx="62.2" cy="191.8" rx="1.53" ry="1.10" fill="#f5ff0a"/><ellipse cx="62.2" cy="191.8" rx="0.86" ry="0.62" fill="#bdff42"/></g>
<g transform="rotate(47.5 58.4 188.0)"><ellipse cx="58.4" cy="188.0" rx="2.65" ry="1.65" fill="#ff4800"/><ellipse cx="58.4" cy="188.0" rx="1.98" ry="1.23" fill="#ff3800"/><ellipse cx="58.4" cy="188.0" rx="1.38" ry="0.86" fill="#ff2400"/><ellipse cx="58.4" cy="188.0" rx="0.78" ry="0.48" fill="#ff0f00"/></g>
<g transform="rotate(61.5 50.9 177.6)"><ellipse cx="50.9" cy="177.6" rx="3.54" ry="2.36" fill="#ff2400"/><ellipse cx="50.9" cy="177.6" rx="2.63" ry="1.76" fill="#fa0000"/><ellipse cx="50.9" cy="177.6" rx="1.84" ry="1.22" fill="#c70000"/><ellipse cx="50.9" cy="177.6" rx="1.04" ry="0.69" fill="#940000"/></g>
<g transform="rotate(15.0 47.4 171.6)"><ellipse cx="47.4" cy="171.6" rx="3.30" ry="2.36" fill="#ffc300"/><ellipse cx="47.4" cy="171.6" rx="2.46" ry="1.76" fill="#faff05"/><ellipse cx="47.4" cy="171.6" rx="1.71" ry="1.22" fill="#a8ff57"/><ellipse cx="47.4" cy="171.6" rx="0.97" ry="0.69" fill="#57ffa8"/></g>
<g transform="rotate(0.0 47.4 167.7)"><ellipse cx="47.4" cy="167.7" rx="2.24" ry="1.42" fill="#ff2a00"/><ellipse cx="47.4" cy="167.7" rx="1.67" ry="1.05" fill="#ff0500"/><ellipse cx="47.4" cy="167.7" rx="1.16" ry="0.73" fill="#d60000"/><ellipse cx="47.4" cy="167.7" rx="0.66" ry="0.41" fill="#a80000"/></g>
<g transform="rotate(-90.0 47.2 160.2)"><ellipse cx="47.2" cy="160.2" rx="5.90" ry="1.30" fill="#ff6d00"/><ellipse cx="47.2" cy="160.2" rx="4.39" ry="0.97" fill="#ff7500"/><ellipse cx="47.2" cy="160.2" rx="3.06" ry="0.67" fill="#ff8000"/><ellipse cx="47.2" cy="160.2" rx="1.73" ry="0.38" fill="#ff8a00"/></g>
<g transform="rotate(35.0 123.9 221.5)"><ellipse cx="123.9" cy="221.5" rx="3.24" ry="1.77" fill="#0092ff"/><ellipse cx="123.9" cy="221.5" rx="2.41" ry="1.32" fill="#00b2ff"/><ellipse cx="123.9" cy="221.5" rx="1.68" ry="0.92" fill="#00dbff"/><ellipse cx="123.9" cy="221.5" rx="0.95" ry="0.52" fill="#05fffa"/></g>
<g transform="rotate(50.0 133.8 223.8)"><ellipse cx="133.8" cy="223.8" rx="2.36" ry="1.53" fill="#003cff"/><ellipse cx="133.8" cy="223.8" rx="1.76" ry="1.14" fill="#0024ff"/><ellipse cx="133.8" cy="223.8" rx="1.22" ry="0.80" fill="#0005ff"/><ellipse cx="133.8" cy="223.8" rx="0.69" ry="0.45" fill="#0000e6"/></g>
<g transform="rotate(55.0 138.7 224.7)"><ellipse cx="138.7" cy="224.7" rx="2.95" ry="1.65" fill="#0098ff"/><ellipse cx="138.7" cy="224.7" rx="2.19" ry="1.23" fill="#00bdff"/><ellipse cx="138.7" cy="224.7" rx="1.53" ry="0.86" fill="#00ebff"/><ellipse cx="138.7" cy="224.7" rx="0.86" ry="0.48" fill="#1affe5"/></g>
<g transform="rotate(50.0 143.4 225.5)"><ellipse cx="143.4" cy="225.5" rx="2.48" ry="1.53" fill="#003cff"/><ellipse cx="143.4" cy="225.5" rx="1.84" ry="1.14" fill="#0024ff"/><ellipse cx="143.4" cy="225.5" rx="1.29" ry="0.80" fill="#0005ff"/><ellipse cx="143.4" cy="225.5" rx="0.73" ry="0.45" fill="#0000e6"/></g>
<g transform="rotate(7.9 150.5 226.6)"><ellipse cx="150.5" cy="226.6" rx="3.83" ry="1.89" fill="#0039ff"/><ellipse cx="150.5" cy="226.6" rx="2.85" ry="1.40" fill="#001fff"/><ellipse cx="150.5" cy="226.6" rx="1.99" ry="0.98" fill="#0000fc"/><ellipse cx="150.5" cy="226.6" rx="1.12" ry="0.55" fill="#0000db"/></g>
<g transform="rotate(4.7 166.5 228.4)"><ellipse cx="166.5" cy="228.4" rx="12.39" ry="2.71" fill="#00a4ff"/><ellipse cx="166.5" cy="228.4" rx="9.22" ry="2.02" fill="#00d1ff"/><ellipse cx="166.5" cy="228.4" rx="6.43" ry="1.41" fill="#0afff5"/><ellipse cx="166.5" cy="228.4" rx="3.63" ry="0.79" fill="#42ffbd"/></g>
<g transform="rotate(17.3 269.6 102.3)"><ellipse cx="269.6" cy="102.3" rx="3.19" ry="1.89" fill="#ff9200"/><ellipse cx="269.6" cy="102.3" rx="2.37" ry="1.40" fill="#ffb200"/><ellipse cx="269.6" cy="102.3" rx="1.65" ry="0.98" fill="#ffdb00"/><ellipse cx="269.6" cy="102.3" rx="0.93" ry="0.55" fill="#faff05"/></g>
<g transform="rotate(19.6 277.0 104.8)"><ellipse cx="277.0" cy="104.8" rx="2.65" ry="1.65" fill="#ff4b00"/><ellipse cx="277.0" cy="104.8" rx="1.98" ry="1.23" fill="#ff3d00"/><ellipse cx="277.0" cy="104.8" rx="1.38" ry="0.86" fill="#ff2b00"/><ellipse cx="277.0" cy="104.8" rx="0.78" ry="0.48" fill="#ff1900"/></g>
<g transform="rotate(23.7 288.5 109.4)"><ellipse cx="288.5" cy="109.4" rx="3.83" ry="2.24" fill="#ff2400"/><ellipse cx="288.5" cy="109.4" rx="2.85" ry="1.67" fill="#fa0000"/><ellipse cx="288.5" cy="109.4" rx="1.99" ry="1.16" fill="#c70000"/><ellipse cx="288.5" cy="109.4" rx="1.12" ry="0.66" fill="#940000"/></g>
<g transform="rotate(25.8 293.5 111.7)"><ellipse cx="293.5" cy="111.7" rx="3.83" ry="2.24" fill="#ff2400"/><ellipse cx="293.5" cy="111.7" rx="2.85" ry="1.67" fill="#fa0000"/><ellipse cx="293.5" cy="111.7" rx="1.99" ry="1.16" fill="#c70000"/><ellipse cx="293.5" cy="111.7" rx="1.12" ry="0.66" fill="#940000"/></g>
<g transform="rotate(28.9 300.0 115.0)"><ellipse cx="300.0" cy="115.0" rx="3.83" ry="2.48" fill="#ffbd00"/><ellipse cx="300.0" cy="115.0" rx="2.85" ry="1.84" fill="#fffa00"/><ellipse cx="300.0" cy="115.0" rx="1.99" ry="1.29" fill="#b8ff47"/><ellipse cx="300.0" cy="115.0" rx="1.12" ry="0.73" fill="#6bff94"/></g>
<g transform="rotate(32.3 306.0 118.6)"><ellipse cx="306.0" cy="118.6" rx="5.01" ry="2.36" fill="#ff2400"/><ellipse cx="306.0" cy="118.6" rx="3.73" ry="1.76" fill="#fa0000"/><ellipse cx="306.0" cy="118.6" rx="2.60" ry="1.22" fill="#c70000"/><ellipse cx="306.0" cy="118.6" rx="1.47" ry="0.69" fill="#940000"/></g>
<g transform="rotate(35.7 311.0 121.9)"><ellipse cx="311.0" cy="121.9" rx="2.65" ry="1.65" fill="#ff7300"/><ellipse cx="311.0" cy="121.9" rx="1.98" ry="1.23" fill="#ff8000"/><ellipse cx="311.0" cy="121.9" rx="1.38" ry="0.86" fill="#ff8f00"/><ellipse cx="311.0" cy="121.9" rx="0.78" ry="0.48" fill="#ff9e00"/></g>
<g transform="rotate(39.2 315.4 125.3)"><ellipse cx="315.4" cy="125.3" rx="2.95" ry="2.12" fill="#ffa400"/><ellipse cx="315.4" cy="125.3" rx="2.19" ry="1.58" fill="#ffd100"/><ellipse cx="315.4" cy="125.3" rx="1.53" ry="1.10" fill="#f5ff0a"/><ellipse cx="315.4" cy="125.3" rx="0.86" ry="0.62" fill="#bdff42"/></g>
<g transform="rotate(43.0 319.3 128.7)"><ellipse cx="319.3" cy="128.7" rx="2.95" ry="2.12" fill="#ffa400"/><ellipse cx="319.3" cy="128.7" rx="2.19" ry="1.58" fill="#ffd100"/><ellipse cx="319.3" cy="128.7" rx="1.53" ry="1.10" fill="#f5ff0a"/><ellipse cx="319.3" cy="128.7" rx="0.86" ry="0.62" fill="#bdff42"/></g>
<g transform="rotate(47.5 323.1 132.5)"><ellipse cx="323.1" cy="132.5" rx="2.65" ry="1.65" fill="#ff4800"/><ellipse cx="323.1" cy="132.5" rx="1.98" ry="1.23" fill="#ff3800"/><ellipse cx="323.1" cy="132.5" rx="1.38" ry="0.86" fill="#ff2400"/><ellipse cx="323.1" cy="132.5" rx="0.78" ry="0.48" fill="#ff0f00"/></g>
<g transform="rotate(61.5 330.6 142.9)"><ellipse cx="330.6" cy="142.9" rx="3.54" ry="2.36" fill="#ff2400"/><ellipse cx="330.6" cy="142.9" rx="2.63" ry="1.76" fill="#fa0000"/><ellipse cx="330.6" cy="142.9" rx="1.84" ry="1.22" fill="#c70000"/><ellipse cx="330.6" cy="142.9" rx="1.04" ry="0.69" fill="#940000"/></g>
<g transform="rotate(15.0 334.1 148.9)"><ellipse cx="334.1" cy="148.9" rx="3.30" ry="2.36" fill="#ffc300"/><ellipse cx="334.1" cy="148.9" rx="2.46" ry="1.76" fill="#faff05"/><ellipse cx="334.1" cy="148.9" rx="1.71" ry="1.22" fill="#a8ff57"/><ellipse cx="334.1" cy="148.9" rx="0.97" ry="0.69" fill="#57ffa8"/></g>
<g transform="rotate(0.0 334.1 152.8)"><ellipse cx="334.1" cy="152.8" rx="2.24" ry="1.42" fill="#ff2a00"/><ellipse cx="334.1" cy="152.8" rx="1.67" ry="1.05" fill="#ff0500"/><ellipse cx="334.1" cy="152.8" rx="1.16" ry="0.73" fill="#d60000"/><ellipse cx="334.1" cy="152.8" rx="0.66" ry="0.41" fill="#a80000"/></g>
<g transform="rotate(-90.0 334.3 160.2)"><ellipse cx="334.3" cy="160.2" rx="5.90" ry="1.30" fill="#ff6d00"/><ellipse cx="334.3" cy="160.2" rx="4.39" ry="0.97" fill="#ff7500"/><ellipse cx="334.3" cy="160.2" rx="3.06" ry="0.67" fill="#ff8000"/><ellipse cx="334.3" cy="160.2" rx="1.73" ry="0.38" fill="#ff8a00"/></g>
<g transform="rotate(35.0 257.6 99.0)"><ellipse cx="257.6" cy="99.0" rx="3.24" ry="1.77" fill="#0092ff"/><ellipse cx="257.6" cy="99.0" rx="2.41" ry="1.32" fill="#00b2ff"/><ellipse cx="257.6" cy="99.0" rx="1.68" ry="0.92" fill="#00dbff"/><ellipse cx="257.6" cy="99.0" rx="0.95" ry="0.52" fill="#05fffa"/></g>
<g transform="rotate(50.0 247.7 96.7)"><ellipse cx="247.7" cy="96.7" rx="2.36" ry="1.53" fill="#003cff"/><ellipse cx="247.7" cy="96.7" rx="1.76" ry="1.14" fill="#0024ff"/><ellipse cx="247.7" cy="96.7" rx="1.22" ry="0.80" fill="#0005ff"/><ellipse cx="247.7" cy="96.7" rx="0.69" ry="0.45" fill="#0000e6"/></g>
<g transform="rotate(55.0 242.8 95.8)"><ellipse cx="242.8" cy="95.8" rx="2.95" ry="1.65" fill="#0098ff"/><ellipse cx="242.8" cy="95.8" rx="2.19" ry="1.23" fill="#00bdff"/><ellipse cx="242.8" cy="95.8" rx="1.53" ry="0.86" fill="#00ebff"/><ellipse cx="242.8" cy="95.8" rx="0.86" ry="0.48" fill="#1affe5"/></g>
<g transform="rotate(50.0 238.1 95.0)"><ellipse cx="238.1" cy="95.0" rx="2.48" ry="1.53" fill="#003cff"/><ellipse cx="238.1" cy="95.0" rx="1.84" ry="1.14" fill="#0024ff"/><ellipse cx="238.1" cy="95.0" rx="1.29" ry="0.80" fill="#0005ff"/><ellipse cx="238.1" cy="95.0" rx="0.73" ry="0.45" fill="#0000e6"/></g>
<g transform="rotate(7.9 231.0 93.9)"><ellipse cx="231.0" cy="93.9" rx="3.83" ry="1.89" fill="#0039ff"/><ellipse cx="231.0" cy="93.9" rx="2.85" ry="1.40" fill="#001fff"/><ellipse cx="231.0" cy="93.9" rx="1.99" ry="0.98" fill="#0000fc"/><ellipse cx="231.0" cy="93.9" rx="1.12" ry="0.55" fill="#0000db"/></g>
<g transform="rotate(4.7 215.0 92.1)"><ellipse cx="215.0" cy="92.1" rx="12.39" ry="2.71" fill="#00a4ff"/><ellipse cx="215.0" cy="92.1" rx="9.22" ry="2.02" fill="#00d1ff"/><ellipse cx="215.0" cy="92.1" rx="6.43" ry="1.41" fill="#0afff5"/><ellipse cx="215.0" cy="92.1" rx="3.63" ry="0.79" fill="#42ffbd"/></g>
<g transform="rotate(-17.3 269.6 218.2)"><ellipse cx="269.6" cy="218.2" rx="3.19" ry="1.89" fill="#ff9200"/><ellipse cx="269.6" cy="218.2" rx="2.37" ry="1.40" fill="#ffb200"/><ellipse cx="269.6" cy="218.2" rx="1.65" ry="0.98" fill="#ffdb00"/><ellipse cx="269.6" cy="218.2" rx="0.93" ry="0.55" fill="#faff05"/></g>
<g transform="rotate(-19.6 277.0 215.7)"><ellipse cx="277.0" cy="215.7" rx="2.65" ry="1.65" fill="#ff4b00"/><ellipse cx="277.0" cy="215.7" rx="1.98" ry="1.23" fill="#ff3d00"/><ellipse cx="277.0" cy="215.7" rx="1.38" ry="0.86" fill="#ff2b00"/><ellipse cx="277.0" cy="215.7" rx="0.78" ry="0.48" fill="#ff1900"/></g>
<g transform="rotate(-23.7 288.5 211.1)"><ellipse cx="288.5" cy="211.1" rx="3.83" ry="2.24" fill="#ff2400"/><ellipse cx="288.5" cy="211.1" rx="2.85" ry="1.67" fill="#fa0000"/><ellipse cx="288.5" cy="211.1" rx="1.99" ry="1.16" fill="#c70000"/><ellipse cx="288.5" cy="211.1" rx="1.12" ry="0.66" fill="#940000"/></g>
<g transform="rotate(-25.8 293.5 208.8)"><ellipse cx="293.5" cy="208.8" rx="3.83" ry="2.24" fill="#ff2400"/><ellipse cx="293.5" cy="208.8" rx="2.85" ry="1.67" fill="#fa0000"/><ellipse cx="293.5" cy="208.8" rx="1.99" ry="1.16" fill="#c70000"/><ellipse cx="293.5" cy="208.8" rx="1.12" ry="0.66" fill="#940000"/></g>
<g transform="rotate(-28.9 300.0 205.5)"><ellipse cx="300.0" cy="205.5" rx="3.83" ry="2.48" fill="#ffbd00"/><ellipse cx="300.0" cy="205.5" rx="2.85" ry="1.84" fill="#fffa00"/><ellipse cx="300.0" cy="205.5" rx="1.99" ry="1.29" fill="#b8ff47"/><ellipse cx="300.0" cy="205.5" rx="1.12" ry="0.73" fill="#6bff94"/></g>
<g transform="rotate(-32.3 306.0 201.9)"><ellipse cx="306.0" cy="201.9" rx="5.01" ry="2.36" fill="#ff2400"/><ellipse cx="306.0" cy="201.9" rx="3.73" ry="1.76" fill="#fa0000"/><ellipse cx="306.0" cy="201.9" rx="2.60" ry="1.22" fill="#c70000"/><ellipse cx="306.0" cy="201.9" rx="1.47" ry="0.69" fill="#940000"/></g>
<g transform="rotate(-35.7 311.0 198.6)"><ellipse cx="311.0" cy="198.6" rx="2.65" ry="1.65" fill="#ff7300"/><ellipse cx="311.0" cy="198.6" rx="1.98" ry="1.23" fill="#ff8000"/><ellipse cx="311.0" cy="198.6" rx="1.38" ry="0.86" fill="#ff8f00"/><ellipse cx="311.0" cy="198.6" rx="0.78" ry="0.48" fill="#ff9e00"/></g>
<g transform="rotate(-39.2 315.4 195.2)"><ellipse cx="315.4" cy="195.2" rx="2.95" ry="2.12" fill="#ffa400"/><ellipse cx="315.4" cy="195.2" rx="2.19" ry="1.58" fill="#ffd100"/><ellipse cx="315.4" cy="195.2" rx="1.53" ry="1.10" fill="#f5ff0a"/><ellipse cx="315.4" cy="195.2" rx="0.86" ry="0.62" fill="#bdff42"/></g>
<g transform="rotate(-43.0 319.3 191.8)"><ellipse cx="319.3" cy="191.8" rx="2.95" ry="2.12" fill="#ffa400"/><ellipse cx="319.3" cy="191.8" rx="2.19" ry="1.58" fill="#ffd100"/><ellipse cx="319.3" cy="191.8" rx="1.53" ry="1.10" fill="#f5ff0a"/><ellipse cx="319.3" cy="191.8" rx="0.86" ry="0.62" fill="#bdff42"/></g>
<g transform="rotate(-47.5 323.1 188.0)"><ellipse cx="323.1" cy="188.0" rx="2.65" ry="1.65" fill="#ff4800"/><ellipse cx="323.1" cy="188.0" rx="1.98" ry="1.23" fill="#ff3800"/><ellipse cx="323.1" cy="188.0" rx="1.38" ry="0.86" fill="#ff2400"/><ellipse cx="323.1" cy="188.0" rx="0.78" ry="0.48" fill="#ff0f00"/></g>
<g transform="rotate(-61.5 330.6 177.6)"><ellipse cx="330.6" cy="177.6" rx="3.54" ry="2.36" fill="#ff2400"/><ellipse cx="330.6" cy="177.6" rx="2.63" ry="1.76" fill="#fa0000"/><ellipse cx="330.6" cy="177.6" rx="1.84" ry="1.22" fill="#c70000"/><ellipse cx="330.6" cy="177.6" rx="1.04" ry="0.69" fill="#940000"/></g>
<g transform="rotate(-15.0 334.1 171.6)"><ellipse cx="334.1" cy="171.6" rx="3.30" ry="2.36" fill="#ffc300"/><ellipse cx="334.1" cy="171.6" rx="2.46" ry="1.76" fill="#faff05"/><ellipse cx="334.1" cy="171.6" rx="1.71" ry="1.22" fill="#a8ff57"/><ellipse cx="334.1" cy="171.6" rx="0.97" ry="0.69" fill="#57ffa8"/></g>
<g transform="rotate(0.0 334.1 167.7)"><ellipse cx="334.1" cy="167.7" rx="2.24" ry="1.42" fill="#ff2a00"/><ellipse cx="334.1" cy="167.7" rx="1.67" ry="1.05" fill="#ff0500"/><ellipse cx="334.1" cy="167.7" rx="1.16" ry="0.73" fill="#d60000"/><ellipse cx="334.1" cy="167.7" rx="0.66" ry="0.41" fill="#a80000"/></g>
<g transform="rotate(90.0 334.3 160.2)"><ellipse cx="334.3" cy="160.2" rx="5.90" ry="1.30" fill="#ff6d00"/><ellipse cx="334.3" cy="160.2" rx="4.39" ry="0.97" fill="#ff7500"/><ellipse cx="334.3" cy="160.2" rx="3.06" ry="0.67" fill="#ff8000"/><ellipse cx="334.3" cy="160.2" rx="1.73" ry="0.38" fill="#ff8a00"/></g>
<g transform="rotate(35.0 257.6 221.5)"><ellipse cx="257.6" cy="221.5" rx="3.24" ry="1.77" fill="#0092ff"/><ellipse cx="257.6" cy="221.5" rx="2.41" ry="1.32" fill="#00b2ff"/><ellipse cx="257.6" cy="221.5" rx="1.68" ry="0.92" fill="#00dbff"/><ellipse cx="257.6" cy="221.5" rx="0.95" ry="0.52" fill="#05fffa"/></g>
<g transform="rotate(50.0 247.7 223.8)"><ellipse cx="247.7" cy="223.8" rx="2.36" ry="1.53" fill="#003cff"/><ellipse cx="247.7" cy="223.8" rx="1.76" ry="1.14" fill="#0024ff"/><ellipse cx="247.7" cy="223.8" rx="1.22" ry="0.80" fill="#0005ff"/><ellipse cx="247.7" cy="223.8" rx="0.69" ry="0.45" fill="#0000e6"/></g>
<g transform="rotate(55.0 242.8 224.7)"><ellipse cx="242.8" cy="224.7" rx="2.95" ry="1.65" fill="#0098ff"/><ellipse cx="242.8" cy="224.7" rx="2.19" ry="1.23" fill="#00bdff"/><ellipse cx="242.8" cy="224.7" rx="1.53" ry="0.86" fill="#00ebff"/><ellipse cx="242.8" cy="224.7" rx="0.86" ry="0.48" fill="#1affe5"/></g>
<g transform="rotate(50.0 238.1 225.5)"><ellipse cx="238.1" cy="225.5" rx="2.48" ry="1.53" fill="#003cff"/><ellipse cx="238.1" cy="225.5" rx="1.84" ry="1.14" fill="#0024ff"/><ellipse cx="238.1" cy="225.5" rx="1.29" ry="0.80" fill="#0005ff"/><ellipse cx="238.1" cy="225.5" rx="0.73" ry="0.45" fill="#0000e6"/></g>
<g transform="rotate(-7.9 231.0 226.6)"><ellipse cx="231.0" cy="226.6" rx="3.83" ry="1.89" fill="#0039ff"/><ellipse cx="231.0" cy="226.6" rx="2.85" ry="1.40" fill="#001fff"/><ellipse cx="231.0" cy="226.6" rx="1.99" ry="0.98" fill="#0000fc"/><ellipse cx="231.0" cy="226.6" rx="1.12" ry="0.55" fill="#0000db"/></g>
<g transform="rotate(-4.7 215.0 228.4)"><ellipse cx="215.0" cy="228.4" rx="12.39" ry="2.71" fill="#00a4ff"/><ellipse cx="215.0" cy="228.4" rx="9.22" ry="2.02" fill="#00d1ff"/><ellipse cx="215.0" cy="228.4" rx="6.43" ry="1.41" fill="#0afff5"/><ellipse cx="215.0" cy="228.4" rx="3.63" ry="0.79" fill="#42ffbd"/></g>
<g transform="rotate(0.0 190.8 90.2)"><ellipse cx="190.8" cy="90.2" rx="16.52" ry="3.66" fill="#0021ff"/><ellipse cx="190.8" cy="90.2" rx="12.29" ry="2.72" fill="#0000f5"/><ellipse cx="190.8" cy="90.2" rx="8.57" ry="1.90" fill="#0000bf"/><ellipse cx="190.8" cy="90.2" rx="4.84" ry="1.07" fill="#00008a"/></g>
<g transform="rotate(-5.4 162.8 92.5)"><ellipse cx="162.8" cy="92.5" rx="5.31" ry="1.53" fill="#53ffac"/><ellipse cx="162.8" cy="92.5" rx="3.95" ry="1.14" fill="#6bff94"/><ellipse cx="162.8" cy="92.5" rx="2.76" ry="0.80" fill="#8aff75"/><ellipse cx="162.8" cy="92.5" rx="1.55" ry="0.45" fill="#a8ff57"/></g>
<g transform="rotate(5.4 218.7 92.5)"><ellipse cx="218.7" cy="92.5" rx="5.31" ry="1.53" fill="#53ffac"/><ellipse cx="218.7" cy="92.5" rx="3.95" ry="1.14" fill="#6bff94"/><ellipse cx="218.7" cy="92.5" rx="2.76" ry="0.80" fill="#8aff75"/><ellipse cx="218.7" cy="92.5" rx="1.55" ry="0.45" fill="#a8ff57"/></g>
<g transform="rotate(0.0 190.8 230.2)"><ellipse cx="190.8" cy="230.2" rx="16.52" ry="3.66" fill="#0021ff"/><ellipse cx="190.8" cy="230.2" rx="12.29" ry="2.72" fill="#0000f5"/><ellipse cx="190.8" cy="230.2" rx="8.57" ry="1.90" fill="#0000bf"/><ellipse cx="190.8" cy="230.2" rx="4.84" ry="1.07" fill="#00008a"/></g>
<g transform="rotate(5.4 162.8 228.0)"><ellipse cx="162.8" cy="228.0" rx="5.31" ry="1.53" fill="#53ffac"/><ellipse cx="162.8" cy="228.0" rx="3.95" ry="1.14" fill="#6bff94"/><ellipse cx="162.8" cy="228.0" rx="2.76" ry="0.80" fill="#8aff75"/><ellipse cx="162.8" cy="228.0" rx="1.55" ry="0.45" fill="#a8ff57"/></g>
<g transform="rotate(-5.4 218.7 228.0)"><ellipse cx="218.7" cy="228.0" rx="5.31" ry="1.53" fill="#53ffac"/><ellipse cx="218.7" cy="228.0" rx="3.95" ry="1.14" fill="#6bff94"/><ellipse cx="218.7" cy="228.0" rx="2.76" ry="0.80" fill="#8aff75"/><ellipse cx="218.7" cy="228.0" rx="1.55" ry="0.45" fill="#a8ff57"/></g>
</g>
<rect x="39.0" y="35.5" width="303.5" height="249.5" fill="none" stroke="#333" stroke-opacity="0.75" stroke-width="0.8"/>
<!-- panel b heatmap -->
<g shape-rendering="crispEdges">
<rect x="415" y="59" width="331" height="1" fill="url(#r0)"/>
<rect x="415" y="60" width="331" height="1" fill="url(#r1)"/>
<rect x="415" y="61" width="331" height="1" fill="url(#r2)"/>
<rect x="415" y="62" width="331" height="1" fill="url(#r3)"/>
<rect x="415" y="63" width="331" height="1" fill="url(#r4)"/>
<rect x="415" y="64" width="331" height="1" fill="url(#r5)"/>
<rect x="415" y="65" width="331" height="1" fill="url(#r6)"/>
<rect x="415" y="66" width="331" height="1" fill="url(#r7)"/>
<rect x="415" y="67" width="331" height="1" fill="url(#r8)"/>
<rect x="415" y="68" width="331" height="1" fill="url(#r9)"/>
<rect x="415" y="69" width="331" height="1" fill="url(#r10)"/>
<rect x="415" y="70" width="331" height="1" fill="url(#r11)"/>
<rect x="415" y="71" width="331" height="1" fill="url(#r12)"/>
<rect x="415" y="72" width="331" height="1" fill="url(#r13)"/>
<rect x="415" y="73" width="331" height="1" fill="url(#r14)"/>
<rect x="415" y="74" width="331" height="1" fill="url(#r15)"/>
<rect x="415" y="75" width="331" height="1" fill="url(#r16)"/>
<rect x="415" y="76" width="331" height="1" fill="url(#r17)"/>
<rect x="415" y="77" width="331" height="1" fill="url(#r18)"/>
<rect x="415" y="78" width="331" height="1" fill="url(#r19)"/>
<rect x="415" y="79" width="331" height="1" fill="url(#r20)"/>
<rect x="415" y="80" width="331" height="1" fill="url(#r21)"/>
<rect x="415" y="81" width="331" height="1" fill="url(#r22)"/>
<rect x="415" y="82" width="331" height="1" fill="url(#r23)"/>
<rect x="415" y="83" width="331" height="1" fill="url(#r24)"/>
<rect x="415" y="84" width="331" height="1" fill="url(#r25)"/>
<rect x="415" y="85" width="331" height="1" fill="url(#r26)"/>
<rect x="415" y="86" width="331" height="1" fill="url(#r27)"/>
<rect x="415" y="87" width="331" height="1" fill="url(#r28)"/>
<rect x="415" y="88" width="331" height="1" fill="url(#r29)"/>
<rect x="415" y="89" width="331" height="1" fill="url(#r30)"/>
<rect x="415" y="90" width="331" height="1" fill="url(#r31)"/>
<rect x="415" y="91" width="331" height="1" fill="url(#r32)"/>
<rect x="415" y="92" width="331" height="1" fill="url(#r33)"/>
<rect x="415" y="93" width="331" height="1" fill="url(#r34)"/>
<rect x="415" y="94" width="331" height="1" fill="url(#r35)"/>
<rect x="415" y="95" width="331" height="1" fill="url(#r36)"/>
<rect x="415" y="96" width="331" height="1" fill="url(#r37)"/>
<rect x="415" y="97" width="331" height="1" fill="url(#r38)"/>
<rect x="415" y="98" width="331" height="1" fill="url(#r39)"/>
<rect x="415" y="99" width="331" height="1" fill="url(#r40)"/>
<rect x="415" y="100" width="331" height="1" fill="url(#r41)"/>
<rect x="415" y="101" width="331" height="1" fill="url(#r42)"/>
<rect x="415" y="102" width="331" height="1" fill="url(#r43)"/>
<rect x="415" y="103" width="331" height="1" fill="url(#r44)"/>
<rect x="415" y="104" width="331" height="1" fill="url(#r45)"/>
<rect x="415" y="105" width="331" height="1" fill="url(#r46)"/>
<rect x="415" y="106" width="331" height="1" fill="url(#r47)"/>
<rect x="415" y="107" width="331" height="1" fill="url(#r48)"/>
<rect x="415" y="108" width="331" height="1" fill="url(#r49)"/>
<rect x="415" y="109" width="331" height="1" fill="url(#r50)"/>
<rect x="415" y="110" width="331" height="1" fill="url(#r51)"/>
<rect x="415" y="111" width="331" height="1" fill="url(#r52)"/>
<rect x="415" y="112" width="331" height="1" fill="url(#r53)"/>
<rect x="415" y="113" width="331" height="1" fill="url(#r54)"/>
<rect x="415" y="114" width="331" height="1" fill="url(#r55)"/>
<rect x="415" y="115" width="331" height="1" fill="url(#r56)"/>
<rect x="415" y="116" width="331" height="1" fill="url(#r57)"/>
<rect x="415" y="117" width="331" height="1" fill="url(#r58)"/>
<rect x="415" y="118" width="331" height="1" fill="url(#r59)"/>
<rect x="415" y="119" width="331" height="1" fill="url(#r60)"/>
<rect x="415" y="120" width="331" height="1" fill="url(#r61)"/>
<rect x="415" y="121" width="331" height="1" fill="url(#r62)"/>
<rect x="415" y="122" width="331" height="1" fill="url(#r63)"/>
<rect x="415" y="123" width="331" height="1" fill="url(#r64)"/>
<rect x="415" y="124" width="331" height="1" fill="url(#r65)"/>
<rect x="415" y="125" width="331" height="1" fill="url(#r66)"/>
<rect x="415" y="126" width="331" height="1" fill="url(#r67)"/>
<rect x="415" y="127" width="331" height="1" fill="url(#r68)"/>
<rect x="415" y="128" width="331" height="1" fill="url(#r69)"/>
<rect x="415" y="129" width="331" height="1" fill="url(#r70)"/>
<rect x="415" y="130" width="331" height="1" fill="url(#r71)"/>
<rect x="415" y="131" width="331" height="1" fill="url(#r72)"/>
<rect x="415" y="132" width="331" height="1" fill="url(#r73)"/>
<rect x="415" y="133" width="331" height="1" fill="url(#r74)"/>
<rect x="415" y="134" width="331" height="1" fill="url(#r75)"/>
<rect x="415" y="135" width="331" height="1" fill="url(#r76)"/>
<rect x="415" y="136" width="331" height="1" fill="url(#r77)"/>
<rect x="415" y="137" width="331" height="1" fill="url(#r78)"/>
<rect x="415" y="138" width="331" height="1" fill="url(#r79)"/>
<rect x="415" y="139" width="331" height="1" fill="url(#r80)"/>
<rect x="415" y="140" width="331" height="1" fill="url(#r81)"/>
<rect x="415" y="141" width="331" height="1" fill="url(#r82)"/>
<rect x="415" y="142" width="331" height="1" fill="url(#r83)"/>
<rect x="415" y="143" width="331" height="1" fill="url(#r84)"/>
<rect x="415" y="144" width="331" height="1" fill="url(#r85)"/>
<rect x="415" y="145" width="331" height="1" fill="url(#r86)"/>
<rect x="415" y="146" width="331" height="1" fill="url(#r87)"/>
<rect x="415" y="147" width="331" height="1" fill="url(#r88)"/>
<rect x="415" y="148" width="331" height="1" fill="url(#r89)"/>
<rect x="415" y="149" width="331" height="1" fill="url(#r90)"/>
<rect x="415" y="150" width="331" height="1" fill="url(#r91)"/>
<rect x="415" y="151" width="331" height="1" fill="url(#r92)"/>
<rect x="415" y="152" width="331" height="1" fill="url(#r93)"/>
<rect x="415" y="153" width="331" height="1" fill="url(#r94)"/>
<rect x="415" y="154" width="331" height="1" fill="url(#r95)"/>
<rect x="415" y="155" width="331" height="1" fill="url(#r96)"/>
<rect x="415" y="156" width="331" height="1" fill="url(#r97)"/>
<rect x="415" y="157" width="331" height="1" fill="url(#r98)"/>
<rect x="415" y="158" width="331" height="1" fill="url(#r99)"/>
<rect x="415" y="159" width="331" height="1" fill="url(#r100)"/>
<rect x="415" y="160" width="331" height="1" fill="url(#r101)"/>
<rect x="415" y="161" width="331" height="1" fill="url(#r102)"/>
<rect x="415" y="162" width="331" height="1" fill="url(#r103)"/>
<rect x="415" y="163" width="331" height="1" fill="url(#r104)"/>
<rect x="415" y="164" width="331" height="1" fill="url(#r105)"/>
<rect x="415" y="165" width="331" height="1" fill="url(#r106)"/>
<rect x="415" y="166" width="331" height="1" fill="url(#r107)"/>
<rect x="415" y="167" width="331" height="1" fill="url(#r108)"/>
<rect x="415" y="168" width="331" height="1" fill="url(#r109)"/>
<rect x="415" y="169" width="331" height="1" fill="url(#r110)"/>
<rect x="415" y="170" width="331" height="1" fill="url(#r111)"/>
<rect x="415" y="171" width="331" height="1" fill="url(#r112)"/>
<rect x="415" y="172" width="331" height="1" fill="url(#r113)"/>
<rect x="415" y="173" width="331" height="1" fill="url(#r114)"/>
<rect x="415" y="174" width="331" height="1" fill="url(#r115)"/>
<rect x="415" y="175" width="331" height="1" fill="url(#r114)"/>
<rect x="415" y="176" width="331" height="1" fill="url(#r113)"/>
<rect x="415" y="177" width="331" height="1" fill="url(#r112)"/>
<rect x="415" y="178" width="331" height="1" fill="url(#r111)"/>
<rect x="415" y="179" width="331" height="1" fill="url(#r110)"/>
<rect x="415" y="180" width="331" height="1" fill="url(#r109)"/>
<rect x="415" y="181" width="331" height="1" fill="url(#r108)"/>
<rect x="415" y="182" width="331" height="1" fill="url(#r107)"/>
<rect x="415" y="183" width="331" height="1" fill="url(#r106)"/>
<rect x="415" y="184" width="331" height="1" fill="url(#r105)"/>
<rect x="415" y="185" width="331" height="1" fill="url(#r104)"/>
<rect x="415" y="186" width="331" height="1" fill="url(#r103)"/>
<rect x="415" y="187" width="331" height="1" fill="url(#r102)"/>
<rect x="415" y="188" width="331" height="1" fill="url(#r101)"/>
<rect x="415" y="189" width="331" height="1" fill="url(#r100)"/>
<rect x="415" y="190" width="331" height="1" fill="url(#r99)"/>
<rect x="415" y="191" width="331" height="1" fill="url(#r98)"/>
<rect x="415" y="192" width="331" height="1" fill="url(#r97)"/>
<rect x="415" y="193" width="331" height="1" fill="url(#r96)"/>
<rect x="415" y="194" width="331" height="1" fill="url(#r95)"/>
<rect x="415" y="195" width="331" height="1" fill="url(#r94)"/>
<rect x="415" y="196" width="331" height="1" fill="url(#r93)"/>
<rect x="415" y="197" width="331" height="1" fill="url(#r92)"/>
<rect x="415" y="198" width="331" height="1" fill="url(#r91)"/>
<rect x="415" y="199" width="331" height="1" fill="url(#r90)"/>
<rect x="415" y="200" width="331" height="1" fill="url(#r89)"/>
<rect x="415" y="201" width="331" height="1" fill="url(#r88)"/>
<rect x="415" y="202" width="331" height="1" fill="url(#r87)"/>
<rect x="415" y="203" width="331" height="1" fill="url(#r86)"/>
<rect x="415" y="204" width="331" height="1" fill="url(#r85)"/>
<rect x="415" y="205" width="331" height="1" fill="url(#r84)"/>
<rect x="415" y="206" width="331" height="1" fill="url(#r83)"/>
<rect x="415" y="207" width="331" height="1" fill="url(#r82)"/>
<rect x="415" y="208" width="331" height="1" fill="url(#r81)"/>
<rect x="415" y="209" width="331" height="1" fill="url(#r80)"/>
<rect x="415" y="210" width="331" height="1" fill="url(#r79)"/>
<rect x="415" y="211" width="331" height="1" fill="url(#r78)"/>
<rect x="415" y="212" width="331" height="1" fill="url(#r77)"/>
<rect x="415" y="213" width="331" height="1" fill="url(#r76)"/>
<rect x="415" y="214" width="331" height="1" fill="url(#r75)"/>
<rect x="415" y="215" width="331" height="1" fill="url(#r74)"/>
<rect x="415" y="216" width="331" height="1" fill="url(#r73)"/>
<rect x="415" y="217" width="331" height="1" fill="url(#r72)"/>
<rect x="415" y="218" width="331" height="1" fill="url(#r71)"/>
<rect x="415" y="219" width="331" height="1" fill="url(#r70)"/>
<rect x="415" y="220" width="331" height="1" fill="url(#r69)"/>
<rect x="415" y="221" width="331" height="1" fill="url(#r68)"/>
<rect x="415" y="222" width="331" height="1" fill="url(#r67)"/>
<rect x="415" y="223" width="331" height="1" fill="url(#r66)"/>
<rect x="415" y="224" width="331" height="1" fill="url(#r65)"/>
<rect x="415" y="225" width="331" height="1" fill="url(#r64)"/>
<rect x="415" y="226" width="331" height="1" fill="url(#r63)"/>
<rect x="415" y="227" width="331" height="1" fill="url(#r62)"/>
<rect x="415" y="228" width="331" height="1" fill="url(#r61)"/>
<rect x="415" y="229" width="331" height="1" fill="url(#r60)"/>
<rect x="415" y="230" width="331" height="1" fill="url(#r59)"/>
<rect x="415" y="231" width="331" height="1" fill="url(#r58)"/>
<rect x="415" y="232" width="331" height="1" fill="url(#r57)"/>
<rect x="415" y="233" width="331" height="1" fill="url(#r56)"/>
<rect x="415" y="234" width="331" height="1" fill="url(#r55)"/>
<rect x="415" y="235" width="331" height="1" fill="url(#r54)"/>
<rect x="415" y="236" width="331" height="1" fill="url(#r53)"/>
<rect x="415" y="237" width="331" height="1" fill="url(#r52)"/>
<rect x="415" y="238" width="331" height="1" fill="url(#r51)"/>
<rect x="415" y="239" width="331" height="1" fill="url(#r50)"/>
<rect x="415" y="240" width="331" height="1" fill="url(#r49)"/>
<rect x="415" y="241" width="331" height="1" fill="url(#r48)"/>
<rect x="415" y="242" width="331" height="1" fill="url(#r47)"/>
<rect x="415" y="243" width="331" height="1" fill="url(#r46)"/>
<rect x="415" y="244" width="331" height="1" fill="url(#r45)"/>
<rect x="415" y="245" width="331" height="1" fill="url(#r44)"/>
<rect x="415" y="246" width="331" height="1" fill="url(#r43)"/>
<rect x="415" y="247" width="331" height="1" fill="url(#r42)"/>
<rect x="415" y="248" width="331" height="1" fill="url(#r41)"/>
<rect x="415" y="249" width="331" height="1" fill="url(#r40)"/>
<rect x="415" y="250" width="331" height="1" fill="url(#r39)"/>
<rect x="415" y="251" width="331" height="1" fill="url(#r38)"/>
<rect x="415" y="252" width="331" height="1" fill="url(#r37)"/>
<rect x="415" y="253" width="331" height="1" fill="url(#r36)"/>
<rect x="415" y="254" width="331" height="1" fill="url(#r35)"/>
<rect x="415" y="255" width="331" height="1" fill="url(#r34)"/>
<rect x="415" y="256" width="331" height="1" fill="url(#r33)"/>
<rect x="415" y="257" width="331" height="1" fill="url(#r32)"/>
<rect x="415" y="258" width="331" height="1" fill="url(#r31)"/>
<rect x="415" y="259" width="331" height="1" fill="url(#r30)"/>
<rect x="415" y="260" width="331" height="1" fill="url(#r29)"/>
<rect x="415" y="261" width="331" height="1" fill="url(#r28)"/>
<rect x="415" y="262" width="331" height="1" fill="url(#r27)"/>
<rect x="415" y="263" width="331" height="1" fill="url(#r26)"/>
<rect x="415" y="264" width="331" height="1" fill="url(#r25)"/>
<rect x="415" y="265" width="331" height="1" fill="url(#r24)"/>
<rect x="415" y="266" width="331" height="1" fill="url(#r23)"/>
<rect x="415" y="267" width="331" height="1" fill="url(#r22)"/>
<rect x="415" y="268" width="331" height="1" fill="url(#r21)"/>
<rect x="415" y="269" width="331" height="1" fill="url(#r20)"/>
<rect x="415" y="270" width="331" height="1" fill="url(#r19)"/>
<rect x="415" y="271" width="331" height="1" fill="url(#r18)"/>
<rect x="415" y="272" width="331" height="1" fill="url(#r17)"/>
<rect x="415" y="273" width="331" height="1" fill="url(#r16)"/>
<rect x="415" y="274" width="331" height="1" fill="url(#r15)"/>
<rect x="415" y="275" width="331" height="1" fill="url(#r14)"/>
<rect x="415" y="276" width="331" height="1" fill="url(#r13)"/>
<rect x="415" y="277" width="331" height="1" fill="url(#r12)"/>
<rect x="415" y="278" width="331" height="1" fill="url(#r11)"/>
<rect x="415" y="279" width="331" height="1" fill="url(#r10)"/>
<rect x="415" y="280" width="331" height="1" fill="url(#r9)"/>
<rect x="415" y="281" width="331" height="1" fill="url(#r8)"/>
<rect x="415" y="282" width="331" height="1" fill="url(#r7)"/>
<rect x="415" y="283" width="331" height="1" fill="url(#r6)"/>
<rect x="415" y="284" width="331" height="1" fill="url(#r5)"/>
<rect x="415" y="285" width="331" height="1" fill="url(#r4)"/>
<rect x="415" y="286" width="331" height="1" fill="url(#r3)"/>
<rect x="415" y="287" width="331" height="1" fill="url(#r2)"/>
<rect x="415" y="288" width="331" height="1" fill="url(#r1)"/>
<rect x="415" y="289" width="331" height="1" fill="url(#r0)"/>
</g>
<rect x="415" y="59" width="331" height="231" fill="none" stroke="#262626" stroke-opacity="0.6" stroke-width="0.8"/>
<!-- colorbar -->
<rect x="415.5" y="34.4" width="330.5" height="13.8" fill="url(#gcb)"/>
<rect x="415.5" y="34.4" width="330.5" height="13.8" fill="none" stroke="#262626" stroke-opacity="0.5" stroke-width="0.7"/>
<g stroke="#262626" stroke-width="0.7" stroke-opacity="0.8">
<line x1="417.7" y1="34.4" x2="417.7" y2="37.6"/><line x1="466.6" y1="34.4" x2="466.6" y2="37.6"/>
<line x1="515.5" y1="34.4" x2="515.5" y2="37.6"/><line x1="564.4" y1="34.4" x2="564.4" y2="37.6"/>
<line x1="613.3" y1="34.4" x2="613.3" y2="37.6"/><line x1="662.2" y1="34.4" x2="662.2" y2="37.6"/>
<line x1="711.1" y1="34.4" x2="711.1" y2="37.6"/>
</g>
<g font-size="11.5" text-anchor="middle" letter-spacing="0.4">
<text x="417.9" y="28.7">-0.2</text><text x="466.8" y="28.7">-0.1</text><text x="515.7" y="28.7">0</text>
<text x="564.6" y="28.7">0.1</text><text x="613.5" y="28.7">0.2</text><text x="662.4" y="28.7">0.3</text><text x="711.3" y="28.7">0.4</text>
</g>
<text class="ser" x="574.6" y="10.5" font-size="17.5" textLength="10.4" lengthAdjust="spacingAndGlyphs" style="fill:#262626">&#954;</text>
<text x="585.4" y="19.9" font-size="15.5" textLength="15.6" lengthAdjust="spacingAndGlyphs">xy</text>
<!-- panel b ticks -->
<g font-size="12" text-anchor="end">
<text x="411" y="63.3">5</text><text x="411" y="178.3">0</text><text x="411" y="293.5">-5</text>
</g>
<g font-size="12" text-anchor="middle">
<text x="415" y="303.6">-5</text><text x="580.5" y="303.6">0</text><text x="746" y="303.6">5</text>
</g>
<text class="ser" x="572" y="318.7" font-size="15">A</text><text class="ser" x="582.6" y="321.5" font-size="10.5">x</text>
<g transform="translate(392.3,183) rotate(-90)"><text class="ser" x="0" y="0" font-size="15.5">A</text><text class="ser" x="10.2" y="2.8" font-size="10.5">y</text></g>
<!-- panel a ticks -->
<g font-size="15" text-anchor="end">
<text x="34.4" y="40.3">5</text><text x="34.4" y="165">0</text><text x="34.4" y="289.2">-5</text>
</g>
<g font-size="15" text-anchor="middle">
<text x="39" y="302">-5</text><text x="190.75" y="302">0</text><text x="342.5" y="302">5</text>
</g>
<text class="ser" x="181" y="321.7" font-size="19">A</text><text class="ser" x="193" y="324.5" font-size="13">x</text>
<g transform="translate(13,169) rotate(-90)"><text class="ser" x="0" y="0" font-size="17">A</text><text class="ser" x="11.6" y="3.6" font-size="12">y</text></g>
<!-- labels -->
<g class="lab" stroke="#000" stroke-width="0.45">
<text class="lab" x="-0.6" y="50.8" font-size="23" textLength="24.4" lengthAdjust="spacingAndGlyphs">(<tspan font-size="20.5">&#593;</tspan>)</text>
<text class="lab" x="360.8" y="55" font-size="23" textLength="26" lengthAdjust="spacingAndGlyphs">(b)</text>
<text class="lab" x="59.3" y="166.5" font-size="17.5" textLength="52" lengthAdjust="spacingAndGlyphs">(1,0,-1)</text>
<text class="lab" x="158.2" y="168.4" font-size="17.5" textLength="51.6" lengthAdjust="spacingAndGlyphs">(-1,0,1)</text>
<text class="lab" x="274.2" y="167.2" font-size="17.5" textLength="52.3" lengthAdjust="spacingAndGlyphs">(1,0,-1)</text>
</g>
</svg>
</body></html>
